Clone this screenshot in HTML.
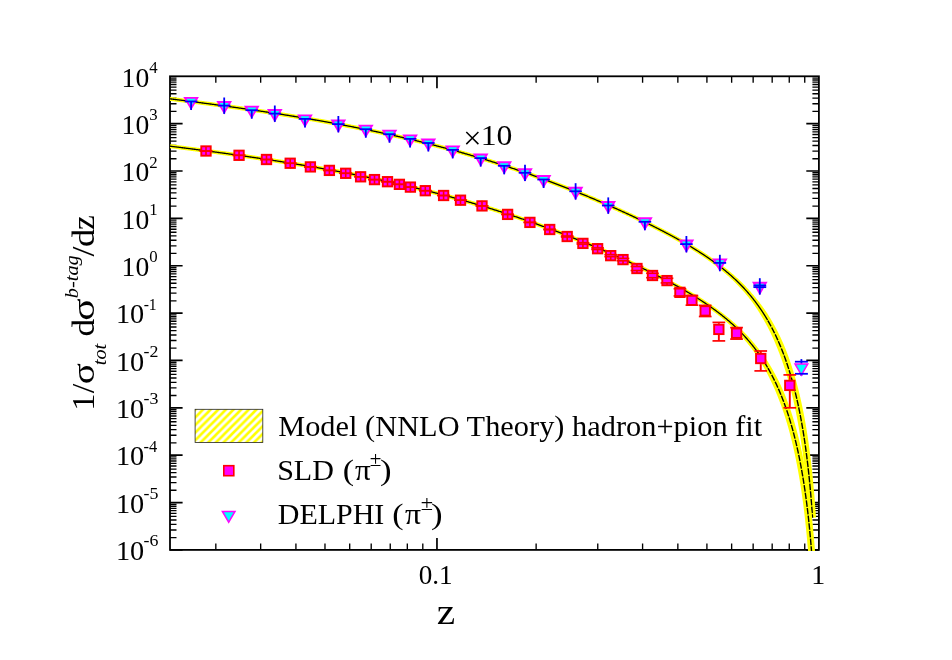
<!DOCTYPE html>
<html><head><meta charset="utf-8"><title>chart</title><style>html,body{margin:0;padding:0;background:#fff;}body{width:952px;height:660px;overflow:hidden;position:relative;font-family:"Liberation Serif",serif;}</style></head><body>
<svg width="952" height="660" viewBox="0 0 952 660" style="position:absolute;left:0;top:0;will-change:transform">
<defs><pattern id="hatch" patternUnits="userSpaceOnUse" width="7.63" height="7.63" x="2.20" y="0"><path d="M-2 9.63 L9.63 -2 M-2 2 L2 -2 M5.63 9.63 L9.63 5.63" stroke="#ffff00" stroke-width="2.6" fill="none"/></pattern>
<clipPath id="plotclip"><rect x="169.80" y="75.30" width="650.10" height="475.60"/></clipPath></defs>
<rect width="952" height="660" fill="#fff"/>
<path d="M436.96 549.90 v-12.00 M436.96 76.30 v12.00 M170.00 549.90 h12.60 M818.90 549.90 h-12.60 M170.00 502.54 h12.60 M818.90 502.54 h-12.60 M170.00 455.18 h12.60 M818.90 455.18 h-12.60 M170.00 407.82 h12.60 M818.90 407.82 h-12.60 M170.00 360.46 h12.60 M818.90 360.46 h-12.60 M170.00 313.10 h12.60 M818.90 313.10 h-12.60 M170.00 265.74 h12.60 M818.90 265.74 h-12.60 M170.00 218.38 h12.60 M818.90 218.38 h-12.60 M170.00 171.02 h12.60 M818.90 171.02 h-12.60 M170.00 123.66 h12.60 M818.90 123.66 h-12.60" stroke="#000" stroke-width="1.70" fill="none"/>
<path d="M215.82 549.90 v-6.50 M215.82 76.30 v6.50 M260.66 549.90 v-6.50 M260.66 76.30 v6.50 M295.92 549.90 v-6.50 M295.92 76.30 v6.50 M324.98 549.90 v-6.50 M324.98 76.30 v6.50 M349.70 549.90 v-6.50 M349.70 76.30 v6.50 M371.21 549.90 v-6.50 M371.21 76.30 v6.50 M390.25 549.90 v-6.50 M390.25 76.30 v6.50 M407.32 549.90 v-6.50 M407.32 76.30 v6.50 M422.80 549.90 v-6.50 M422.80 76.30 v6.50 M536.13 549.90 v-6.50 M536.13 76.30 v6.50 M597.76 549.90 v-6.50 M597.76 76.30 v6.50 M642.59 549.90 v-6.50 M642.59 76.30 v6.50 M677.85 549.90 v-6.50 M677.85 76.30 v6.50 M706.91 549.90 v-6.50 M706.91 76.30 v6.50 M731.64 549.90 v-6.50 M731.64 76.30 v6.50 M753.15 549.90 v-6.50 M753.15 76.30 v6.50 M772.18 549.90 v-6.50 M772.18 76.30 v6.50 M789.26 549.90 v-6.50 M789.26 76.30 v6.50 M804.74 549.90 v-6.50 M804.74 76.30 v6.50 M170.00 537.60 h6.50 M818.90 537.60 h-6.50 M170.00 529.96 h6.50 M818.90 529.96 h-6.50 M170.00 524.40 h6.50 M818.90 524.40 h-6.50 M170.00 520.03 h6.50 M818.90 520.03 h-6.50 M170.00 516.43 h6.50 M818.90 516.43 h-6.50 M170.00 513.36 h6.50 M818.90 513.36 h-6.50 M170.00 510.69 h6.50 M818.90 510.69 h-6.50 M170.00 508.33 h6.50 M818.90 508.33 h-6.50 M170.00 506.22 h6.50 M818.90 506.22 h-6.50 M170.00 504.30 h6.50 M818.90 504.30 h-6.50 M170.00 490.24 h6.50 M818.90 490.24 h-6.50 M170.00 482.60 h6.50 M818.90 482.60 h-6.50 M170.00 477.04 h6.50 M818.90 477.04 h-6.50 M170.00 472.67 h6.50 M818.90 472.67 h-6.50 M170.00 469.07 h6.50 M818.90 469.07 h-6.50 M170.00 466.00 h6.50 M818.90 466.00 h-6.50 M170.00 463.33 h6.50 M818.90 463.33 h-6.50 M170.00 460.97 h6.50 M818.90 460.97 h-6.50 M170.00 458.86 h6.50 M818.90 458.86 h-6.50 M170.00 456.94 h6.50 M818.90 456.94 h-6.50 M170.00 442.88 h6.50 M818.90 442.88 h-6.50 M170.00 435.24 h6.50 M818.90 435.24 h-6.50 M170.00 429.68 h6.50 M818.90 429.68 h-6.50 M170.00 425.31 h6.50 M818.90 425.31 h-6.50 M170.00 421.71 h6.50 M818.90 421.71 h-6.50 M170.00 418.64 h6.50 M818.90 418.64 h-6.50 M170.00 415.97 h6.50 M818.90 415.97 h-6.50 M170.00 413.61 h6.50 M818.90 413.61 h-6.50 M170.00 411.50 h6.50 M818.90 411.50 h-6.50 M170.00 409.58 h6.50 M818.90 409.58 h-6.50 M170.00 395.52 h6.50 M818.90 395.52 h-6.50 M170.00 387.88 h6.50 M818.90 387.88 h-6.50 M170.00 382.32 h6.50 M818.90 382.32 h-6.50 M170.00 377.95 h6.50 M818.90 377.95 h-6.50 M170.00 374.35 h6.50 M818.90 374.35 h-6.50 M170.00 371.28 h6.50 M818.90 371.28 h-6.50 M170.00 368.61 h6.50 M818.90 368.61 h-6.50 M170.00 366.25 h6.50 M818.90 366.25 h-6.50 M170.00 364.14 h6.50 M818.90 364.14 h-6.50 M170.00 362.22 h6.50 M818.90 362.22 h-6.50 M170.00 348.16 h6.50 M818.90 348.16 h-6.50 M170.00 340.52 h6.50 M818.90 340.52 h-6.50 M170.00 334.96 h6.50 M818.90 334.96 h-6.50 M170.00 330.59 h6.50 M818.90 330.59 h-6.50 M170.00 326.99 h6.50 M818.90 326.99 h-6.50 M170.00 323.92 h6.50 M818.90 323.92 h-6.50 M170.00 321.25 h6.50 M818.90 321.25 h-6.50 M170.00 318.89 h6.50 M818.90 318.89 h-6.50 M170.00 316.78 h6.50 M818.90 316.78 h-6.50 M170.00 314.86 h6.50 M818.90 314.86 h-6.50 M170.00 300.80 h6.50 M818.90 300.80 h-6.50 M170.00 293.16 h6.50 M818.90 293.16 h-6.50 M170.00 287.60 h6.50 M818.90 287.60 h-6.50 M170.00 283.23 h6.50 M818.90 283.23 h-6.50 M170.00 279.63 h6.50 M818.90 279.63 h-6.50 M170.00 276.56 h6.50 M818.90 276.56 h-6.50 M170.00 273.89 h6.50 M818.90 273.89 h-6.50 M170.00 271.53 h6.50 M818.90 271.53 h-6.50 M170.00 269.42 h6.50 M818.90 269.42 h-6.50 M170.00 267.50 h6.50 M818.90 267.50 h-6.50 M170.00 253.44 h6.50 M818.90 253.44 h-6.50 M170.00 245.80 h6.50 M818.90 245.80 h-6.50 M170.00 240.24 h6.50 M818.90 240.24 h-6.50 M170.00 235.87 h6.50 M818.90 235.87 h-6.50 M170.00 232.27 h6.50 M818.90 232.27 h-6.50 M170.00 229.20 h6.50 M818.90 229.20 h-6.50 M170.00 226.53 h6.50 M818.90 226.53 h-6.50 M170.00 224.17 h6.50 M818.90 224.17 h-6.50 M170.00 222.06 h6.50 M818.90 222.06 h-6.50 M170.00 220.14 h6.50 M818.90 220.14 h-6.50 M170.00 206.08 h6.50 M818.90 206.08 h-6.50 M170.00 198.44 h6.50 M818.90 198.44 h-6.50 M170.00 192.88 h6.50 M818.90 192.88 h-6.50 M170.00 188.51 h6.50 M818.90 188.51 h-6.50 M170.00 184.91 h6.50 M818.90 184.91 h-6.50 M170.00 181.84 h6.50 M818.90 181.84 h-6.50 M170.00 179.17 h6.50 M818.90 179.17 h-6.50 M170.00 176.81 h6.50 M818.90 176.81 h-6.50 M170.00 174.70 h6.50 M818.90 174.70 h-6.50 M170.00 172.78 h6.50 M818.90 172.78 h-6.50 M170.00 158.72 h6.50 M818.90 158.72 h-6.50 M170.00 151.08 h6.50 M818.90 151.08 h-6.50 M170.00 145.52 h6.50 M818.90 145.52 h-6.50 M170.00 141.15 h6.50 M818.90 141.15 h-6.50 M170.00 137.55 h6.50 M818.90 137.55 h-6.50 M170.00 134.48 h6.50 M818.90 134.48 h-6.50 M170.00 131.81 h6.50 M818.90 131.81 h-6.50 M170.00 129.45 h6.50 M818.90 129.45 h-6.50 M170.00 127.34 h6.50 M818.90 127.34 h-6.50 M170.00 125.42 h6.50 M818.90 125.42 h-6.50 M170.00 111.36 h6.50 M818.90 111.36 h-6.50 M170.00 103.72 h6.50 M818.90 103.72 h-6.50 M170.00 98.16 h6.50 M818.90 98.16 h-6.50 M170.00 93.79 h6.50 M818.90 93.79 h-6.50 M170.00 90.19 h6.50 M818.90 90.19 h-6.50 M170.00 87.12 h6.50 M818.90 87.12 h-6.50 M170.00 84.45 h6.50 M818.90 84.45 h-6.50 M170.00 82.09 h6.50 M818.90 82.09 h-6.50 M170.00 79.98 h6.50 M818.90 79.98 h-6.50 M170.00 78.06 h6.50 M818.90 78.06 h-6.50" stroke="#000" stroke-width="1.35" fill="none"/>
<rect x="170.00" y="76.30" width="648.90" height="473.60" fill="none" stroke="#000" stroke-width="1.80"/>
<g clip-path="url(#plotclip)">
<path d="M169.75 100.80 L170.45 100.88 L171.14 100.97 L171.84 101.06 L172.53 101.14 L173.22 101.23 L173.92 101.32 L174.61 101.41 L175.31 101.49 L176.00 101.58 L176.70 101.67 L177.39 101.75 L178.08 101.84 L178.78 101.93 L179.47 102.02 L180.17 102.11 L180.86 102.19 L181.55 102.28 L182.25 102.37 L182.94 102.46 L183.64 102.55 L184.33 102.64 L185.03 102.72 L185.72 102.81 L186.41 102.90 L187.11 102.99 L187.80 103.08 L188.50 103.17 L189.19 103.26 L189.88 103.35 L190.58 103.44 L191.27 103.53 L191.97 103.62 L192.66 103.71 L193.35 103.80 L194.05 103.89 L194.74 103.98 L195.43 104.07 L196.13 104.16 L196.82 104.25 L197.52 104.34 L198.21 104.43 L198.90 104.52 L199.60 104.61 L200.29 104.70 L200.98 104.79 L201.68 104.88 L202.37 104.98 L203.07 105.07 L203.76 105.16 L204.45 105.25 L205.15 105.34 L205.84 105.43 L206.53 105.53 L207.23 105.62 L207.92 105.71 L208.61 105.80 L209.31 105.90 L210.00 105.99 L210.69 106.08 L211.39 106.18 L212.08 106.27 L212.77 106.36 L213.47 106.46 L214.16 106.55 L214.85 106.64 L215.55 106.74 L216.24 106.83 L216.93 106.92 L217.63 107.02 L218.32 107.11 L219.01 107.21 L219.71 107.30 L220.40 107.40 L221.09 107.49 L221.79 107.59 L222.48 107.68 L223.17 107.78 L223.87 107.87 L224.56 107.97 L225.25 108.06 L225.95 108.16 L226.64 108.26 L227.33 108.35 L228.02 108.45 L228.72 108.54 L229.41 108.64 L230.10 108.74 L230.80 108.83 L231.49 108.93 L232.18 109.03 L232.87 109.13 L233.57 109.22 L234.26 109.32 L234.95 109.42 L235.65 109.52 L236.34 109.61 L237.03 109.71 L237.72 109.81 L238.42 109.91 L239.11 110.01 L239.80 110.11 L240.49 110.21 L241.19 110.30 L241.88 110.40 L242.57 110.50 L243.26 110.60 L243.96 110.70 L244.65 110.80 L245.34 110.90 L246.03 111.00 L246.73 111.10 L247.42 111.20 L248.11 111.30 L248.80 111.41 L249.49 111.51 L250.19 111.61 L250.88 111.71 L251.57 111.81 L252.26 111.91 L252.95 112.01 L253.65 112.12 L254.34 112.22 L255.03 112.32 L255.72 112.42 L256.41 112.53 L257.11 112.63 L257.80 112.73 L258.49 112.83 L259.18 112.94 L259.87 113.04 L260.57 113.15 L261.26 113.25 L261.95 113.35 L262.64 113.46 L263.33 113.56 L264.02 113.67 L264.72 113.77 L265.41 113.88 L266.10 113.98 L266.79 114.09 L267.48 114.19 L268.17 114.30 L268.86 114.40 L269.56 114.51 L270.25 114.62 L270.94 114.72 L271.63 114.83 L272.32 114.94 L273.01 115.04 L273.70 115.15 L274.40 115.26 L275.09 115.37 L275.78 115.47 L276.47 115.58 L277.16 115.69 L277.85 115.80 L278.54 115.91 L279.23 116.02 L279.92 116.12 L280.61 116.23 L281.30 116.34 L282.00 116.45 L282.69 116.56 L283.38 116.67 L284.07 116.78 L284.76 116.89 L285.45 117.00 L286.14 117.11 L286.83 117.22 L287.52 117.34 L288.21 117.45 L288.90 117.56 L289.59 117.67 L290.28 117.78 L290.97 117.89 L291.66 118.01 L292.35 118.12 L293.04 118.23 L293.73 118.35 L294.42 118.46 L295.11 118.57 L295.80 118.69 L296.49 118.80 L297.18 118.91 L297.87 119.03 L298.56 119.14 L299.25 119.26 L299.94 119.37 L300.63 119.49 L301.32 119.60 L302.01 119.72 L302.70 119.84 L303.39 119.95 L304.08 120.07 L304.77 120.18 L305.46 120.30 L306.15 120.42 L306.84 120.54 L307.53 120.65 L308.22 120.77 L308.91 120.89 L309.60 121.01 L310.29 121.13 L310.98 121.24 L311.67 121.36 L312.35 121.48 L313.04 121.60 L313.73 121.72 L314.42 121.84 L315.11 121.96 L315.80 122.08 L316.49 122.20 L317.18 122.32 L317.87 122.44 L318.55 122.56 L319.24 122.69 L319.93 122.81 L320.62 122.93 L321.31 123.05 L322.00 123.17 L322.69 123.30 L323.37 123.42 L324.06 123.54 L324.75 123.67 L325.44 123.79 L326.13 123.92 L326.82 124.04 L327.50 124.16 L328.19 124.29 L328.88 124.41 L329.57 124.54 L330.26 124.66 L330.94 124.79 L331.63 124.92 L332.32 125.04 L333.01 125.17 L333.69 125.30 L334.38 125.42 L335.07 125.55 L335.76 125.68 L336.44 125.81 L337.13 125.93 L337.82 126.06 L338.51 126.19 L339.19 126.32 L339.88 126.45 L340.57 126.58 L341.26 126.71 L341.94 126.84 L342.63 126.97 L343.32 127.10 L344.00 127.23 L344.69 127.36 L345.38 127.49 L346.06 127.63 L346.75 127.76 L347.44 127.89 L348.12 128.02 L348.81 128.15 L349.50 128.29 L350.18 128.42 L350.87 128.55 L351.55 128.69 L352.24 128.82 L352.93 128.96 L353.61 129.09 L354.30 129.23 L354.99 129.36 L355.67 129.50 L356.36 129.63 L357.04 129.77 L357.73 129.91 L358.41 130.04 L359.10 130.18 L359.79 130.32 L360.47 130.46 L361.16 130.59 L361.84 130.73 L362.53 130.87 L363.21 131.01 L363.90 131.15 L364.58 131.29 L365.27 131.43 L365.95 131.57 L366.64 131.71 L367.32 131.85 L368.01 131.99 L368.69 132.13 L369.38 132.27 L370.06 132.42 L370.75 132.56 L371.43 132.70 L372.11 132.84 L372.80 132.99 L373.48 133.13 L374.17 133.27 L374.85 133.42 L375.53 133.56 L376.22 133.71 L376.90 133.85 L377.59 134.00 L378.27 134.14 L378.95 134.29 L379.64 134.44 L380.32 134.58 L381.00 134.73 L381.69 134.88 L382.37 135.03 L383.05 135.17 L383.74 135.32 L384.42 135.47 L385.10 135.62 L385.79 135.77 L386.47 135.92 L387.15 136.07 L387.84 136.22 L388.52 136.37 L389.20 136.52 L389.88 136.67 L390.57 136.82 L391.25 136.97 L391.93 137.13 L392.61 137.28 L393.29 137.43 L393.98 137.58 L394.66 137.74 L395.34 137.89 L396.02 138.05 L396.70 138.20 L397.39 138.36 L398.07 138.51 L398.75 138.67 L399.43 138.82 L400.11 138.98 L400.79 139.14 L401.47 139.29 L402.15 139.45 L402.84 139.61 L403.52 139.77 L404.20 139.92 L404.88 140.08 L405.56 140.24 L406.24 140.40 L406.92 140.56 L407.60 140.72 L408.28 140.88 L408.96 141.04 L409.64 141.20 L410.32 141.37 L411.00 141.53 L411.68 141.69 L412.36 141.85 L413.04 142.02 L413.72 142.18 L414.40 142.34 L415.08 142.51 L415.76 142.67 L416.44 142.84 L417.12 143.00 L417.80 143.17 L418.48 143.33 L419.15 143.50 L419.83 143.66 L420.51 143.83 L421.19 144.00 L421.87 144.17 L422.55 144.33 L423.23 144.50 L423.90 144.67 L424.58 144.84 L425.26 145.01 L425.94 145.18 L426.62 145.35 L427.29 145.52 L427.97 145.69 L428.65 145.86 L429.33 146.04 L430.00 146.21 L430.68 146.38 L431.36 146.55 L432.04 146.73 L432.71 146.90 L433.39 147.07 L434.07 147.25 L434.74 147.42 L435.42 147.60 L436.10 147.77 L436.77 147.95 L437.45 148.13 L438.13 148.30 L438.80 148.48 L439.48 148.66 L440.15 148.83 L440.83 149.01 L441.51 149.19 L442.18 149.37 L442.86 149.55 L443.53 149.73 L444.21 149.91 L444.88 150.09 L445.56 150.27 L446.23 150.45 L446.91 150.63 L447.58 150.82 L448.26 151.00 L448.93 151.18 L449.61 151.37 L450.28 151.55 L450.95 151.73 L451.63 151.92 L452.30 152.10 L452.98 152.29 L453.65 152.47 L454.32 152.66 L455.00 152.85 L455.67 153.03 L456.34 153.22 L457.02 153.41 L457.69 153.59 L458.36 153.78 L459.04 153.97 L459.71 154.16 L460.38 154.35 L461.05 154.54 L461.73 154.73 L462.40 154.92 L463.07 155.11 L463.74 155.30 L464.42 155.50 L465.09 155.69 L465.76 155.88 L466.43 156.07 L467.10 156.27 L467.77 156.46 L468.44 156.66 L469.12 156.85 L469.79 157.05 L470.46 157.24 L471.13 157.44 L471.80 157.63 L472.47 157.83 L473.14 158.03 L473.81 158.23 L474.48 158.42 L475.15 158.62 L475.82 158.82 L476.49 159.02 L477.16 159.22 L477.83 159.42 L478.50 159.62 L479.17 159.82 L479.84 160.02 L480.51 160.23 L481.18 160.43 L481.84 160.63 L482.51 160.83 L483.18 161.04 L483.85 161.24 L484.52 161.44 L485.19 161.65 L485.86 161.85 L486.52 162.06 L487.19 162.27 L487.86 162.47 L488.53 162.68 L489.19 162.89 L489.86 163.09 L490.53 163.30 L491.20 163.51 L491.86 163.72 L492.53 163.93 L493.20 164.14 L493.86 164.35 L494.53 164.56 L495.20 164.77 L495.86 164.98 L496.53 165.19 L497.19 165.40 L497.86 165.61 L498.52 165.83 L499.19 166.04 L499.86 166.25 L500.52 166.47 L501.19 166.68 L501.85 166.90 L502.52 167.11 L503.18 167.33 L503.84 167.54 L504.51 167.76 L505.17 167.98 L505.84 168.20 L506.50 168.41 L507.17 168.63 L507.83 168.85 L508.49 169.07 L509.16 169.29 L509.82 169.51 L510.48 169.73 L511.15 169.95 L511.81 170.17 L512.47 170.39 L513.13 170.61 L513.80 170.84 L514.46 171.06 L515.12 171.28 L515.78 171.51 L516.45 171.73 L517.11 171.95 L517.77 172.18 L518.43 172.40 L519.09 172.63 L519.75 172.86 L520.41 173.08 L521.07 173.31 L521.74 173.54 L522.40 173.77 L523.06 173.99 L523.72 174.22 L524.38 174.45 L525.04 174.68 L525.70 174.91 L526.36 175.14 L527.02 175.37 L527.68 175.60 L528.34 175.83 L529.00 176.07 L529.65 176.30 L530.31 176.53 L530.97 176.76 L531.63 177.00 L532.29 177.23 L532.95 177.47 L533.61 177.70 L534.26 177.94 L534.92 178.17 L535.58 178.41 L536.24 178.64 L536.89 178.88 L537.55 179.12 L538.21 179.36 L538.87 179.59 L539.52 179.83 L540.18 180.07 L540.84 180.31 L541.49 180.55 L542.15 180.79 L542.81 181.03 L543.46 181.27 L544.12 181.51 L544.77 181.75 L545.43 182.00 L546.08 182.24 L546.74 182.48 L547.39 182.72 L548.05 182.97 L548.70 183.21 L549.36 183.46 L550.01 183.70 L550.67 183.95 L551.32 184.19 L551.98 184.44 L552.63 184.69 L553.28 184.93 L553.94 185.18 L554.59 185.43 L555.24 185.68 L555.90 185.93 L556.55 186.17 L557.20 186.42 L557.86 186.67 L558.51 186.92 L559.16 187.17 L559.81 187.43 L560.46 187.68 L561.12 187.93 L561.77 188.18 L562.42 188.43 L563.07 188.69 L563.72 188.94 L564.37 189.19 L565.02 189.45 L565.68 189.70 L566.33 189.96 L566.98 190.21 L567.63 190.47 L568.28 190.72 L568.93 190.98 L569.58 191.24 L570.23 191.50 L570.88 191.75 L571.53 192.01 L572.18 192.27 L572.82 192.53 L573.47 192.79 L574.12 193.05 L574.77 193.31 L575.42 193.57 L576.07 193.83 L576.72 194.09 L577.36 194.35 L578.01 194.62 L578.66 194.88 L579.31 195.14 L579.95 195.40 L580.60 195.67 L581.25 195.93 L581.89 196.20 L582.54 196.46 L583.19 196.73 L583.83 196.99 L584.48 197.26 L585.13 197.53 L585.77 197.79 L586.42 198.06 L587.06 198.33 L587.71 198.60 L588.35 198.86 L589.00 199.13 L589.64 199.40 L590.29 199.67 L590.93 199.94 L591.58 200.21 L592.22 200.48 L592.87 200.75 L593.51 201.03 L594.15 201.30 L594.80 201.57 L595.44 201.84 L596.08 202.12 L596.73 202.39 L597.37 202.66 L598.01 202.94 L598.66 203.21 L599.30 203.49 L599.94 203.76 L600.58 204.04 L601.22 204.32 L601.87 204.59 L602.51 204.87 L603.15 205.15 L603.79 205.43 L604.43 205.70 L605.07 205.98 L605.71 206.26 L606.35 206.54 L606.99 206.82 L607.63 207.10 L608.27 207.38 L608.91 207.66 L609.55 207.95 L610.19 208.23 L610.83 208.51 L611.47 208.79 L612.11 209.08 L612.75 209.36 L613.39 209.64 L614.02 209.93 L614.66 210.21 L615.30 210.50 L615.94 210.78 L616.58 211.07 L617.21 211.36 L617.85 211.64 L618.49 211.93 L619.12 212.22 L619.76 212.51 L620.40 212.80 L621.03 213.09 L621.67 213.37 L622.30 213.66 L622.94 213.96 L623.58 214.25 L624.21 214.54 L624.85 214.83 L625.48 215.12 L626.12 215.41 L626.75 215.71 L627.38 216.00 L628.02 216.29 L628.65 216.59 L629.29 216.88 L629.92 217.18 L630.55 217.47 L631.18 217.77 L631.82 218.07 L632.45 218.36 L633.08 218.66 L633.71 218.96 L634.35 219.26 L634.98 219.55 L635.61 219.85 L636.24 220.15 L636.87 220.45 L637.50 220.75 L638.13 221.06 L638.76 221.36 L639.39 221.66 L640.02 221.96 L640.65 222.26 L641.28 222.57 L641.91 222.87 L642.54 223.18 L643.17 223.48 L643.79 223.79 L644.42 224.09 L645.05 224.40 L645.68 224.71 L646.30 225.01 L646.93 225.32 L647.56 225.63 L648.18 225.94 L648.81 226.25 L649.44 226.56 L650.06 226.87 L650.69 227.18 L651.31 227.49 L651.94 227.81 L652.56 228.12 L653.18 228.43 L653.81 228.75 L654.43 229.06 L655.05 229.38 L655.68 229.69 L656.30 230.01 L656.92 230.33 L657.54 230.64 L658.16 230.96 L658.79 231.28 L659.41 231.60 L660.03 231.92 L660.65 232.24 L661.27 232.56 L661.89 232.88 L662.51 233.21 L663.12 233.53 L663.74 233.85 L664.36 234.18 L664.98 234.50 L665.60 234.83 L666.21 235.15 L666.83 235.48 L667.45 235.81 L668.06 236.14 L668.68 236.47 L669.29 236.80 L669.91 237.13 L670.52 237.46 L671.13 237.79 L671.75 238.12 L672.36 238.46 L672.97 238.79 L673.58 239.13 L674.20 239.46 L674.81 239.80 L675.42 240.14 L676.03 240.48 L676.64 240.81 L677.25 241.15 L677.86 241.50 L678.46 241.84 L679.07 242.18 L679.68 242.52 L680.28 242.87 L680.89 243.21 L681.50 243.56 L682.10 243.90 L682.71 244.25 L683.31 244.60 L683.91 244.95 L684.52 245.30 L685.12 245.65 L685.72 246.00 L686.32 246.36 L686.92 246.71 L687.52 247.07 L688.12 247.43 L688.71 247.79 L689.31 248.15 L689.91 248.51 L690.50 248.87 L691.10 249.23 L691.69 249.60 L692.28 249.96 L692.88 250.33 L693.47 250.70 L694.06 251.07 L694.65 251.44 L695.24 251.81 L695.83 252.18 L696.42 252.55 L697.00 252.92 L697.59 253.30 L698.18 253.68 L698.76 254.05 L699.35 254.43 L699.93 254.81 L700.51 255.19 L701.09 255.58 L701.67 255.96 L702.25 256.34 L702.83 256.73 L703.41 257.12 L703.99 257.51 L704.56 257.90 L705.14 258.29 L705.71 258.68 L706.29 259.07 L706.86 259.47 L707.43 259.87 L708.00 260.26 L708.57 260.66 L709.14 261.06 L709.71 261.47 L710.27 261.87 L710.84 262.27 L711.40 262.68 L711.96 263.09 L712.53 263.50 L713.09 263.91 L713.64 264.32 L714.20 264.74 L714.76 265.15 L715.32 265.57 L715.87 265.99 L716.42 266.41 L716.98 266.83 L717.53 267.25 L718.08 267.68 L718.62 268.10 L719.17 268.53 L719.72 268.96 L720.26 269.39 L720.80 269.82 L721.35 270.26 L721.88 270.70 L722.42 271.14 L722.95 271.58 L723.48 272.03 L724.01 272.48 L724.54 272.93 L725.07 273.38 L725.60 273.83 L726.12 274.28 L726.64 274.74 L727.17 275.19 L727.69 275.65 L728.20 276.11 L728.72 276.58 L729.24 277.04 L729.75 277.51 L730.26 277.97 L730.77 278.44 L731.28 278.91 L731.78 279.39 L732.29 279.86 L732.79 280.34 L733.29 280.82 L733.79 281.30 L734.29 281.78 L734.79 282.26 L735.28 282.75 L735.77 283.24 L736.26 283.72 L736.75 284.22 L737.24 284.71 L737.72 285.20 L738.20 285.70 L738.68 286.20 L739.16 286.70 L739.64 287.20 L740.12 287.70 L740.59 288.21 L741.06 288.71 L741.53 289.22 L741.99 289.73 L742.46 290.24 L742.92 290.76 L743.38 291.28 L743.84 291.79 L744.30 292.31 L744.75 292.84 L745.20 293.36 L745.65 293.89 L746.10 294.41 L746.54 294.94 L746.99 295.47 L747.43 296.00 L747.87 296.54 L748.30 297.07 L748.74 297.61 L749.17 298.15 L749.60 298.69 L750.03 299.24 L750.45 299.78 L750.88 300.33 L751.30 300.87 L751.72 301.42 L752.14 301.97 L752.55 302.53 L752.96 303.08 L753.36 303.65 L753.76 304.21 L754.15 304.78 L754.55 305.35 L754.94 305.92 L755.33 306.49 L755.71 307.06 L756.10 307.64 L756.48 308.21 L756.86 308.79 L757.24 309.37 L757.61 309.95 L757.99 310.53 L758.36 311.11 L758.73 311.69 L759.09 312.28 L759.46 312.87 L759.82 313.45 L760.18 314.04 L760.54 314.63 L760.89 315.23 L761.24 315.82 L761.60 316.41 L761.95 317.01 L762.31 317.60 L762.66 318.19 L763.01 318.78 L763.36 319.38 L763.71 319.98 L764.05 320.58 L764.39 321.17 L764.73 321.78 L765.07 322.38 L765.41 322.98 L765.74 323.58 L766.07 324.19 L766.40 324.80 L766.73 325.40 L767.06 326.01 L767.38 326.62 L767.70 327.24 L768.02 327.85 L768.34 328.46 L768.65 329.08 L768.96 329.69 L769.28 330.31 L769.58 330.93 L769.89 331.55 L770.20 332.17 L770.50 332.79 L770.80 333.41 L771.10 334.03 L771.40 334.66 L771.69 335.28 L771.98 335.91 L772.28 336.53 L772.57 337.16 L772.85 337.79 L773.14 338.42 L773.42 339.05 L773.70 339.68 L773.98 340.31 L774.26 340.95 L774.54 341.58 L774.81 342.22 L775.08 342.85 L775.35 343.49 L775.62 344.13 L775.89 344.76 L776.16 345.40 L776.42 346.04 L776.68 346.68 L776.94 347.33 L777.20 347.97 L777.45 348.61 L777.71 349.25 L777.96 349.90 L778.21 350.54 L778.46 351.19 L778.72 351.83 L778.97 352.48 L779.22 353.12 L779.47 353.77 L779.72 354.42 L779.97 355.06 L780.21 355.71 L780.46 356.36 L780.70 357.01 L780.94 357.66 L781.18 358.31 L781.41 358.96 L781.65 359.61 L781.88 360.27 L782.11 360.92 L782.34 361.57 L782.57 362.23 L782.80 362.88 L783.03 363.54 L783.25 364.20 L783.47 364.85 L783.69 365.51 L783.91 366.17 L784.13 366.83 L784.35 367.49 L784.56 368.15 L784.78 368.81 L784.99 369.47 L785.20 370.13 L785.41 370.79 L785.62 371.45 L785.83 372.12 L786.03 372.78 L786.23 373.45 L786.44 374.11 L786.64 374.77 L786.84 375.44 L787.04 376.11 L787.23 376.77 L787.43 377.44 L787.62 378.11 L787.82 378.77 L788.01 379.44 L788.20 380.11 L788.39 380.78 L788.58 381.45 L788.76 382.12 L788.95 382.79 L789.13 383.46 L789.32 384.13 L789.50 384.80 L789.68 385.47 L789.86 386.15 L790.03 386.82 L790.21 387.49 L790.39 388.16 L790.56 388.84 L790.73 389.51 L790.91 390.19 L791.08 390.86 L791.25 391.54 L791.42 392.21 L791.58 392.89 L791.75 393.56 L791.91 394.24 L792.08 394.92 L792.24 395.59 L792.40 396.27 L792.56 396.95 L792.72 397.63 L792.88 398.30 L793.04 398.98 L793.20 399.66 L793.35 400.34 L793.51 401.02 L793.66 401.70 L793.81 402.38 L793.96 403.06 L794.11 403.74 L794.26 404.42 L794.41 405.10 L794.56 405.78 L794.70 406.46 L794.85 407.15 L794.99 407.83 L795.13 408.51 L795.28 409.19 L795.42 409.88 L795.56 410.56 L795.70 411.24 L795.83 411.92 L795.97 412.61 L796.11 413.29 L796.24 413.98 L796.38 414.66 L796.51 415.35 L796.65 416.03 L796.78 416.71 L796.91 417.40 L797.04 418.09 L797.17 418.77 L797.30 419.46 L797.42 420.14 L797.55 420.83 L797.67 421.52 L797.80 422.20 L797.93 422.89 L798.05 423.57 L798.18 424.26 L798.30 424.95 L798.42 425.63 L798.55 426.32 L798.67 427.01 L798.79 427.70 L798.91 428.38 L799.03 429.07 L799.15 429.76 L799.26 430.45 L799.38 431.14 L799.50 431.83 L799.61 432.51 L799.73 433.20 L799.84 433.89 L799.95 434.58 L800.06 435.27 L800.18 435.96 L800.29 436.65 L800.40 437.34 L800.51 438.03 L800.61 438.72 L800.72 439.41 L800.83 440.10 L800.93 440.79 L801.04 441.48 L801.14 442.17 L801.25 442.86 L801.35 443.56 L801.45 444.25 L801.55 444.94 L801.66 445.63 L801.76 446.32 L801.86 447.01 L801.96 447.70 L802.05 448.40 L802.15 449.09 L802.25 449.78 L802.34 450.47 L802.44 451.17 L802.54 451.86 L802.63 452.55 L802.72 453.24 L802.82 453.94 L802.91 454.63 L803.00 455.32 L803.09 456.02 L803.18 456.71 L803.27 457.40 L803.36 458.10 L803.45 458.79 L803.54 459.48 L803.63 460.18 L803.71 460.87 L803.80 461.57 L803.88 462.26 L803.97 462.95 L804.05 463.65 L804.14 464.34 L804.22 465.04 L804.30 465.73 L804.39 466.43 L804.47 467.12 L804.55 467.82 L804.63 468.51 L804.71 469.21 L804.79 469.90 L804.87 470.60 L804.95 471.29 L805.02 471.99 L805.10 472.68 L805.18 473.38 L805.25 474.07 L805.33 474.77 L805.40 475.47 L805.48 476.16 L805.55 476.86 L805.63 477.55 L805.70 478.25 L805.77 478.95 L805.84 479.64 L805.92 480.34 L805.99 481.04 L806.06 481.73 L806.13 482.43 L806.20 483.12 L806.27 483.82 L806.33 484.52 L806.40 485.22 L806.47 485.91 L806.54 486.61 L806.60 487.31 L806.67 488.00 L806.74 488.70 L806.80 489.40 L806.87 490.09 L806.93 490.79 L806.99 491.49 L807.06 492.19 L807.12 492.88 L807.18 493.58 L807.24 494.28 L807.30 494.98 L807.36 495.67 L807.42 496.37 L807.48 497.07 L807.54 497.77 L807.60 498.47 L807.66 499.16 L807.72 499.86 L807.78 500.56 L807.83 501.26 L807.89 501.96 L807.95 502.65 L808.00 503.35 L808.06 504.05 L808.11 504.75 L808.17 505.45 L808.22 506.15 L808.28 506.84 L808.33 507.54 L808.38 508.24 L808.44 508.94 L808.49 509.64 L808.54 510.34 L808.59 511.04 L808.64 511.74 L808.69 512.43 L808.75 513.13 L808.80 513.83 L808.85 514.53 L808.90 515.23 L808.94 515.93 L808.99 516.63 L809.04 517.33 L809.09 518.03 L816.02 517.55 L815.98 516.85 L815.93 516.15 L815.88 515.45 L815.83 514.75 L815.78 514.04 L815.74 513.34 L815.69 512.64 L815.64 511.93 L815.59 511.23 L815.54 510.53 L815.48 509.83 L815.43 509.12 L815.38 508.42 L815.33 507.72 L815.28 507.02 L815.22 506.32 L815.17 505.61 L815.12 504.91 L815.06 504.21 L815.01 503.51 L814.95 502.80 L814.90 502.10 L814.84 501.40 L814.79 500.70 L814.73 499.99 L814.68 499.29 L814.62 498.59 L814.56 497.89 L814.50 497.19 L814.44 496.48 L814.39 495.78 L814.33 495.08 L814.27 494.38 L814.21 493.67 L814.15 492.97 L814.09 492.27 L814.02 491.57 L813.96 490.87 L813.90 490.16 L813.84 489.46 L813.78 488.76 L813.71 488.06 L813.65 487.36 L813.59 486.66 L813.52 485.95 L813.46 485.25 L813.39 484.55 L813.33 483.85 L813.26 483.15 L813.20 482.44 L813.13 481.74 L813.06 481.04 L812.99 480.34 L812.92 479.64 L812.86 478.94 L812.79 478.23 L812.72 477.53 L812.65 476.83 L812.58 476.13 L812.50 475.43 L812.43 474.73 L812.36 474.03 L812.29 473.32 L812.21 472.62 L812.14 471.92 L812.07 471.22 L811.99 470.52 L811.92 469.82 L811.84 469.12 L811.76 468.42 L811.69 467.72 L811.61 467.01 L811.53 466.31 L811.45 465.61 L811.37 464.91 L811.29 464.21 L811.21 463.51 L811.13 462.81 L811.05 462.11 L810.97 461.41 L810.89 460.71 L810.80 460.01 L810.72 459.31 L810.63 458.61 L810.55 457.91 L810.46 457.21 L810.38 456.51 L810.29 455.81 L810.20 455.10 L810.12 454.40 L810.03 453.70 L809.94 453.00 L809.85 452.30 L809.76 451.60 L809.67 450.90 L809.57 450.21 L809.48 449.51 L809.39 448.81 L809.29 448.11 L809.20 447.41 L809.11 446.71 L809.01 446.01 L808.91 445.31 L808.82 444.61 L808.72 443.91 L808.62 443.21 L808.52 442.51 L808.42 441.81 L808.32 441.11 L808.22 440.42 L808.12 439.72 L808.02 439.02 L807.91 438.32 L807.81 437.62 L807.70 436.92 L807.60 436.22 L807.49 435.53 L807.38 434.83 L807.28 434.13 L807.17 433.43 L807.06 432.73 L806.95 432.04 L806.84 431.34 L806.73 430.64 L806.61 429.94 L806.50 429.24 L806.39 428.55 L806.27 427.85 L806.16 427.15 L806.04 426.46 L805.92 425.76 L805.81 425.06 L805.69 424.36 L805.57 423.67 L805.45 422.97 L805.33 422.28 L805.20 421.58 L805.08 420.88 L804.95 420.19 L804.83 419.49 L804.70 418.80 L804.57 418.10 L804.44 417.41 L804.31 416.71 L804.18 416.02 L804.04 415.32 L803.91 414.63 L803.78 413.93 L803.64 413.24 L803.50 412.54 L803.37 411.85 L803.23 411.16 L803.09 410.46 L802.95 409.77 L802.81 409.08 L802.67 408.38 L802.52 407.69 L802.38 407.00 L802.23 406.30 L802.09 405.61 L801.94 404.92 L801.79 404.23 L801.64 403.53 L801.49 402.84 L801.34 402.15 L801.19 401.46 L801.03 400.77 L800.88 400.08 L800.72 399.39 L800.57 398.70 L800.41 398.01 L800.25 397.32 L800.09 396.63 L799.93 395.94 L799.77 395.25 L799.60 394.56 L799.44 393.87 L799.27 393.18 L799.10 392.49 L798.94 391.80 L798.77 391.11 L798.60 390.43 L798.43 389.74 L798.25 389.05 L798.08 388.36 L797.90 387.68 L797.73 386.99 L797.55 386.30 L797.37 385.62 L797.19 384.93 L797.01 384.25 L796.83 383.56 L796.64 382.88 L796.46 382.19 L796.27 381.51 L796.08 380.82 L795.89 380.14 L795.70 379.46 L795.51 378.77 L795.32 378.09 L795.12 377.41 L794.93 376.72 L794.73 376.04 L794.53 375.36 L794.33 374.68 L794.13 374.00 L793.93 373.32 L793.72 372.64 L793.52 371.96 L793.31 371.28 L793.10 370.60 L792.89 369.92 L792.68 369.24 L792.47 368.57 L792.25 367.89 L792.04 367.21 L791.82 366.54 L791.60 365.86 L791.38 365.18 L791.16 364.51 L790.94 363.83 L790.71 363.16 L790.48 362.49 L790.26 361.81 L790.03 361.14 L789.79 360.47 L789.56 359.80 L789.33 359.12 L789.09 358.45 L788.85 357.78 L788.61 357.11 L788.37 356.44 L788.13 355.77 L787.88 355.11 L787.64 354.44 L787.39 353.77 L787.14 353.10 L786.89 352.44 L786.63 351.77 L786.38 351.11 L786.12 350.44 L785.86 349.78 L785.60 349.12 L785.34 348.46 L785.07 347.80 L784.79 347.14 L784.52 346.48 L784.24 345.82 L783.96 345.17 L783.68 344.51 L783.40 343.86 L783.12 343.21 L782.83 342.55 L782.54 341.90 L782.25 341.25 L781.96 340.60 L781.66 339.95 L781.37 339.30 L781.07 338.65 L780.77 338.01 L780.47 337.36 L780.16 336.72 L779.85 336.07 L779.55 335.43 L779.24 334.79 L778.92 334.15 L778.61 333.51 L778.29 332.87 L777.97 332.23 L777.65 331.59 L777.33 330.95 L777.00 330.32 L776.68 329.68 L776.35 329.05 L776.02 328.42 L775.68 327.79 L775.35 327.16 L775.01 326.53 L774.67 325.90 L774.32 325.28 L773.98 324.65 L773.63 324.03 L773.28 323.40 L772.93 322.78 L772.58 322.16 L772.22 321.54 L771.87 320.92 L771.51 320.31 L771.14 319.69 L770.78 319.08 L770.41 318.47 L770.04 317.85 L769.67 317.24 L769.30 316.64 L768.92 316.03 L768.54 315.42 L768.16 314.82 L767.78 314.22 L767.39 313.61 L767.00 313.02 L766.61 312.42 L766.21 311.83 L765.80 311.24 L765.40 310.65 L764.99 310.07 L764.58 309.48 L764.17 308.90 L763.76 308.32 L763.34 307.74 L762.92 307.16 L762.50 306.58 L762.08 306.01 L761.65 305.43 L761.22 304.86 L760.79 304.29 L760.36 303.72 L759.93 303.16 L759.49 302.59 L759.05 302.03 L758.61 301.47 L758.16 300.91 L757.72 300.36 L757.27 299.80 L756.83 299.24 L756.38 298.69 L755.94 298.13 L755.49 297.57 L755.05 297.02 L754.59 296.47 L754.14 295.92 L753.69 295.37 L753.23 294.82 L752.77 294.28 L752.31 293.74 L751.84 293.20 L751.38 292.66 L750.91 292.12 L750.44 291.59 L749.97 291.05 L749.49 290.52 L749.02 290.00 L748.54 289.47 L748.06 288.94 L747.57 288.42 L747.09 287.90 L746.60 287.38 L746.12 286.86 L745.63 286.35 L745.13 285.83 L744.64 285.32 L744.14 284.81 L743.65 284.30 L743.15 283.80 L742.65 283.29 L742.14 282.79 L741.64 282.29 L741.13 281.80 L740.62 281.30 L740.11 280.81 L739.60 280.31 L739.08 279.82 L738.57 279.34 L738.05 278.85 L737.53 278.37 L737.01 277.88 L736.49 277.40 L735.96 276.93 L735.43 276.45 L734.91 275.98 L734.38 275.51 L733.85 275.03 L733.31 274.57 L732.78 274.10 L732.24 273.64 L731.71 273.17 L731.17 272.71 L730.63 272.26 L730.08 271.80 L729.54 271.34 L729.00 270.89 L728.45 270.44 L727.90 269.99 L727.35 269.54 L726.80 269.10 L726.25 268.65 L725.70 268.21 L725.14 267.77 L724.59 267.34 L724.03 266.90 L723.47 266.46 L722.92 266.02 L722.36 265.59 L721.80 265.15 L721.24 264.72 L720.68 264.29 L720.12 263.86 L719.55 263.44 L718.99 263.01 L718.42 262.59 L717.86 262.17 L717.29 261.75 L716.72 261.33 L716.15 260.91 L715.58 260.50 L715.00 260.08 L714.43 259.67 L713.85 259.26 L713.28 258.85 L712.70 258.44 L712.12 258.04 L711.55 257.63 L710.97 257.23 L710.39 256.83 L709.80 256.43 L709.22 256.03 L708.64 255.63 L708.05 255.24 L707.47 254.84 L706.88 254.45 L706.30 254.06 L705.71 253.67 L705.12 253.28 L704.53 252.90 L703.94 252.51 L703.35 252.12 L702.76 251.74 L702.17 251.36 L701.57 250.98 L700.98 250.60 L700.38 250.22 L699.79 249.84 L699.19 249.47 L698.60 249.10 L698.00 248.72 L697.40 248.35 L696.80 247.98 L696.20 247.61 L695.60 247.24 L695.00 246.87 L694.40 246.51 L693.80 246.14 L693.19 245.78 L692.59 245.42 L691.99 245.05 L691.38 244.69 L690.78 244.33 L690.17 243.98 L689.57 243.62 L688.96 243.26 L688.35 242.91 L687.74 242.55 L687.14 242.20 L686.53 241.84 L685.92 241.49 L685.31 241.14 L684.70 240.79 L684.09 240.43 L683.48 240.08 L682.87 239.74 L682.26 239.39 L681.65 239.04 L681.04 238.70 L680.42 238.35 L679.81 238.01 L679.20 237.66 L678.58 237.32 L677.97 236.98 L677.35 236.64 L676.74 236.30 L676.12 235.96 L675.51 235.62 L674.89 235.28 L674.27 234.95 L673.66 234.61 L673.04 234.27 L672.42 233.94 L671.80 233.61 L671.19 233.27 L670.57 232.94 L669.95 232.61 L669.33 232.28 L668.71 231.95 L668.09 231.62 L667.47 231.29 L666.84 230.96 L666.22 230.64 L665.60 230.31 L664.98 229.98 L664.36 229.66 L663.73 229.33 L663.11 229.01 L662.49 228.69 L661.86 228.37 L661.24 228.04 L660.61 227.72 L659.99 227.40 L659.36 227.08 L658.74 226.76 L658.11 226.44 L657.49 226.13 L656.86 225.81 L656.23 225.49 L655.61 225.18 L654.98 224.86 L654.35 224.54 L653.73 224.23 L653.10 223.92 L652.47 223.60 L651.84 223.29 L651.21 222.98 L650.58 222.67 L649.96 222.35 L649.33 222.04 L648.70 221.73 L648.07 221.42 L647.44 221.11 L646.81 220.81 L646.18 220.50 L645.54 220.19 L644.91 219.88 L644.28 219.58 L643.65 219.27 L643.02 218.97 L642.39 218.66 L641.75 218.36 L641.12 218.05 L640.49 217.75 L639.86 217.45 L639.22 217.14 L638.59 216.84 L637.96 216.54 L637.32 216.24 L636.69 215.94 L636.05 215.64 L635.42 215.34 L634.79 215.04 L634.15 214.74 L633.52 214.44 L632.88 214.15 L632.25 213.85 L631.61 213.55 L630.97 213.26 L630.34 212.96 L629.70 212.66 L629.06 212.37 L628.43 212.08 L627.79 211.78 L627.15 211.49 L626.52 211.19 L625.88 210.90 L625.24 210.61 L624.60 210.32 L623.97 210.03 L623.33 209.73 L622.69 209.44 L622.05 209.15 L621.41 208.86 L620.77 208.58 L620.13 208.29 L619.49 208.00 L618.85 207.71 L618.21 207.42 L617.57 207.13 L616.93 206.85 L616.29 206.56 L615.65 206.28 L615.01 205.99 L614.37 205.71 L613.73 205.42 L613.09 205.14 L612.45 204.85 L611.81 204.57 L611.17 204.29 L610.52 204.00 L609.88 203.72 L609.24 203.44 L608.60 203.16 L607.95 202.88 L607.31 202.60 L606.67 202.32 L606.03 202.04 L605.38 201.76 L604.74 201.48 L604.10 201.20 L603.45 200.92 L602.81 200.64 L602.16 200.37 L601.52 200.09 L600.87 199.81 L600.23 199.54 L599.58 199.26 L598.94 198.99 L598.29 198.71 L597.65 198.44 L597.00 198.16 L596.36 197.89 L595.71 197.61 L595.07 197.34 L594.42 197.07 L593.77 196.80 L593.13 196.52 L592.48 196.25 L591.83 195.98 L591.19 195.71 L590.54 195.44 L589.89 195.17 L589.24 194.90 L588.60 194.63 L587.95 194.36 L587.30 194.10 L586.65 193.83 L586.00 193.56 L585.36 193.29 L584.71 193.03 L584.06 192.76 L583.41 192.50 L582.76 192.23 L582.11 191.96 L581.46 191.70 L580.81 191.44 L580.16 191.17 L579.51 190.91 L578.86 190.65 L578.21 190.38 L577.56 190.12 L576.91 189.86 L576.26 189.60 L575.61 189.34 L574.96 189.08 L574.31 188.81 L573.66 188.55 L573.00 188.30 L572.35 188.04 L571.70 187.78 L571.05 187.52 L570.40 187.26 L569.74 187.00 L569.09 186.75 L568.44 186.49 L567.79 186.23 L567.13 185.98 L566.48 185.72 L565.83 185.47 L565.17 185.21 L564.52 184.96 L563.87 184.70 L563.21 184.45 L562.56 184.20 L561.90 183.94 L561.25 183.69 L560.60 183.44 L559.94 183.19 L559.29 182.94 L558.63 182.69 L557.98 182.44 L557.32 182.19 L556.67 181.94 L556.01 181.69 L555.35 181.44 L554.70 181.19 L554.04 180.94 L553.39 180.70 L552.73 180.45 L552.07 180.20 L551.42 179.96 L550.76 179.71 L550.10 179.47 L549.45 179.22 L548.79 178.98 L548.13 178.73 L547.47 178.49 L546.82 178.24 L546.16 178.00 L545.50 177.76 L544.84 177.52 L544.18 177.27 L543.52 177.03 L542.87 176.79 L542.21 176.55 L541.55 176.31 L540.89 176.07 L540.23 175.83 L539.57 175.59 L538.91 175.36 L538.25 175.12 L537.59 174.88 L536.93 174.64 L536.27 174.41 L535.61 174.17 L534.95 173.93 L534.29 173.70 L533.63 173.46 L532.97 173.23 L532.31 172.99 L531.65 172.76 L530.99 172.53 L530.32 172.29 L529.66 172.06 L529.00 171.83 L528.34 171.60 L527.68 171.36 L527.01 171.13 L526.35 170.90 L525.69 170.67 L525.03 170.44 L524.36 170.21 L523.70 169.98 L523.04 169.76 L522.37 169.53 L521.71 169.30 L521.05 169.07 L520.38 168.85 L519.72 168.62 L519.06 168.39 L518.39 168.17 L517.73 167.94 L517.06 167.72 L516.40 167.49 L515.74 167.27 L515.07 167.05 L514.41 166.82 L513.74 166.60 L513.08 166.38 L512.41 166.15 L511.74 165.93 L511.08 165.71 L510.41 165.49 L509.75 165.27 L509.08 165.05 L508.42 164.83 L507.75 164.61 L507.08 164.39 L506.42 164.18 L505.75 163.96 L505.08 163.74 L504.42 163.52 L503.75 163.31 L503.08 163.09 L502.41 162.88 L501.75 162.66 L501.08 162.45 L500.41 162.23 L499.74 162.02 L499.08 161.80 L498.41 161.59 L497.74 161.38 L497.07 161.17 L496.40 160.95 L495.73 160.74 L495.07 160.53 L494.40 160.32 L493.73 160.11 L493.06 159.90 L492.39 159.69 L491.72 159.48 L491.05 159.27 L490.38 159.06 L489.71 158.86 L489.04 158.65 L488.37 158.44 L487.70 158.24 L487.03 158.03 L486.36 157.82 L485.69 157.62 L485.02 157.41 L484.35 157.21 L483.68 157.01 L483.01 156.80 L482.33 156.60 L481.66 156.40 L480.99 156.19 L480.32 155.99 L479.65 155.79 L478.98 155.59 L478.30 155.39 L477.63 155.19 L476.96 154.99 L476.29 154.79 L475.62 154.59 L474.94 154.39 L474.27 154.19 L473.60 153.99 L472.92 153.80 L472.25 153.60 L471.58 153.40 L470.91 153.21 L470.23 153.01 L469.56 152.82 L468.88 152.62 L468.21 152.43 L467.54 152.23 L466.86 152.04 L466.19 151.84 L465.52 151.65 L464.84 151.46 L464.17 151.27 L463.49 151.07 L462.82 150.88 L462.14 150.69 L461.47 150.50 L460.79 150.31 L460.12 150.12 L459.44 149.93 L458.77 149.74 L458.09 149.55 L457.42 149.37 L456.74 149.18 L456.06 148.99 L455.39 148.80 L454.71 148.62 L454.04 148.43 L453.36 148.24 L452.68 148.06 L452.01 147.87 L451.33 147.69 L450.66 147.51 L449.98 147.32 L449.30 147.14 L448.62 146.95 L447.95 146.77 L447.27 146.59 L446.59 146.41 L445.92 146.23 L445.24 146.05 L444.56 145.86 L443.88 145.68 L443.21 145.50 L442.53 145.32 L441.85 145.15 L441.17 144.97 L440.49 144.79 L439.82 144.61 L439.14 144.43 L438.46 144.26 L437.78 144.08 L437.10 143.90 L436.42 143.73 L435.74 143.55 L435.07 143.38 L434.39 143.20 L433.71 143.03 L433.03 142.85 L432.35 142.68 L431.67 142.50 L430.99 142.33 L430.31 142.16 L429.63 141.99 L428.95 141.81 L428.27 141.64 L427.59 141.47 L426.91 141.30 L426.23 141.13 L425.55 140.96 L424.87 140.79 L424.19 140.62 L423.51 140.45 L422.83 140.28 L422.15 140.12 L421.47 139.95 L420.79 139.78 L420.11 139.61 L419.43 139.45 L418.74 139.28 L418.06 139.11 L417.38 138.95 L416.70 138.78 L416.02 138.62 L415.34 138.45 L414.66 138.29 L413.97 138.13 L413.29 137.96 L412.61 137.80 L411.93 137.64 L411.25 137.47 L410.56 137.31 L409.88 137.15 L409.20 136.99 L408.52 136.83 L407.84 136.67 L407.15 136.51 L406.47 136.35 L405.79 136.19 L405.10 136.03 L404.42 135.87 L403.74 135.71 L403.06 135.55 L402.37 135.40 L401.69 135.24 L401.01 135.08 L400.32 134.92 L399.64 134.77 L398.96 134.61 L398.27 134.46 L397.59 134.30 L396.91 134.15 L396.22 133.99 L395.54 133.84 L394.85 133.68 L394.17 133.53 L393.49 133.38 L392.80 133.22 L392.12 133.07 L391.43 132.92 L390.75 132.77 L390.06 132.61 L389.38 132.46 L388.70 132.31 L388.01 132.16 L387.33 132.01 L386.64 131.86 L385.96 131.71 L385.27 131.56 L384.59 131.41 L383.90 131.26 L383.22 131.12 L382.53 130.97 L381.85 130.82 L381.16 130.67 L380.48 130.53 L379.79 130.38 L379.10 130.23 L378.42 130.09 L377.73 129.94 L377.05 129.79 L376.36 129.65 L375.68 129.50 L374.99 129.36 L374.30 129.22 L373.62 129.07 L372.93 128.93 L372.25 128.79 L371.56 128.64 L370.87 128.50 L370.19 128.36 L369.50 128.22 L368.81 128.07 L368.13 127.93 L367.44 127.79 L366.75 127.65 L366.07 127.51 L365.38 127.37 L364.69 127.23 L364.01 127.09 L363.32 126.95 L362.63 126.81 L361.95 126.67 L361.26 126.54 L360.57 126.40 L359.89 126.26 L359.20 126.12 L358.51 125.98 L357.82 125.85 L357.14 125.71 L356.45 125.57 L355.76 125.44 L355.07 125.30 L354.39 125.17 L353.70 125.03 L353.01 124.90 L352.32 124.76 L351.63 124.63 L350.95 124.49 L350.26 124.36 L349.57 124.23 L348.88 124.09 L348.19 123.96 L347.51 123.83 L346.82 123.70 L346.13 123.56 L345.44 123.43 L344.75 123.30 L344.06 123.17 L343.38 123.04 L342.69 122.91 L342.00 122.78 L341.31 122.65 L340.62 122.52 L339.93 122.39 L339.24 122.26 L338.55 122.13 L337.87 122.00 L337.18 121.87 L336.49 121.75 L335.80 121.62 L335.11 121.49 L334.42 121.36 L333.73 121.24 L333.04 121.11 L332.35 120.98 L331.66 120.86 L330.97 120.73 L330.29 120.60 L329.60 120.48 L328.91 120.35 L328.22 120.23 L327.53 120.10 L326.84 119.98 L326.15 119.85 L325.46 119.73 L324.77 119.61 L324.08 119.48 L323.39 119.36 L322.70 119.24 L322.01 119.11 L321.32 118.99 L320.63 118.87 L319.94 118.75 L319.25 118.63 L318.56 118.50 L317.87 118.38 L317.18 118.26 L316.49 118.14 L315.80 118.02 L315.11 117.90 L314.42 117.78 L313.73 117.66 L313.04 117.54 L312.35 117.42 L311.66 117.30 L310.97 117.18 L310.27 117.06 L309.58 116.95 L308.89 116.83 L308.20 116.71 L307.51 116.59 L306.82 116.47 L306.13 116.36 L305.44 116.24 L304.75 116.12 L304.06 116.01 L303.37 115.89 L302.68 115.77 L301.98 115.66 L301.29 115.54 L300.60 115.43 L299.91 115.31 L299.22 115.20 L298.53 115.08 L297.84 114.97 L297.15 114.85 L296.46 114.74 L295.76 114.63 L295.07 114.51 L294.38 114.40 L293.69 114.29 L293.00 114.17 L292.31 114.06 L291.62 113.95 L290.92 113.83 L290.23 113.72 L289.54 113.61 L288.85 113.50 L288.16 113.39 L287.47 113.28 L286.77 113.16 L286.08 113.05 L285.39 112.94 L284.70 112.83 L284.01 112.72 L283.31 112.61 L282.62 112.50 L281.93 112.39 L281.24 112.28 L280.55 112.17 L279.85 112.06 L279.16 111.95 L278.47 111.85 L277.78 111.74 L277.09 111.63 L276.39 111.52 L275.70 111.41 L275.01 111.31 L274.32 111.20 L273.63 111.09 L272.93 110.98 L272.24 110.88 L271.55 110.77 L270.86 110.66 L270.16 110.56 L269.47 110.45 L268.78 110.34 L268.09 110.24 L267.39 110.13 L266.70 110.03 L266.01 109.92 L265.32 109.82 L264.62 109.71 L263.93 109.61 L263.24 109.50 L262.55 109.40 L261.85 109.29 L261.16 109.19 L260.47 109.09 L259.77 108.98 L259.08 108.88 L258.39 108.78 L257.70 108.67 L257.00 108.57 L256.31 108.47 L255.62 108.36 L254.92 108.26 L254.23 108.16 L253.54 108.06 L252.84 107.95 L252.15 107.85 L251.46 107.75 L250.77 107.65 L250.07 107.55 L249.38 107.45 L248.69 107.35 L247.99 107.25 L247.30 107.14 L246.61 107.04 L245.91 106.94 L245.22 106.84 L244.53 106.74 L243.83 106.64 L243.14 106.54 L242.45 106.44 L241.75 106.35 L241.06 106.25 L240.37 106.15 L239.67 106.05 L238.98 105.95 L238.29 105.85 L237.59 105.75 L236.90 105.65 L236.21 105.56 L235.51 105.46 L234.82 105.36 L234.12 105.26 L233.43 105.16 L232.74 105.07 L232.04 104.97 L231.35 104.87 L230.66 104.78 L229.96 104.68 L229.27 104.58 L228.58 104.49 L227.88 104.39 L227.19 104.29 L226.49 104.20 L225.80 104.10 L225.11 104.01 L224.41 103.91 L223.72 103.81 L223.02 103.72 L222.33 103.62 L221.64 103.53 L220.94 103.43 L220.25 103.34 L219.56 103.24 L218.86 103.15 L218.17 103.06 L217.47 102.96 L216.78 102.87 L216.08 102.77 L215.39 102.68 L214.70 102.58 L214.00 102.49 L213.31 102.40 L212.61 102.30 L211.92 102.21 L211.23 102.12 L210.53 102.03 L209.84 101.93 L209.14 101.84 L208.45 101.75 L207.76 101.65 L207.06 101.56 L206.37 101.47 L205.67 101.38 L204.98 101.29 L204.28 101.19 L203.59 101.10 L202.90 101.01 L202.20 100.92 L201.51 100.83 L200.81 100.74 L200.12 100.64 L199.42 100.55 L198.73 100.46 L198.03 100.37 L197.34 100.28 L196.65 100.19 L195.95 100.10 L195.26 100.01 L194.56 99.92 L193.87 99.83 L193.17 99.74 L192.48 99.65 L191.78 99.56 L191.09 99.47 L190.39 99.38 L189.70 99.29 L189.01 99.20 L188.31 99.11 L187.62 99.02 L186.92 98.93 L186.23 98.85 L185.53 98.76 L184.84 98.67 L184.14 98.58 L183.45 98.49 L182.75 98.40 L182.06 98.31 L181.36 98.23 L180.67 98.14 L179.97 98.05 L179.28 97.96 L178.59 97.87 L177.89 97.79 L177.20 97.70 L176.50 97.61 L175.81 97.52 L175.11 97.44 L174.42 97.35 L173.72 97.26 L173.03 97.18 L172.33 97.09 L171.64 97.00 L170.94 96.91 L170.25 96.83Z" fill="#ffff00" stroke="none"/>
<path d="M170.00 98.81 L170.69 98.90 L171.39 98.99 L172.08 99.07 L172.78 99.16 L173.47 99.25 L174.17 99.33 L174.86 99.42 L175.56 99.51 L176.25 99.60 L176.95 99.68 L177.64 99.77 L178.33 99.86 L179.03 99.95 L179.72 100.03 L180.42 100.12 L181.11 100.21 L181.81 100.30 L182.50 100.39 L183.20 100.47 L183.89 100.56 L184.58 100.65 L185.28 100.74 L185.97 100.83 L186.67 100.92 L187.36 101.01 L188.06 101.10 L188.75 101.19 L189.44 101.27 L190.14 101.36 L190.83 101.45 L191.53 101.54 L192.22 101.63 L192.92 101.72 L193.61 101.81 L194.30 101.90 L195.00 101.99 L195.69 102.08 L196.39 102.17 L197.08 102.26 L197.78 102.36 L198.47 102.45 L199.16 102.54 L199.86 102.63 L200.55 102.72 L201.25 102.81 L201.94 102.90 L202.63 102.99 L203.33 103.08 L204.02 103.18 L204.72 103.27 L205.41 103.36 L206.10 103.45 L206.80 103.54 L207.49 103.64 L208.19 103.73 L208.88 103.82 L209.57 103.91 L210.27 104.01 L210.96 104.10 L211.65 104.19 L212.35 104.29 L213.04 104.38 L213.74 104.47 L214.43 104.57 L215.12 104.66 L215.82 104.75 L216.51 104.85 L217.20 104.94 L217.90 105.04 L218.59 105.13 L219.28 105.23 L219.98 105.32 L220.67 105.42 L221.37 105.51 L222.06 105.61 L222.75 105.70 L223.45 105.80 L224.14 105.89 L224.83 105.99 L225.53 106.08 L226.22 106.18 L226.91 106.27 L227.61 106.37 L228.30 106.47 L228.99 106.56 L229.69 106.66 L230.38 106.76 L231.07 106.85 L231.77 106.95 L232.46 107.05 L233.15 107.15 L233.85 107.24 L234.54 107.34 L235.23 107.44 L235.93 107.54 L236.62 107.63 L237.31 107.73 L238.00 107.83 L238.70 107.93 L239.39 108.03 L240.08 108.13 L240.78 108.23 L241.47 108.32 L242.16 108.42 L242.86 108.52 L243.55 108.62 L244.24 108.72 L244.93 108.82 L245.63 108.92 L246.32 109.02 L247.01 109.12 L247.71 109.22 L248.40 109.33 L249.09 109.43 L249.78 109.53 L250.48 109.63 L251.17 109.73 L251.86 109.83 L252.55 109.93 L253.25 110.04 L253.94 110.14 L254.63 110.24 L255.32 110.34 L256.02 110.44 L256.71 110.55 L257.40 110.65 L258.09 110.75 L258.79 110.86 L259.48 110.96 L260.17 111.06 L260.86 111.17 L261.55 111.27 L262.25 111.38 L262.94 111.48 L263.63 111.58 L264.32 111.69 L265.02 111.79 L265.71 111.90 L266.40 112.00 L267.09 112.11 L267.78 112.22 L268.48 112.32 L269.17 112.43 L269.86 112.53 L270.55 112.64 L271.24 112.75 L271.94 112.85 L272.63 112.96 L273.32 113.07 L274.01 113.17 L274.70 113.28 L275.39 113.39 L276.09 113.50 L276.78 113.61 L277.47 113.71 L278.16 113.82 L278.85 113.93 L279.54 114.04 L280.24 114.15 L280.93 114.26 L281.62 114.37 L282.31 114.48 L283.00 114.59 L283.69 114.70 L284.38 114.81 L285.07 114.92 L285.77 115.03 L286.46 115.14 L287.15 115.25 L287.84 115.36 L288.53 115.47 L289.22 115.58 L289.91 115.70 L290.60 115.81 L291.29 115.92 L291.99 116.03 L292.68 116.15 L293.37 116.26 L294.06 116.37 L294.75 116.49 L295.44 116.60 L296.13 116.71 L296.82 116.83 L297.51 116.94 L298.20 117.06 L298.89 117.17 L299.58 117.29 L300.27 117.40 L300.96 117.52 L301.65 117.63 L302.34 117.75 L303.03 117.86 L303.73 117.98 L304.42 118.10 L305.11 118.21 L305.80 118.33 L306.49 118.45 L307.18 118.56 L307.87 118.68 L308.56 118.80 L309.25 118.92 L309.94 119.04 L310.63 119.15 L311.32 119.27 L312.01 119.39 L312.70 119.51 L313.39 119.63 L314.08 119.75 L314.76 119.87 L315.45 119.99 L316.14 120.11 L316.83 120.23 L317.52 120.35 L318.21 120.47 L318.90 120.60 L319.59 120.72 L320.28 120.84 L320.97 120.96 L321.66 121.08 L322.35 121.21 L323.04 121.33 L323.73 121.45 L324.42 121.58 L325.10 121.70 L325.79 121.82 L326.48 121.95 L327.17 122.07 L327.86 122.20 L328.55 122.32 L329.24 122.45 L329.93 122.57 L330.62 122.70 L331.30 122.82 L331.99 122.95 L332.68 123.08 L333.37 123.20 L334.06 123.33 L334.75 123.46 L335.43 123.58 L336.12 123.71 L336.81 123.84 L337.50 123.97 L338.19 124.10 L338.88 124.23 L339.56 124.35 L340.25 124.48 L340.94 124.61 L341.63 124.74 L342.31 124.87 L343.00 125.00 L343.69 125.14 L344.38 125.27 L345.07 125.40 L345.75 125.53 L346.44 125.66 L347.13 125.79 L347.82 125.93 L348.50 126.06 L349.19 126.19 L349.88 126.32 L350.56 126.46 L351.25 126.59 L351.94 126.73 L352.63 126.86 L353.31 127.00 L354.00 127.13 L354.69 127.27 L355.37 127.40 L356.06 127.54 L356.75 127.67 L357.43 127.81 L358.12 127.95 L358.81 128.08 L359.49 128.22 L360.18 128.36 L360.87 128.50 L361.55 128.63 L362.24 128.77 L362.92 128.91 L363.61 129.05 L364.30 129.19 L364.98 129.33 L365.67 129.47 L366.35 129.61 L367.04 129.75 L367.72 129.89 L368.41 130.03 L369.10 130.17 L369.78 130.32 L370.47 130.46 L371.15 130.60 L371.84 130.74 L372.52 130.89 L373.21 131.03 L373.89 131.17 L374.58 131.32 L375.26 131.46 L375.95 131.61 L376.63 131.75 L377.32 131.90 L378.00 132.04 L378.69 132.19 L379.37 132.33 L380.06 132.48 L380.74 132.63 L381.43 132.77 L382.11 132.92 L382.79 133.07 L383.48 133.22 L384.16 133.37 L384.85 133.52 L385.53 133.66 L386.21 133.81 L386.90 133.96 L387.58 134.11 L388.27 134.26 L388.95 134.42 L389.63 134.57 L390.32 134.72 L391.00 134.87 L391.68 135.02 L392.37 135.17 L393.05 135.33 L393.73 135.48 L394.42 135.63 L395.10 135.79 L395.78 135.94 L396.46 136.10 L397.15 136.25 L397.83 136.41 L398.51 136.56 L399.19 136.72 L399.88 136.87 L400.56 137.03 L401.24 137.19 L401.92 137.34 L402.61 137.50 L403.29 137.66 L403.97 137.82 L404.65 137.98 L405.33 138.14 L406.01 138.29 L406.70 138.45 L407.38 138.61 L408.06 138.77 L408.74 138.94 L409.42 139.10 L410.10 139.26 L410.78 139.42 L411.46 139.58 L412.15 139.74 L412.83 139.91 L413.51 140.07 L414.19 140.23 L414.87 140.40 L415.55 140.56 L416.23 140.73 L416.91 140.89 L417.59 141.06 L418.27 141.22 L418.95 141.39 L419.63 141.56 L420.31 141.72 L420.99 141.89 L421.67 142.06 L422.35 142.23 L423.03 142.39 L423.71 142.56 L424.39 142.73 L425.07 142.90 L425.75 143.07 L426.42 143.24 L427.10 143.41 L427.78 143.58 L428.46 143.75 L429.14 143.92 L429.82 144.10 L430.50 144.27 L431.18 144.44 L431.85 144.62 L432.53 144.79 L433.21 144.96 L433.89 145.14 L434.57 145.31 L435.24 145.49 L435.92 145.66 L436.60 145.84 L437.28 146.01 L437.95 146.19 L438.63 146.37 L439.31 146.55 L439.99 146.72 L440.66 146.90 L441.34 147.08 L442.02 147.26 L442.69 147.44 L443.37 147.62 L444.05 147.80 L444.72 147.98 L445.40 148.16 L446.08 148.34 L446.75 148.52 L447.43 148.70 L448.10 148.89 L448.78 149.07 L449.45 149.25 L450.13 149.44 L450.81 149.62 L451.48 149.80 L452.16 149.99 L452.83 150.17 L453.51 150.36 L454.18 150.54 L454.86 150.73 L455.53 150.92 L456.21 151.10 L456.88 151.29 L457.55 151.48 L458.23 151.67 L458.90 151.86 L459.58 152.05 L460.25 152.24 L460.92 152.43 L461.60 152.62 L462.27 152.81 L462.95 153.00 L463.62 153.19 L464.29 153.38 L464.97 153.57 L465.64 153.77 L466.31 153.96 L466.98 154.15 L467.66 154.35 L468.33 154.54 L469.00 154.74 L469.67 154.93 L470.35 155.13 L471.02 155.32 L471.69 155.52 L472.36 155.72 L473.03 155.91 L473.71 156.11 L474.38 156.31 L475.05 156.51 L475.72 156.71 L476.39 156.90 L477.06 157.10 L477.73 157.30 L478.40 157.50 L479.07 157.71 L479.74 157.91 L480.41 158.11 L481.08 158.31 L481.75 158.51 L482.42 158.72 L483.09 158.92 L483.76 159.12 L484.43 159.33 L485.10 159.53 L485.77 159.74 L486.44 159.94 L487.11 160.15 L487.78 160.35 L488.45 160.56 L489.12 160.77 L489.79 160.98 L490.46 161.18 L491.12 161.39 L491.79 161.60 L492.46 161.81 L493.13 162.02 L493.80 162.23 L494.46 162.44 L495.13 162.65 L495.80 162.86 L496.47 163.07 L497.13 163.28 L497.80 163.50 L498.47 163.71 L499.13 163.92 L499.80 164.14 L500.47 164.35 L501.13 164.56 L501.80 164.78 L502.47 164.99 L503.13 165.21 L503.80 165.43 L504.46 165.64 L505.13 165.86 L505.79 166.08 L506.46 166.30 L507.13 166.51 L507.79 166.73 L508.46 166.95 L509.12 167.17 L509.78 167.39 L510.45 167.61 L511.11 167.83 L511.78 168.05 L512.44 168.27 L513.11 168.50 L513.77 168.72 L514.43 168.94 L515.10 169.16 L515.76 169.39 L516.42 169.61 L517.09 169.84 L517.75 170.06 L518.41 170.29 L519.08 170.51 L519.74 170.74 L520.40 170.96 L521.06 171.19 L521.72 171.42 L522.39 171.65 L523.05 171.87 L523.71 172.10 L524.37 172.33 L525.03 172.56 L525.69 172.79 L526.36 173.02 L527.02 173.25 L527.68 173.48 L528.34 173.71 L529.00 173.95 L529.66 174.18 L530.32 174.41 L530.98 174.64 L531.64 174.88 L532.30 175.11 L532.96 175.35 L533.62 175.58 L534.28 175.82 L534.94 176.05 L535.60 176.29 L536.26 176.52 L536.91 176.76 L537.57 177.00 L538.23 177.24 L538.89 177.47 L539.55 177.71 L540.21 177.95 L540.86 178.19 L541.52 178.43 L542.18 178.67 L542.84 178.91 L543.49 179.15 L544.15 179.39 L544.81 179.64 L545.47 179.88 L546.12 180.12 L546.78 180.36 L547.43 180.61 L548.09 180.85 L548.75 181.09 L549.40 181.34 L550.06 181.58 L550.71 181.83 L551.37 182.08 L552.03 182.32 L552.68 182.57 L553.34 182.82 L553.99 183.06 L554.65 183.31 L555.30 183.56 L555.95 183.81 L556.61 184.06 L557.26 184.31 L557.92 184.56 L558.57 184.81 L559.22 185.06 L559.88 185.31 L560.53 185.56 L561.18 185.81 L561.84 186.06 L562.49 186.32 L563.14 186.57 L563.80 186.82 L564.45 187.08 L565.10 187.33 L565.75 187.59 L566.40 187.84 L567.06 188.10 L567.71 188.35 L568.36 188.61 L569.01 188.86 L569.66 189.12 L570.31 189.38 L570.96 189.64 L571.61 189.90 L572.27 190.15 L572.92 190.41 L573.57 190.67 L574.22 190.93 L574.87 191.19 L575.52 191.45 L576.17 191.71 L576.81 191.98 L577.46 192.24 L578.11 192.50 L578.76 192.76 L579.41 193.03 L580.06 193.29 L580.71 193.55 L581.36 193.82 L582.00 194.08 L582.65 194.35 L583.30 194.61 L583.95 194.88 L584.60 195.14 L585.24 195.41 L585.89 195.68 L586.54 195.94 L587.18 196.21 L587.83 196.48 L588.48 196.75 L589.12 197.02 L589.77 197.29 L590.42 197.56 L591.06 197.83 L591.71 198.10 L592.35 198.37 L593.00 198.64 L593.64 198.91 L594.29 199.18 L594.93 199.46 L595.58 199.73 L596.22 200.00 L596.87 200.28 L597.51 200.55 L598.16 200.82 L598.80 201.10 L599.44 201.37 L600.09 201.65 L600.73 201.93 L601.37 202.20 L602.02 202.48 L602.66 202.76 L603.30 203.04 L603.94 203.31 L604.59 203.59 L605.23 203.87 L605.87 204.15 L606.51 204.43 L607.15 204.71 L607.80 204.99 L608.44 205.27 L609.08 205.55 L609.72 205.83 L610.36 206.12 L611.00 206.40 L611.64 206.68 L612.28 206.96 L612.92 207.25 L613.56 207.53 L614.20 207.82 L614.84 208.10 L615.48 208.39 L616.12 208.67 L616.76 208.96 L617.40 209.25 L618.03 209.53 L618.67 209.82 L619.31 210.11 L619.95 210.40 L620.59 210.69 L621.22 210.98 L621.86 211.26 L622.50 211.55 L623.14 211.85 L623.77 212.14 L624.41 212.43 L625.05 212.72 L625.68 213.01 L626.32 213.30 L626.95 213.60 L627.59 213.89 L628.22 214.18 L628.86 214.48 L629.49 214.77 L630.13 215.07 L630.76 215.36 L631.40 215.66 L632.03 215.96 L632.67 216.25 L633.30 216.55 L633.93 216.85 L634.57 217.15 L635.20 217.45 L635.83 217.75 L636.47 218.05 L637.10 218.35 L637.73 218.65 L638.36 218.95 L638.99 219.25 L639.63 219.55 L640.26 219.86 L640.89 220.16 L641.52 220.46 L642.15 220.77 L642.78 221.07 L643.41 221.38 L644.04 221.68 L644.67 221.99 L645.30 222.30 L645.93 222.60 L646.56 222.91 L647.19 223.22 L647.81 223.53 L648.44 223.84 L649.07 224.15 L649.70 224.46 L650.32 224.77 L650.95 225.08 L651.58 225.39 L652.20 225.70 L652.83 226.02 L653.46 226.33 L654.08 226.65 L654.71 226.96 L655.33 227.28 L655.96 227.59 L656.58 227.91 L657.21 228.23 L657.83 228.54 L658.45 228.86 L659.08 229.18 L659.70 229.50 L660.32 229.82 L660.94 230.14 L661.57 230.46 L662.19 230.79 L662.81 231.11 L663.43 231.43 L664.05 231.76 L664.67 232.08 L665.29 232.41 L665.91 232.73 L666.53 233.06 L667.15 233.39 L667.77 233.72 L668.39 234.04 L669.00 234.37 L669.62 234.70 L670.24 235.04 L670.86 235.37 L671.47 235.70 L672.09 236.03 L672.70 236.37 L673.32 236.70 L673.93 237.04 L674.55 237.37 L675.16 237.71 L675.77 238.05 L676.39 238.39 L677.00 238.73 L677.61 239.07 L678.22 239.41 L678.83 239.75 L679.44 240.09 L680.05 240.44 L680.66 240.78 L681.27 241.13 L681.88 241.47 L682.49 241.82 L683.10 242.17 L683.70 242.52 L684.31 242.87 L684.92 243.22 L685.52 243.57 L686.13 243.92 L686.73 244.28 L687.34 244.63 L687.94 244.99 L688.54 245.34 L689.14 245.70 L689.75 246.06 L690.35 246.42 L690.95 246.78 L691.55 247.14 L692.14 247.51 L692.74 247.87 L693.34 248.24 L693.94 248.60 L694.53 248.97 L695.13 249.34 L695.73 249.71 L696.32 250.08 L696.91 250.45 L697.51 250.82 L698.10 251.20 L698.69 251.57 L699.28 251.95 L699.87 252.33 L700.46 252.71 L701.05 253.09 L701.63 253.47 L702.22 253.85 L702.81 254.23 L703.39 254.62 L703.98 255.01 L704.56 255.39 L705.14 255.78 L705.72 256.17 L706.30 256.57 L706.88 256.96 L707.46 257.35 L708.04 257.75 L708.62 258.15 L709.19 258.55 L709.77 258.95 L710.34 259.35 L710.92 259.75 L711.49 260.16 L712.06 260.56 L712.63 260.97 L713.20 261.38 L713.76 261.79 L714.33 262.20 L714.90 262.62 L715.46 263.03 L716.02 263.45 L716.59 263.87 L717.15 264.29 L717.71 264.71 L718.26 265.13 L718.82 265.56 L719.38 265.98 L719.93 266.41 L720.49 266.84 L721.04 267.27 L721.59 267.71 L722.14 268.14 L722.69 268.58 L723.23 269.02 L723.78 269.46 L724.32 269.90 L724.87 270.34 L725.41 270.79 L725.95 271.23 L726.49 271.68 L727.02 272.13 L727.56 272.59 L728.09 273.04 L728.62 273.50 L729.16 273.95 L729.69 274.41 L730.21 274.88 L730.74 275.34 L731.26 275.80 L731.79 276.27 L732.31 276.74 L732.83 277.21 L733.35 277.68 L733.86 278.16 L734.38 278.63 L734.89 279.11 L735.40 279.59 L735.91 280.07 L736.42 280.56 L736.92 281.04 L737.43 281.53 L737.93 282.02 L738.43 282.51 L738.93 283.00 L739.43 283.50 L739.92 284.00 L740.41 284.49 L740.90 285.00 L741.39 285.50 L741.88 286.00 L742.37 286.51 L742.85 287.02 L743.33 287.53 L743.81 288.04 L744.29 288.55 L744.76 289.07 L745.24 289.59 L745.71 290.11 L746.18 290.63 L746.64 291.15 L747.11 291.68 L747.57 292.20 L748.03 292.73 L748.49 293.26 L748.95 293.80 L749.40 294.33 L749.86 294.87 L750.31 295.41 L750.75 295.95 L751.20 296.49 L751.64 297.03 L752.08 297.58 L752.52 298.12 L752.96 298.67 L753.40 299.22 L753.83 299.78 L754.26 300.33 L754.69 300.89 L755.12 301.44 L755.54 302.00 L755.96 302.56 L756.38 303.13 L756.80 303.69 L757.21 304.26 L757.63 304.82 L758.04 305.39 L758.44 305.96 L758.85 306.54 L759.25 307.11 L759.66 307.69 L760.06 308.26 L760.45 308.84 L760.85 309.42 L761.24 310.01 L761.63 310.59 L762.02 311.17 L762.40 311.76 L762.79 312.35 L763.17 312.94 L763.55 313.53 L763.93 314.12 L764.30 314.71 L764.67 315.31 L765.04 315.91 L765.41 316.50 L765.78 317.10 L766.14 317.70 L766.50 318.31 L766.86 318.91 L767.22 319.51 L767.57 320.12" fill="none" stroke="#000" stroke-width="1.3"/>
<path d="M767.92 320.73 L768.28 321.34 L768.62 321.95 L768.97 322.56 L769.31 323.17 L769.65 323.78 L769.99 324.40 L770.33 325.01 L770.67 325.63 L771.00 326.25 L771.33 326.87 L771.66 327.49 L771.99 328.11 L772.31 328.73 L772.63 329.36 L772.95 329.98 L773.27 330.61 L773.59 331.24 L773.90 331.86 L774.21 332.49 L774.52 333.12 L774.83 333.75 L775.14 334.39 L775.44 335.02 L775.74 335.65 L776.04 336.29 L776.34 336.92 L776.64 337.56 L776.93 338.20 L777.22 338.84 L777.51 339.48 L777.80 340.12 L778.09 340.76 L778.37 341.40 L778.66 342.04 L778.94 342.69 L779.22 343.33 L779.49 343.98 L779.77 344.62 L780.04 345.27 L780.31 345.92 L780.58 346.57 L780.85 347.22 L781.11 347.87 L781.38 348.52 L781.64 349.17 L781.90 349.82 L782.16 350.48 L782.42 351.13 L782.67 351.78 L782.93 352.44 L783.18 353.09 L783.43 353.75 L783.68 354.41 L783.92 355.07 L784.17 355.72 L784.41 356.38 L784.65 357.04 L784.89 357.70 L785.13 358.36 L785.37 359.02 L785.60 359.69 L785.83 360.35 L786.07 361.01 L786.30 361.68 L786.53 362.34 L786.75 363.00 L786.98 363.67 L787.20 364.34 L787.42 365.00 L787.65 365.67 L787.86 366.34 L788.08 367.00 L788.30 367.67 L788.51 368.34 L788.73 369.01 L788.94 369.68 L789.15 370.35 L789.36 371.02 L789.57 371.69 L789.77 372.36 L789.98 373.03 L790.18 373.71 L790.38 374.38 L790.58 375.05 L790.78 375.73 L790.98 376.40 L791.18 377.07 L791.37 377.75 L791.57 378.42 L791.76 379.10 L791.95 379.78 L792.14 380.45 L792.33 381.13 L792.52 381.81 L792.70 382.48 L792.89 383.16 L793.07 383.84 L793.25 384.52 L793.43 385.20 L793.61 385.88 L793.79 386.55 L793.97 387.23 L794.14 387.91 L794.32 388.59 L794.49 389.28 L794.67 389.96 L794.84 390.64 L795.01 391.32 L795.18 392.00 L795.34 392.68 L795.51 393.37 L795.68 394.05 L795.84 394.73 L796.00 395.41 L796.16 396.10 L796.33 396.78 L796.49 397.46 L796.64 398.15 L796.80 398.83 L796.96 399.52 L797.11 400.20 L797.27 400.89 L797.42 401.57 L797.57 402.26 L797.73 402.95 L797.88 403.63 L798.02 404.32 L798.17 405.00 L798.32 405.69 L798.47 406.38 L798.61 407.07 L798.76 407.75 L798.90 408.44 L799.04 409.13 L799.18 409.82 L799.32 410.51 L799.46 411.19 L799.60 411.88 L799.74 412.57 L799.87 413.26 L800.01 413.95 L800.14 414.64 L800.28 415.33 L800.41 416.02 L800.54 416.71 L800.67 417.40 L800.80 418.09 L800.93 418.78 L801.06 419.47 L801.19 420.16 L801.31 420.85 L801.44 421.54 L801.57 422.23 L801.69 422.92 L801.81 423.62 L801.93 424.31 L802.06 425.00 L802.18 425.69 L802.30 426.38 L802.42 427.08 L802.53 427.77 L802.65 428.46 L802.77 429.15 L802.88 429.85 L803.00 430.54 L803.11 431.23 L803.23 431.93 L803.34 432.62 L803.45 433.31 L803.56 434.01 L803.67 434.70 L803.78 435.39 L803.89 436.09 L804.00 436.78 L804.10 437.48 L804.21 438.17 L804.32 438.86 L804.42 439.56 L804.53 440.25 L804.63 440.95 L804.73 441.64 L804.83 442.34 L804.94 443.03 L805.04 443.73 L805.14 444.42 L805.24 445.12 L805.33 445.81 L805.43 446.51 L805.53 447.21 L805.63 447.90 L805.72 448.60 L805.82 449.29 L805.91 449.99 L806.01 450.69 L806.10 451.38 L806.19 452.08 L806.29 452.77 L806.38 453.47 L806.47 454.17 L806.56 454.86 L806.65 455.56 L806.74 456.26 L806.82 456.95 L806.91 457.65 L807.00 458.35 L807.09 459.05 L807.17 459.74 L807.26 460.44 L807.34 461.14 L807.43 461.83 L807.51 462.53 L807.59 463.23 L807.68 463.93 L807.76 464.62 L807.84 465.32 L807.92 466.02 L808.00 466.72 L808.08 467.42 L808.16 468.11 L808.24 468.81 L808.31 469.51 L808.39 470.21 L808.47 470.91 L808.54 471.60 L808.62 472.30 L808.70 473.00 L808.77 473.70 L808.84 474.40 L808.92 475.10 L808.99 475.80 L809.06 476.49 L809.14 477.19 L809.21 477.89 L809.28 478.59 L809.35 479.29 L809.42 479.99 L809.49 480.69 L809.56 481.39 L809.63 482.09 L809.70 482.78 L809.76 483.48 L809.83 484.18 L809.90 484.88 L809.96 485.58 L810.03 486.28 L810.10 486.98 L810.16 487.68 L810.22 488.38 L810.29 489.08 L810.35 489.78 L810.42 490.48 L810.48 491.18 L810.54 491.88 L810.60 492.58 L810.66 493.28 L810.72 493.98 L810.78 494.68 L810.84 495.38 L810.90 496.08 L810.96 496.78 L811.02 497.48 L811.08 498.18 L811.14 498.88 L811.20 499.58 L811.25 500.28 L811.31 500.98 L811.37 501.68 L811.42 502.38 L811.48 503.08 L811.53 503.78 L811.59 504.48 L811.64 505.18 L811.70 505.88 L811.75 506.58 L811.80 507.28 L811.86 507.98 L811.91 508.68 L811.96 509.38 L812.01 510.08 L812.06 510.78 L812.11 511.48 L812.17 512.18 L812.22 512.89 L812.27 513.59 L812.32 514.29 L812.36 514.99 L812.41 515.69 L812.46 516.39 L812.51 517.09 L812.56 517.79" fill="none" stroke="#000" stroke-width="1.4" stroke-dasharray="6.5 1.2"/>
</g>
<g clip-path="url(#plotclip)">
<path d="M169.75 148.16 L170.45 148.24 L171.14 148.33 L171.84 148.42 L172.53 148.50 L173.22 148.59 L173.92 148.68 L174.61 148.77 L175.31 148.85 L176.00 148.94 L176.70 149.03 L177.39 149.11 L178.08 149.20 L178.78 149.29 L179.47 149.38 L180.17 149.47 L180.86 149.55 L181.55 149.64 L182.25 149.73 L182.94 149.82 L183.64 149.91 L184.33 150.00 L185.03 150.08 L185.72 150.17 L186.41 150.26 L187.11 150.35 L187.80 150.44 L188.50 150.53 L189.19 150.62 L189.88 150.71 L190.58 150.80 L191.27 150.89 L191.97 150.98 L192.66 151.07 L193.35 151.16 L194.05 151.25 L194.74 151.34 L195.43 151.43 L196.13 151.52 L196.82 151.61 L197.52 151.70 L198.21 151.79 L198.90 151.88 L199.60 151.97 L200.29 152.06 L200.98 152.15 L201.68 152.24 L202.37 152.34 L203.07 152.43 L203.76 152.52 L204.45 152.61 L205.15 152.70 L205.84 152.79 L206.53 152.89 L207.23 152.98 L207.92 153.07 L208.61 153.16 L209.31 153.26 L210.00 153.35 L210.69 153.44 L211.39 153.54 L212.08 153.63 L212.77 153.72 L213.47 153.82 L214.16 153.91 L214.85 154.00 L215.55 154.10 L216.24 154.19 L216.93 154.28 L217.63 154.38 L218.32 154.47 L219.01 154.57 L219.71 154.66 L220.40 154.76 L221.09 154.85 L221.79 154.95 L222.48 155.04 L223.17 155.14 L223.87 155.23 L224.56 155.33 L225.25 155.42 L225.95 155.52 L226.64 155.62 L227.33 155.71 L228.02 155.81 L228.72 155.90 L229.41 156.00 L230.10 156.10 L230.80 156.19 L231.49 156.29 L232.18 156.39 L232.87 156.49 L233.57 156.58 L234.26 156.68 L234.95 156.78 L235.65 156.88 L236.34 156.97 L237.03 157.07 L237.72 157.17 L238.42 157.27 L239.11 157.37 L239.80 157.47 L240.49 157.57 L241.19 157.66 L241.88 157.76 L242.57 157.86 L243.26 157.96 L243.96 158.06 L244.65 158.16 L245.34 158.26 L246.03 158.36 L246.73 158.46 L247.42 158.56 L248.11 158.66 L248.80 158.77 L249.49 158.87 L250.19 158.97 L250.88 159.07 L251.57 159.17 L252.26 159.27 L252.95 159.37 L253.65 159.48 L254.34 159.58 L255.03 159.68 L255.72 159.78 L256.41 159.89 L257.11 159.99 L257.80 160.09 L258.49 160.19 L259.18 160.30 L259.87 160.40 L260.57 160.51 L261.26 160.61 L261.95 160.71 L262.64 160.82 L263.33 160.92 L264.02 161.03 L264.72 161.13 L265.41 161.24 L266.10 161.34 L266.79 161.45 L267.48 161.55 L268.17 161.66 L268.86 161.76 L269.56 161.87 L270.25 161.98 L270.94 162.08 L271.63 162.19 L272.32 162.30 L273.01 162.40 L273.70 162.51 L274.40 162.62 L275.09 162.73 L275.78 162.83 L276.47 162.94 L277.16 163.05 L277.85 163.16 L278.54 163.27 L279.23 163.38 L279.92 163.48 L280.61 163.59 L281.30 163.70 L282.00 163.81 L282.69 163.92 L283.38 164.03 L284.07 164.14 L284.76 164.25 L285.45 164.36 L286.14 164.47 L286.83 164.58 L287.52 164.70 L288.21 164.81 L288.90 164.92 L289.59 165.03 L290.28 165.14 L290.97 165.25 L291.66 165.37 L292.35 165.48 L293.04 165.59 L293.73 165.71 L294.42 165.82 L295.11 165.93 L295.80 166.05 L296.49 166.16 L297.18 166.27 L297.87 166.39 L298.56 166.50 L299.25 166.62 L299.94 166.73 L300.63 166.85 L301.32 166.96 L302.01 167.08 L302.70 167.20 L303.39 167.31 L304.08 167.43 L304.77 167.54 L305.46 167.66 L306.15 167.78 L306.84 167.90 L307.53 168.01 L308.22 168.13 L308.91 168.25 L309.60 168.37 L310.29 168.49 L310.98 168.60 L311.67 168.72 L312.35 168.84 L313.04 168.96 L313.73 169.08 L314.42 169.20 L315.11 169.32 L315.80 169.44 L316.49 169.56 L317.18 169.68 L317.87 169.80 L318.55 169.92 L319.24 170.05 L319.93 170.17 L320.62 170.29 L321.31 170.41 L322.00 170.53 L322.69 170.66 L323.37 170.78 L324.06 170.90 L324.75 171.03 L325.44 171.15 L326.13 171.28 L326.82 171.40 L327.50 171.52 L328.19 171.65 L328.88 171.77 L329.57 171.90 L330.26 172.02 L330.94 172.15 L331.63 172.28 L332.32 172.40 L333.01 172.53 L333.69 172.66 L334.38 172.78 L335.07 172.91 L335.76 173.04 L336.44 173.17 L337.13 173.29 L337.82 173.42 L338.51 173.55 L339.19 173.68 L339.88 173.81 L340.57 173.94 L341.26 174.07 L341.94 174.20 L342.63 174.33 L343.32 174.46 L344.00 174.59 L344.69 174.72 L345.38 174.85 L346.06 174.99 L346.75 175.12 L347.44 175.25 L348.12 175.38 L348.81 175.51 L349.50 175.65 L350.18 175.78 L350.87 175.91 L351.55 176.05 L352.24 176.18 L352.93 176.32 L353.61 176.45 L354.30 176.59 L354.99 176.72 L355.67 176.86 L356.36 176.99 L357.04 177.13 L357.73 177.27 L358.41 177.40 L359.10 177.54 L359.79 177.68 L360.47 177.82 L361.16 177.95 L361.84 178.09 L362.53 178.23 L363.21 178.37 L363.90 178.51 L364.58 178.65 L365.27 178.79 L365.95 178.93 L366.64 179.07 L367.32 179.21 L368.01 179.35 L368.69 179.49 L369.38 179.63 L370.06 179.78 L370.75 179.92 L371.43 180.06 L372.11 180.20 L372.80 180.35 L373.48 180.49 L374.17 180.63 L374.85 180.78 L375.53 180.92 L376.22 181.07 L376.90 181.21 L377.59 181.36 L378.27 181.50 L378.95 181.65 L379.64 181.80 L380.32 181.94 L381.00 182.09 L381.69 182.24 L382.37 182.39 L383.05 182.53 L383.74 182.68 L384.42 182.83 L385.10 182.98 L385.79 183.13 L386.47 183.28 L387.15 183.43 L387.84 183.58 L388.52 183.73 L389.20 183.88 L389.88 184.03 L390.57 184.18 L391.25 184.33 L391.93 184.49 L392.61 184.64 L393.29 184.79 L393.98 184.94 L394.66 185.10 L395.34 185.25 L396.02 185.41 L396.70 185.56 L397.39 185.72 L398.07 185.87 L398.75 186.03 L399.43 186.18 L400.11 186.34 L400.79 186.50 L401.47 186.65 L402.15 186.81 L402.84 186.97 L403.52 187.13 L404.20 187.28 L404.88 187.44 L405.56 187.60 L406.24 187.76 L406.92 187.92 L407.60 188.08 L408.28 188.24 L408.96 188.40 L409.64 188.56 L410.32 188.73 L411.00 188.89 L411.68 189.05 L412.36 189.21 L413.04 189.38 L413.72 189.54 L414.40 189.70 L415.08 189.87 L415.76 190.03 L416.44 190.20 L417.12 190.36 L417.80 190.53 L418.48 190.69 L419.15 190.86 L419.83 191.02 L420.51 191.19 L421.19 191.36 L421.87 191.53 L422.55 191.69 L423.23 191.86 L423.90 192.03 L424.58 192.20 L425.26 192.37 L425.94 192.54 L426.62 192.71 L427.29 192.88 L427.97 193.05 L428.65 193.22 L429.33 193.40 L430.00 193.57 L430.68 193.74 L431.36 193.91 L432.04 194.09 L432.71 194.26 L433.39 194.43 L434.07 194.61 L434.74 194.78 L435.42 194.96 L436.10 195.13 L436.77 195.31 L437.45 195.49 L438.13 195.66 L438.80 195.84 L439.48 196.02 L440.15 196.19 L440.83 196.37 L441.51 196.55 L442.18 196.73 L442.86 196.91 L443.53 197.09 L444.21 197.27 L444.88 197.45 L445.56 197.63 L446.23 197.81 L446.91 197.99 L447.58 198.18 L448.26 198.36 L448.93 198.54 L449.61 198.73 L450.28 198.91 L450.95 199.09 L451.63 199.28 L452.30 199.46 L452.98 199.65 L453.65 199.83 L454.32 200.02 L455.00 200.21 L455.67 200.39 L456.34 200.58 L457.02 200.77 L457.69 200.95 L458.36 201.14 L459.04 201.33 L459.71 201.52 L460.38 201.71 L461.05 201.90 L461.73 202.09 L462.40 202.28 L463.07 202.47 L463.74 202.66 L464.42 202.86 L465.09 203.05 L465.76 203.24 L466.43 203.43 L467.10 203.63 L467.77 203.82 L468.44 204.02 L469.12 204.21 L469.79 204.41 L470.46 204.60 L471.13 204.80 L471.80 204.99 L472.47 205.19 L473.14 205.39 L473.81 205.59 L474.48 205.78 L475.15 205.98 L475.82 206.18 L476.49 206.38 L477.16 206.58 L477.83 206.78 L478.50 206.98 L479.17 207.18 L479.84 207.38 L480.51 207.59 L481.18 207.79 L481.84 207.99 L482.51 208.19 L483.18 208.40 L483.85 208.60 L484.52 208.80 L485.19 209.01 L485.86 209.21 L486.52 209.42 L487.19 209.63 L487.86 209.83 L488.53 210.04 L489.19 210.25 L489.86 210.45 L490.53 210.66 L491.20 210.87 L491.86 211.08 L492.53 211.29 L493.20 211.50 L493.86 211.71 L494.53 211.92 L495.20 212.13 L495.86 212.34 L496.53 212.55 L497.19 212.76 L497.86 212.97 L498.52 213.19 L499.19 213.40 L499.86 213.61 L500.52 213.83 L501.19 214.04 L501.85 214.26 L502.52 214.47 L503.18 214.69 L503.84 214.90 L504.51 215.12 L505.17 215.34 L505.84 215.56 L506.50 215.77 L507.17 215.99 L507.83 216.21 L508.49 216.43 L509.16 216.65 L509.82 216.87 L510.48 217.09 L511.15 217.31 L511.81 217.53 L512.47 217.75 L513.13 217.97 L513.80 218.20 L514.46 218.42 L515.12 218.64 L515.78 218.87 L516.45 219.09 L517.11 219.31 L517.77 219.54 L518.43 219.76 L519.09 219.99 L519.75 220.22 L520.41 220.44 L521.07 220.67 L521.74 220.90 L522.40 221.13 L523.06 221.35 L523.72 221.58 L524.38 221.81 L525.04 222.04 L525.70 222.27 L526.36 222.50 L527.02 222.73 L527.68 222.96 L528.34 223.19 L529.00 223.43 L529.65 223.66 L530.31 223.89 L530.97 224.12 L531.63 224.36 L532.29 224.59 L532.95 224.83 L533.61 225.06 L534.26 225.30 L534.92 225.53 L535.58 225.77 L536.24 226.00 L536.89 226.24 L537.55 226.48 L538.21 226.72 L538.87 226.95 L539.52 227.19 L540.18 227.43 L540.84 227.67 L541.49 227.91 L542.15 228.15 L542.81 228.39 L543.46 228.63 L544.12 228.87 L544.77 229.11 L545.43 229.36 L546.08 229.60 L546.74 229.84 L547.39 230.08 L548.05 230.33 L548.70 230.57 L549.36 230.82 L550.01 231.06 L550.67 231.31 L551.32 231.55 L551.98 231.80 L552.63 232.05 L553.28 232.29 L553.94 232.54 L554.59 232.79 L555.24 233.04 L555.90 233.29 L556.55 233.53 L557.20 233.78 L557.86 234.03 L558.51 234.28 L559.16 234.53 L559.81 234.79 L560.46 235.04 L561.12 235.29 L561.77 235.54 L562.42 235.79 L563.07 236.05 L563.72 236.30 L564.37 236.55 L565.02 236.81 L565.68 237.06 L566.33 237.32 L566.98 237.57 L567.63 237.83 L568.28 238.08 L568.93 238.34 L569.58 238.60 L570.23 238.86 L570.88 239.11 L571.53 239.37 L572.18 239.63 L572.82 239.89 L573.47 240.15 L574.12 240.41 L574.77 240.67 L575.42 240.93 L576.07 241.19 L576.72 241.45 L577.36 241.71 L578.01 241.98 L578.66 242.24 L579.31 242.50 L579.95 242.76 L580.60 243.03 L581.25 243.29 L581.89 243.56 L582.54 243.82 L583.19 244.09 L583.83 244.35 L584.48 244.62 L585.13 244.89 L585.77 245.15 L586.42 245.42 L587.06 245.69 L587.71 245.96 L588.35 246.22 L589.00 246.49 L589.64 246.76 L590.29 247.03 L590.93 247.30 L591.58 247.57 L592.22 247.84 L592.87 248.11 L593.51 248.39 L594.15 248.66 L594.80 248.93 L595.44 249.20 L596.08 249.48 L596.73 249.75 L597.37 250.02 L598.01 250.30 L598.66 250.57 L599.30 250.85 L599.94 251.12 L600.58 251.40 L601.22 251.68 L601.87 251.95 L602.51 252.23 L603.15 252.51 L603.79 252.79 L604.43 253.06 L605.07 253.34 L605.71 253.62 L606.35 253.90 L606.99 254.18 L607.63 254.46 L608.27 254.74 L608.91 255.02 L609.55 255.31 L610.19 255.59 L610.83 255.87 L611.47 256.15 L612.11 256.44 L612.75 256.72 L613.39 257.00 L614.02 257.29 L614.66 257.57 L615.30 257.86 L615.94 258.14 L616.58 258.43 L617.21 258.72 L617.85 259.00 L618.49 259.29 L619.12 259.58 L619.76 259.87 L620.40 260.16 L621.03 260.45 L621.67 260.73 L622.30 261.02 L622.94 261.32 L623.58 261.61 L624.21 261.90 L624.85 262.19 L625.48 262.48 L626.12 262.77 L626.75 263.07 L627.38 263.36 L628.02 263.65 L628.65 263.95 L629.29 264.24 L629.92 264.54 L630.55 264.83 L631.18 265.13 L631.82 265.43 L632.45 265.72 L633.08 266.02 L633.71 266.32 L634.35 266.62 L634.98 266.91 L635.61 267.21 L636.24 267.51 L636.87 267.81 L637.50 268.11 L638.13 268.42 L638.76 268.72 L639.39 269.02 L640.02 269.32 L640.65 269.62 L641.28 269.93 L641.91 270.23 L642.54 270.54 L643.17 270.84 L643.79 271.15 L644.42 271.45 L645.05 271.76 L645.68 272.07 L646.30 272.37 L646.93 272.68 L647.56 272.99 L648.18 273.30 L648.81 273.61 L649.44 273.92 L650.06 274.23 L650.69 274.54 L651.31 274.85 L651.94 275.17 L652.56 275.48 L653.18 275.79 L653.81 276.11 L654.43 276.42 L655.05 276.74 L655.68 277.05 L656.30 277.37 L656.92 277.69 L657.54 278.00 L658.16 278.32 L658.79 278.64 L659.41 278.96 L660.03 279.28 L660.65 279.60 L661.27 279.92 L661.89 280.24 L662.51 280.57 L663.12 280.89 L663.74 281.21 L664.36 281.54 L664.98 281.86 L665.60 282.19 L666.21 282.51 L666.83 282.84 L667.45 283.17 L668.06 283.50 L668.68 283.83 L669.29 284.16 L669.91 284.49 L670.52 284.82 L671.13 285.15 L671.75 285.48 L672.36 285.82 L672.97 286.15 L673.58 286.49 L674.20 286.82 L674.81 287.16 L675.42 287.50 L676.03 287.84 L676.64 288.17 L677.25 288.51 L677.86 288.86 L678.46 289.20 L679.07 289.54 L679.68 289.88 L680.28 290.23 L680.89 290.57 L681.50 290.92 L682.10 291.26 L682.71 291.61 L683.31 291.96 L683.91 292.31 L684.52 292.66 L685.12 293.01 L685.72 293.36 L686.32 293.72 L686.92 294.07 L687.52 294.43 L688.12 294.79 L688.71 295.15 L689.31 295.51 L689.91 295.87 L690.50 296.23 L691.10 296.59 L691.69 296.96 L692.28 297.32 L692.88 297.69 L693.47 298.06 L694.06 298.43 L694.65 298.80 L695.24 299.17 L695.83 299.54 L696.42 299.91 L697.00 300.28 L697.59 300.66 L698.18 301.04 L698.76 301.41 L699.35 301.79 L699.93 302.17 L700.51 302.55 L701.09 302.94 L701.67 303.32 L702.25 303.70 L702.83 304.09 L703.41 304.48 L703.99 304.87 L704.56 305.26 L705.14 305.65 L705.71 306.04 L706.29 306.43 L706.86 306.83 L707.43 307.23 L708.00 307.62 L708.57 308.02 L709.14 308.42 L709.71 308.83 L710.27 309.23 L710.84 309.63 L711.40 310.04 L711.96 310.45 L712.53 310.86 L713.09 311.27 L713.64 311.68 L714.20 312.10 L714.76 312.51 L715.32 312.93 L715.87 313.35 L716.42 313.77 L716.98 314.19 L717.53 314.61 L718.08 315.04 L718.62 315.46 L719.17 315.89 L719.72 316.32 L720.26 316.75 L720.80 317.18 L721.35 317.62 L721.88 318.06 L722.42 318.50 L722.95 318.94 L723.48 319.39 L724.01 319.84 L724.54 320.29 L725.07 320.74 L725.60 321.19 L726.12 321.64 L726.64 322.10 L727.17 322.55 L727.69 323.01 L728.20 323.47 L728.72 323.94 L729.24 324.40 L729.75 324.87 L730.26 325.33 L730.77 325.80 L731.28 326.27 L731.78 326.75 L732.29 327.22 L732.79 327.70 L733.29 328.18 L733.79 328.66 L734.29 329.14 L734.79 329.62 L735.28 330.11 L735.77 330.60 L736.26 331.08 L736.75 331.58 L737.24 332.07 L737.72 332.56 L738.20 333.06 L738.68 333.56 L739.16 334.06 L739.64 334.56 L740.12 335.06 L740.59 335.57 L741.06 336.07 L741.53 336.58 L741.99 337.09 L742.46 337.60 L742.92 338.12 L743.38 338.64 L743.84 339.15 L744.30 339.67 L744.75 340.20 L745.20 340.72 L745.65 341.25 L746.10 341.77 L746.54 342.30 L746.99 342.83 L747.43 343.36 L747.87 343.90 L748.30 344.43 L748.74 344.97 L749.17 345.51 L749.60 346.05 L750.03 346.60 L750.45 347.14 L750.88 347.69 L751.30 348.23 L751.72 348.78 L752.14 349.33 L752.55 349.89 L752.96 350.44 L753.36 351.01 L753.76 351.57 L754.15 352.14 L754.55 352.71 L754.94 353.28 L755.33 353.85 L755.71 354.42 L756.10 355.00 L756.48 355.57 L756.86 356.15 L757.24 356.73 L757.61 357.31 L757.99 357.89 L758.36 358.47 L758.73 359.05 L759.09 359.64 L759.46 360.23 L759.82 360.81 L760.18 361.40 L760.54 361.99 L760.89 362.59 L761.24 363.18 L761.60 363.77 L761.95 364.37 L762.31 364.96 L762.66 365.55 L763.01 366.14 L763.36 366.74 L763.71 367.34 L764.05 367.94 L764.39 368.53 L764.73 369.14 L765.07 369.74 L765.41 370.34 L765.74 370.94 L766.07 371.55 L766.40 372.16 L766.73 372.76 L767.06 373.37 L767.38 373.98 L767.70 374.60 L768.02 375.21 L768.34 375.82 L768.65 376.44 L768.96 377.05 L769.28 377.67 L769.58 378.29 L769.89 378.91 L770.20 379.53 L770.50 380.15 L770.80 380.77 L771.10 381.39 L771.40 382.02 L771.69 382.64 L771.98 383.27 L772.28 383.89 L772.57 384.52 L772.85 385.15 L773.14 385.78 L773.42 386.41 L773.70 387.04 L773.98 387.67 L774.26 388.31 L774.54 388.94 L774.81 389.58 L775.08 390.21 L775.35 390.85 L775.62 391.49 L775.89 392.12 L776.16 392.76 L776.42 393.40 L776.68 394.04 L776.94 394.69 L777.20 395.33 L777.45 395.97 L777.71 396.61 L777.96 397.26 L778.21 397.90 L778.46 398.55 L778.72 399.19 L778.97 399.84 L779.22 400.48 L779.47 401.13 L779.72 401.78 L779.97 402.42 L780.21 403.07 L780.46 403.72 L780.70 404.37 L780.94 405.02 L781.18 405.67 L781.41 406.32 L781.65 406.97 L781.88 407.63 L782.11 408.28 L782.34 408.93 L782.57 409.59 L782.80 410.24 L783.03 410.90 L783.25 411.56 L783.47 412.21 L783.69 412.87 L783.91 413.53 L784.13 414.19 L784.35 414.85 L784.56 415.51 L784.78 416.17 L784.99 416.83 L785.20 417.49 L785.41 418.15 L785.62 418.81 L785.83 419.48 L786.03 420.14 L786.23 420.81 L786.44 421.47 L786.64 422.13 L786.84 422.80 L787.04 423.47 L787.23 424.13 L787.43 424.80 L787.62 425.47 L787.82 426.13 L788.01 426.80 L788.20 427.47 L788.39 428.14 L788.58 428.81 L788.76 429.48 L788.95 430.15 L789.13 430.82 L789.32 431.49 L789.50 432.16 L789.68 432.83 L789.86 433.51 L790.03 434.18 L790.21 434.85 L790.39 435.52 L790.56 436.20 L790.73 436.87 L790.91 437.55 L791.08 438.22 L791.25 438.90 L791.42 439.57 L791.58 440.25 L791.75 440.92 L791.91 441.60 L792.08 442.28 L792.24 442.95 L792.40 443.63 L792.56 444.31 L792.72 444.99 L792.88 445.66 L793.04 446.34 L793.20 447.02 L793.35 447.70 L793.51 448.38 L793.66 449.06 L793.81 449.74 L793.96 450.42 L794.11 451.10 L794.26 451.78 L794.41 452.46 L794.56 453.14 L794.70 453.82 L794.85 454.51 L794.99 455.19 L795.13 455.87 L795.28 456.55 L795.42 457.24 L795.56 457.92 L795.70 458.60 L795.83 459.28 L795.97 459.97 L796.11 460.65 L796.24 461.34 L796.38 462.02 L796.51 462.71 L796.65 463.39 L796.78 464.07 L796.91 464.76 L797.04 465.45 L797.17 466.13 L797.30 466.82 L797.42 467.50 L797.55 468.19 L797.67 468.88 L797.80 469.56 L797.93 470.25 L798.05 470.93 L798.18 471.62 L798.30 472.31 L798.42 472.99 L798.55 473.68 L798.67 474.37 L798.79 475.06 L798.91 475.74 L799.03 476.43 L799.15 477.12 L799.26 477.81 L799.38 478.50 L799.50 479.19 L799.61 479.87 L799.73 480.56 L799.84 481.25 L799.95 481.94 L800.06 482.63 L800.18 483.32 L800.29 484.01 L800.40 484.70 L800.51 485.39 L800.61 486.08 L800.72 486.77 L800.83 487.46 L800.93 488.15 L801.04 488.84 L801.14 489.53 L801.25 490.22 L801.35 490.92 L801.45 491.61 L801.55 492.30 L801.66 492.99 L801.76 493.68 L801.86 494.37 L801.96 495.06 L802.05 495.76 L802.15 496.45 L802.25 497.14 L802.34 497.83 L802.44 498.53 L802.54 499.22 L802.63 499.91 L802.72 500.60 L802.82 501.30 L802.91 501.99 L803.00 502.68 L803.09 503.38 L803.18 504.07 L803.27 504.76 L803.36 505.46 L803.45 506.15 L803.54 506.84 L803.63 507.54 L803.71 508.23 L803.80 508.93 L803.88 509.62 L803.97 510.31 L804.05 511.01 L804.14 511.70 L804.22 512.40 L804.30 513.09 L804.39 513.79 L804.47 514.48 L804.55 515.18 L804.63 515.87 L804.71 516.57 L804.79 517.26 L804.87 517.96 L804.95 518.65 L805.02 519.35 L805.10 520.04 L805.18 520.74 L805.25 521.43 L805.33 522.13 L805.40 522.83 L805.48 523.52 L805.55 524.22 L805.63 524.91 L805.70 525.61 L805.77 526.31 L805.84 527.00 L805.92 527.70 L805.99 528.40 L806.06 529.09 L806.13 529.79 L806.20 530.48 L806.27 531.18 L806.33 531.88 L806.40 532.58 L806.47 533.27 L806.54 533.97 L806.60 534.67 L806.67 535.36 L806.74 536.06 L806.80 536.76 L806.87 537.45 L806.93 538.15 L806.99 538.85 L807.06 539.55 L807.12 540.24 L807.18 540.94 L807.24 541.64 L807.30 542.34 L807.36 543.03 L807.42 543.73 L807.48 544.43 L807.54 545.13 L807.60 545.83 L807.66 546.52 L807.72 547.22 L807.78 547.92 L807.83 548.62 L807.89 549.32 L807.95 550.01 L808.00 550.71 L808.06 551.41 L808.11 552.11 L815.06 551.57 L815.01 550.87 L814.95 550.16 L814.90 549.46 L814.84 548.76 L814.79 548.06 L814.73 547.35 L814.68 546.65 L814.62 545.95 L814.56 545.25 L814.50 544.55 L814.44 543.84 L814.39 543.14 L814.33 542.44 L814.27 541.74 L814.21 541.03 L814.15 540.33 L814.09 539.63 L814.02 538.93 L813.96 538.23 L813.90 537.52 L813.84 536.82 L813.78 536.12 L813.71 535.42 L813.65 534.72 L813.59 534.02 L813.52 533.31 L813.46 532.61 L813.39 531.91 L813.33 531.21 L813.26 530.51 L813.20 529.80 L813.13 529.10 L813.06 528.40 L812.99 527.70 L812.92 527.00 L812.86 526.30 L812.79 525.59 L812.72 524.89 L812.65 524.19 L812.58 523.49 L812.50 522.79 L812.43 522.09 L812.36 521.39 L812.29 520.68 L812.21 519.98 L812.14 519.28 L812.07 518.58 L811.99 517.88 L811.92 517.18 L811.84 516.48 L811.76 515.78 L811.69 515.08 L811.61 514.37 L811.53 513.67 L811.45 512.97 L811.37 512.27 L811.29 511.57 L811.21 510.87 L811.13 510.17 L811.05 509.47 L810.97 508.77 L810.89 508.07 L810.80 507.37 L810.72 506.67 L810.63 505.97 L810.55 505.27 L810.46 504.57 L810.38 503.87 L810.29 503.17 L810.20 502.46 L810.12 501.76 L810.03 501.06 L809.94 500.36 L809.85 499.66 L809.76 498.96 L809.67 498.26 L809.57 497.57 L809.48 496.87 L809.39 496.17 L809.29 495.47 L809.20 494.77 L809.11 494.07 L809.01 493.37 L808.91 492.67 L808.82 491.97 L808.72 491.27 L808.62 490.57 L808.52 489.87 L808.42 489.17 L808.32 488.47 L808.22 487.78 L808.12 487.08 L808.02 486.38 L807.91 485.68 L807.81 484.98 L807.70 484.28 L807.60 483.58 L807.49 482.89 L807.38 482.19 L807.28 481.49 L807.17 480.79 L807.06 480.09 L806.95 479.40 L806.84 478.70 L806.73 478.00 L806.61 477.30 L806.50 476.60 L806.39 475.91 L806.27 475.21 L806.16 474.51 L806.04 473.82 L805.92 473.12 L805.81 472.42 L805.69 471.72 L805.57 471.03 L805.45 470.33 L805.33 469.64 L805.20 468.94 L805.08 468.24 L804.95 467.55 L804.83 466.85 L804.70 466.16 L804.57 465.46 L804.44 464.77 L804.31 464.07 L804.18 463.38 L804.04 462.68 L803.91 461.99 L803.78 461.29 L803.64 460.60 L803.50 459.90 L803.37 459.21 L803.23 458.52 L803.09 457.82 L802.95 457.13 L802.81 456.44 L802.67 455.74 L802.52 455.05 L802.38 454.36 L802.23 453.66 L802.09 452.97 L801.94 452.28 L801.79 451.59 L801.64 450.89 L801.49 450.20 L801.34 449.51 L801.19 448.82 L801.03 448.13 L800.88 447.44 L800.72 446.75 L800.57 446.06 L800.41 445.37 L800.25 444.68 L800.09 443.99 L799.93 443.30 L799.77 442.61 L799.60 441.92 L799.44 441.23 L799.27 440.54 L799.10 439.85 L798.94 439.16 L798.77 438.47 L798.60 437.79 L798.43 437.10 L798.25 436.41 L798.08 435.72 L797.90 435.04 L797.73 434.35 L797.55 433.66 L797.37 432.98 L797.19 432.29 L797.01 431.61 L796.83 430.92 L796.64 430.24 L796.46 429.55 L796.27 428.87 L796.08 428.18 L795.89 427.50 L795.70 426.82 L795.51 426.13 L795.32 425.45 L795.12 424.77 L794.93 424.08 L794.73 423.40 L794.53 422.72 L794.33 422.04 L794.13 421.36 L793.93 420.68 L793.72 420.00 L793.52 419.32 L793.31 418.64 L793.10 417.96 L792.89 417.28 L792.68 416.60 L792.47 415.93 L792.25 415.25 L792.04 414.57 L791.82 413.90 L791.60 413.22 L791.38 412.54 L791.16 411.87 L790.94 411.19 L790.71 410.52 L790.48 409.85 L790.26 409.17 L790.03 408.50 L789.79 407.83 L789.56 407.16 L789.33 406.48 L789.09 405.81 L788.85 405.14 L788.61 404.47 L788.37 403.80 L788.13 403.13 L787.88 402.47 L787.64 401.80 L787.39 401.13 L787.14 400.46 L786.89 399.80 L786.63 399.13 L786.38 398.47 L786.12 397.80 L785.86 397.14 L785.60 396.48 L785.34 395.82 L785.07 395.16 L784.79 394.50 L784.52 393.84 L784.24 393.18 L783.96 392.53 L783.68 391.87 L783.40 391.22 L783.12 390.57 L782.83 389.91 L782.54 389.26 L782.25 388.61 L781.96 387.96 L781.66 387.31 L781.37 386.66 L781.07 386.01 L780.77 385.37 L780.47 384.72 L780.16 384.08 L779.85 383.43 L779.55 382.79 L779.24 382.15 L778.92 381.51 L778.61 380.87 L778.29 380.23 L777.97 379.59 L777.65 378.95 L777.33 378.31 L777.00 377.68 L776.68 377.04 L776.35 376.41 L776.02 375.78 L775.68 375.15 L775.35 374.52 L775.01 373.89 L774.67 373.26 L774.32 372.64 L773.98 372.01 L773.63 371.39 L773.28 370.76 L772.93 370.14 L772.58 369.52 L772.22 368.90 L771.87 368.28 L771.51 367.67 L771.14 367.05 L770.78 366.44 L770.41 365.83 L770.04 365.21 L769.67 364.60 L769.30 364.00 L768.92 363.39 L768.54 362.78 L768.16 362.18 L767.78 361.58 L767.39 360.97 L767.00 360.38 L766.61 359.78 L766.21 359.19 L765.80 358.60 L765.40 358.01 L764.99 357.43 L764.58 356.84 L764.17 356.26 L763.76 355.68 L763.34 355.10 L762.92 354.52 L762.50 353.94 L762.08 353.37 L761.65 352.79 L761.22 352.22 L760.79 351.65 L760.36 351.08 L759.93 350.52 L759.49 349.95 L759.05 349.39 L758.61 348.83 L758.16 348.27 L757.72 347.72 L757.27 347.16 L756.83 346.60 L756.38 346.05 L755.94 345.49 L755.49 344.93 L755.05 344.38 L754.59 343.83 L754.14 343.28 L753.69 342.73 L753.23 342.18 L752.77 341.64 L752.31 341.10 L751.84 340.56 L751.38 340.02 L750.91 339.48 L750.44 338.95 L749.97 338.41 L749.49 337.88 L749.02 337.36 L748.54 336.83 L748.06 336.30 L747.57 335.78 L747.09 335.26 L746.60 334.74 L746.12 334.22 L745.63 333.71 L745.13 333.19 L744.64 332.68 L744.14 332.17 L743.65 331.66 L743.15 331.16 L742.65 330.65 L742.14 330.15 L741.64 329.65 L741.13 329.16 L740.62 328.66 L740.11 328.17 L739.60 327.67 L739.08 327.18 L738.57 326.70 L738.05 326.21 L737.53 325.73 L737.01 325.24 L736.49 324.76 L735.96 324.29 L735.43 323.81 L734.91 323.34 L734.38 322.87 L733.85 322.39 L733.31 321.93 L732.78 321.46 L732.24 321.00 L731.71 320.53 L731.17 320.07 L730.63 319.62 L730.08 319.16 L729.54 318.70 L729.00 318.25 L728.45 317.80 L727.90 317.35 L727.35 316.90 L726.80 316.46 L726.25 316.01 L725.70 315.57 L725.14 315.13 L724.59 314.70 L724.03 314.26 L723.47 313.82 L722.92 313.38 L722.36 312.95 L721.80 312.51 L721.24 312.08 L720.68 311.65 L720.12 311.22 L719.55 310.80 L718.99 310.37 L718.42 309.95 L717.86 309.53 L717.29 309.11 L716.72 308.69 L716.15 308.27 L715.58 307.86 L715.00 307.44 L714.43 307.03 L713.85 306.62 L713.28 306.21 L712.70 305.80 L712.12 305.40 L711.55 304.99 L710.97 304.59 L710.39 304.19 L709.80 303.79 L709.22 303.39 L708.64 302.99 L708.05 302.60 L707.47 302.20 L706.88 301.81 L706.30 301.42 L705.71 301.03 L705.12 300.64 L704.53 300.26 L703.94 299.87 L703.35 299.48 L702.76 299.10 L702.17 298.72 L701.57 298.34 L700.98 297.96 L700.38 297.58 L699.79 297.20 L699.19 296.83 L698.60 296.46 L698.00 296.08 L697.40 295.71 L696.80 295.34 L696.20 294.97 L695.60 294.60 L695.00 294.23 L694.40 293.87 L693.80 293.50 L693.19 293.14 L692.59 292.78 L691.99 292.41 L691.38 292.05 L690.78 291.69 L690.17 291.34 L689.57 290.98 L688.96 290.62 L688.35 290.27 L687.74 289.91 L687.14 289.56 L686.53 289.20 L685.92 288.85 L685.31 288.50 L684.70 288.15 L684.09 287.79 L683.48 287.44 L682.87 287.10 L682.26 286.75 L681.65 286.40 L681.04 286.06 L680.42 285.71 L679.81 285.37 L679.20 285.02 L678.58 284.68 L677.97 284.34 L677.35 284.00 L676.74 283.66 L676.12 283.32 L675.51 282.98 L674.89 282.64 L674.27 282.31 L673.66 281.97 L673.04 281.63 L672.42 281.30 L671.80 280.97 L671.19 280.63 L670.57 280.30 L669.95 279.97 L669.33 279.64 L668.71 279.31 L668.09 278.98 L667.47 278.65 L666.84 278.32 L666.22 278.00 L665.60 277.67 L664.98 277.34 L664.36 277.02 L663.73 276.69 L663.11 276.37 L662.49 276.05 L661.86 275.73 L661.24 275.40 L660.61 275.08 L659.99 274.76 L659.36 274.44 L658.74 274.12 L658.11 273.80 L657.49 273.49 L656.86 273.17 L656.23 272.85 L655.61 272.54 L654.98 272.22 L654.35 271.90 L653.73 271.59 L653.10 271.28 L652.47 270.96 L651.84 270.65 L651.21 270.34 L650.58 270.03 L649.96 269.71 L649.33 269.40 L648.70 269.09 L648.07 268.78 L647.44 268.47 L646.81 268.17 L646.18 267.86 L645.54 267.55 L644.91 267.24 L644.28 266.94 L643.65 266.63 L643.02 266.33 L642.39 266.02 L641.75 265.72 L641.12 265.41 L640.49 265.11 L639.86 264.81 L639.22 264.50 L638.59 264.20 L637.96 263.90 L637.32 263.60 L636.69 263.30 L636.05 263.00 L635.42 262.70 L634.79 262.40 L634.15 262.10 L633.52 261.80 L632.88 261.51 L632.25 261.21 L631.61 260.91 L630.97 260.62 L630.34 260.32 L629.70 260.02 L629.06 259.73 L628.43 259.44 L627.79 259.14 L627.15 258.85 L626.52 258.55 L625.88 258.26 L625.24 257.97 L624.60 257.68 L623.97 257.39 L623.33 257.09 L622.69 256.80 L622.05 256.51 L621.41 256.22 L620.77 255.94 L620.13 255.65 L619.49 255.36 L618.85 255.07 L618.21 254.78 L617.57 254.49 L616.93 254.21 L616.29 253.92 L615.65 253.64 L615.01 253.35 L614.37 253.07 L613.73 252.78 L613.09 252.50 L612.45 252.21 L611.81 251.93 L611.17 251.65 L610.52 251.36 L609.88 251.08 L609.24 250.80 L608.60 250.52 L607.95 250.24 L607.31 249.96 L606.67 249.68 L606.03 249.40 L605.38 249.12 L604.74 248.84 L604.10 248.56 L603.45 248.28 L602.81 248.00 L602.16 247.73 L601.52 247.45 L600.87 247.17 L600.23 246.90 L599.58 246.62 L598.94 246.35 L598.29 246.07 L597.65 245.80 L597.00 245.52 L596.36 245.25 L595.71 244.97 L595.07 244.70 L594.42 244.43 L593.77 244.16 L593.13 243.88 L592.48 243.61 L591.83 243.34 L591.19 243.07 L590.54 242.80 L589.89 242.53 L589.24 242.26 L588.60 241.99 L587.95 241.72 L587.30 241.46 L586.65 241.19 L586.00 240.92 L585.36 240.65 L584.71 240.39 L584.06 240.12 L583.41 239.86 L582.76 239.59 L582.11 239.32 L581.46 239.06 L580.81 238.80 L580.16 238.53 L579.51 238.27 L578.86 238.01 L578.21 237.74 L577.56 237.48 L576.91 237.22 L576.26 236.96 L575.61 236.70 L574.96 236.44 L574.31 236.17 L573.66 235.91 L573.00 235.66 L572.35 235.40 L571.70 235.14 L571.05 234.88 L570.40 234.62 L569.74 234.36 L569.09 234.11 L568.44 233.85 L567.79 233.59 L567.13 233.34 L566.48 233.08 L565.83 232.83 L565.17 232.57 L564.52 232.32 L563.87 232.06 L563.21 231.81 L562.56 231.56 L561.90 231.30 L561.25 231.05 L560.60 230.80 L559.94 230.55 L559.29 230.30 L558.63 230.05 L557.98 229.80 L557.32 229.55 L556.67 229.30 L556.01 229.05 L555.35 228.80 L554.70 228.55 L554.04 228.30 L553.39 228.06 L552.73 227.81 L552.07 227.56 L551.42 227.32 L550.76 227.07 L550.10 226.83 L549.45 226.58 L548.79 226.34 L548.13 226.09 L547.47 225.85 L546.82 225.60 L546.16 225.36 L545.50 225.12 L544.84 224.88 L544.18 224.63 L543.52 224.39 L542.87 224.15 L542.21 223.91 L541.55 223.67 L540.89 223.43 L540.23 223.19 L539.57 222.95 L538.91 222.72 L538.25 222.48 L537.59 222.24 L536.93 222.00 L536.27 221.77 L535.61 221.53 L534.95 221.29 L534.29 221.06 L533.63 220.82 L532.97 220.59 L532.31 220.35 L531.65 220.12 L530.99 219.89 L530.32 219.65 L529.66 219.42 L529.00 219.19 L528.34 218.96 L527.68 218.72 L527.01 218.49 L526.35 218.26 L525.69 218.03 L525.03 217.80 L524.36 217.57 L523.70 217.34 L523.04 217.12 L522.37 216.89 L521.71 216.66 L521.05 216.43 L520.38 216.21 L519.72 215.98 L519.06 215.75 L518.39 215.53 L517.73 215.30 L517.06 215.08 L516.40 214.85 L515.74 214.63 L515.07 214.41 L514.41 214.18 L513.74 213.96 L513.08 213.74 L512.41 213.51 L511.74 213.29 L511.08 213.07 L510.41 212.85 L509.75 212.63 L509.08 212.41 L508.42 212.19 L507.75 211.97 L507.08 211.75 L506.42 211.54 L505.75 211.32 L505.08 211.10 L504.42 210.88 L503.75 210.67 L503.08 210.45 L502.41 210.24 L501.75 210.02 L501.08 209.81 L500.41 209.59 L499.74 209.38 L499.08 209.16 L498.41 208.95 L497.74 208.74 L497.07 208.53 L496.40 208.31 L495.73 208.10 L495.07 207.89 L494.40 207.68 L493.73 207.47 L493.06 207.26 L492.39 207.05 L491.72 206.84 L491.05 206.63 L490.38 206.42 L489.71 206.22 L489.04 206.01 L488.37 205.80 L487.70 205.60 L487.03 205.39 L486.36 205.18 L485.69 204.98 L485.02 204.77 L484.35 204.57 L483.68 204.37 L483.01 204.16 L482.33 203.96 L481.66 203.76 L480.99 203.55 L480.32 203.35 L479.65 203.15 L478.98 202.95 L478.30 202.75 L477.63 202.55 L476.96 202.35 L476.29 202.15 L475.62 201.95 L474.94 201.75 L474.27 201.55 L473.60 201.35 L472.92 201.16 L472.25 200.96 L471.58 200.76 L470.91 200.57 L470.23 200.37 L469.56 200.18 L468.88 199.98 L468.21 199.79 L467.54 199.59 L466.86 199.40 L466.19 199.20 L465.52 199.01 L464.84 198.82 L464.17 198.63 L463.49 198.43 L462.82 198.24 L462.14 198.05 L461.47 197.86 L460.79 197.67 L460.12 197.48 L459.44 197.29 L458.77 197.10 L458.09 196.91 L457.42 196.73 L456.74 196.54 L456.06 196.35 L455.39 196.16 L454.71 195.98 L454.04 195.79 L453.36 195.60 L452.68 195.42 L452.01 195.23 L451.33 195.05 L450.66 194.87 L449.98 194.68 L449.30 194.50 L448.62 194.31 L447.95 194.13 L447.27 193.95 L446.59 193.77 L445.92 193.59 L445.24 193.41 L444.56 193.22 L443.88 193.04 L443.21 192.86 L442.53 192.68 L441.85 192.51 L441.17 192.33 L440.49 192.15 L439.82 191.97 L439.14 191.79 L438.46 191.62 L437.78 191.44 L437.10 191.26 L436.42 191.09 L435.74 190.91 L435.07 190.74 L434.39 190.56 L433.71 190.39 L433.03 190.21 L432.35 190.04 L431.67 189.86 L430.99 189.69 L430.31 189.52 L429.63 189.35 L428.95 189.17 L428.27 189.00 L427.59 188.83 L426.91 188.66 L426.23 188.49 L425.55 188.32 L424.87 188.15 L424.19 187.98 L423.51 187.81 L422.83 187.64 L422.15 187.48 L421.47 187.31 L420.79 187.14 L420.11 186.97 L419.43 186.81 L418.74 186.64 L418.06 186.47 L417.38 186.31 L416.70 186.14 L416.02 185.98 L415.34 185.81 L414.66 185.65 L413.97 185.49 L413.29 185.32 L412.61 185.16 L411.93 185.00 L411.25 184.83 L410.56 184.67 L409.88 184.51 L409.20 184.35 L408.52 184.19 L407.84 184.03 L407.15 183.87 L406.47 183.71 L405.79 183.55 L405.10 183.39 L404.42 183.23 L403.74 183.07 L403.06 182.91 L402.37 182.76 L401.69 182.60 L401.01 182.44 L400.32 182.28 L399.64 182.13 L398.96 181.97 L398.27 181.82 L397.59 181.66 L396.91 181.51 L396.22 181.35 L395.54 181.20 L394.85 181.04 L394.17 180.89 L393.49 180.74 L392.80 180.58 L392.12 180.43 L391.43 180.28 L390.75 180.13 L390.06 179.97 L389.38 179.82 L388.70 179.67 L388.01 179.52 L387.33 179.37 L386.64 179.22 L385.96 179.07 L385.27 178.92 L384.59 178.77 L383.90 178.62 L383.22 178.48 L382.53 178.33 L381.85 178.18 L381.16 178.03 L380.48 177.89 L379.79 177.74 L379.10 177.59 L378.42 177.45 L377.73 177.30 L377.05 177.15 L376.36 177.01 L375.68 176.86 L374.99 176.72 L374.30 176.58 L373.62 176.43 L372.93 176.29 L372.25 176.15 L371.56 176.00 L370.87 175.86 L370.19 175.72 L369.50 175.58 L368.81 175.43 L368.13 175.29 L367.44 175.15 L366.75 175.01 L366.07 174.87 L365.38 174.73 L364.69 174.59 L364.01 174.45 L363.32 174.31 L362.63 174.17 L361.95 174.03 L361.26 173.90 L360.57 173.76 L359.89 173.62 L359.20 173.48 L358.51 173.34 L357.82 173.21 L357.14 173.07 L356.45 172.93 L355.76 172.80 L355.07 172.66 L354.39 172.53 L353.70 172.39 L353.01 172.26 L352.32 172.12 L351.63 171.99 L350.95 171.85 L350.26 171.72 L349.57 171.59 L348.88 171.45 L348.19 171.32 L347.51 171.19 L346.82 171.06 L346.13 170.92 L345.44 170.79 L344.75 170.66 L344.06 170.53 L343.38 170.40 L342.69 170.27 L342.00 170.14 L341.31 170.01 L340.62 169.88 L339.93 169.75 L339.24 169.62 L338.55 169.49 L337.87 169.36 L337.18 169.23 L336.49 169.11 L335.80 168.98 L335.11 168.85 L334.42 168.72 L333.73 168.60 L333.04 168.47 L332.35 168.34 L331.66 168.22 L330.97 168.09 L330.29 167.96 L329.60 167.84 L328.91 167.71 L328.22 167.59 L327.53 167.46 L326.84 167.34 L326.15 167.21 L325.46 167.09 L324.77 166.97 L324.08 166.84 L323.39 166.72 L322.70 166.60 L322.01 166.47 L321.32 166.35 L320.63 166.23 L319.94 166.11 L319.25 165.99 L318.56 165.86 L317.87 165.74 L317.18 165.62 L316.49 165.50 L315.80 165.38 L315.11 165.26 L314.42 165.14 L313.73 165.02 L313.04 164.90 L312.35 164.78 L311.66 164.66 L310.97 164.54 L310.27 164.42 L309.58 164.31 L308.89 164.19 L308.20 164.07 L307.51 163.95 L306.82 163.83 L306.13 163.72 L305.44 163.60 L304.75 163.48 L304.06 163.37 L303.37 163.25 L302.68 163.13 L301.98 163.02 L301.29 162.90 L300.60 162.79 L299.91 162.67 L299.22 162.56 L298.53 162.44 L297.84 162.33 L297.15 162.21 L296.46 162.10 L295.76 161.99 L295.07 161.87 L294.38 161.76 L293.69 161.65 L293.00 161.53 L292.31 161.42 L291.62 161.31 L290.92 161.19 L290.23 161.08 L289.54 160.97 L288.85 160.86 L288.16 160.75 L287.47 160.64 L286.77 160.52 L286.08 160.41 L285.39 160.30 L284.70 160.19 L284.01 160.08 L283.31 159.97 L282.62 159.86 L281.93 159.75 L281.24 159.64 L280.55 159.53 L279.85 159.42 L279.16 159.31 L278.47 159.21 L277.78 159.10 L277.09 158.99 L276.39 158.88 L275.70 158.77 L275.01 158.67 L274.32 158.56 L273.63 158.45 L272.93 158.34 L272.24 158.24 L271.55 158.13 L270.86 158.02 L270.16 157.92 L269.47 157.81 L268.78 157.70 L268.09 157.60 L267.39 157.49 L266.70 157.39 L266.01 157.28 L265.32 157.18 L264.62 157.07 L263.93 156.97 L263.24 156.86 L262.55 156.76 L261.85 156.65 L261.16 156.55 L260.47 156.45 L259.77 156.34 L259.08 156.24 L258.39 156.14 L257.70 156.03 L257.00 155.93 L256.31 155.83 L255.62 155.72 L254.92 155.62 L254.23 155.52 L253.54 155.42 L252.84 155.31 L252.15 155.21 L251.46 155.11 L250.77 155.01 L250.07 154.91 L249.38 154.81 L248.69 154.71 L247.99 154.61 L247.30 154.50 L246.61 154.40 L245.91 154.30 L245.22 154.20 L244.53 154.10 L243.83 154.00 L243.14 153.90 L242.45 153.80 L241.75 153.71 L241.06 153.61 L240.37 153.51 L239.67 153.41 L238.98 153.31 L238.29 153.21 L237.59 153.11 L236.90 153.01 L236.21 152.92 L235.51 152.82 L234.82 152.72 L234.12 152.62 L233.43 152.52 L232.74 152.43 L232.04 152.33 L231.35 152.23 L230.66 152.14 L229.96 152.04 L229.27 151.94 L228.58 151.85 L227.88 151.75 L227.19 151.65 L226.49 151.56 L225.80 151.46 L225.11 151.37 L224.41 151.27 L223.72 151.17 L223.02 151.08 L222.33 150.98 L221.64 150.89 L220.94 150.79 L220.25 150.70 L219.56 150.60 L218.86 150.51 L218.17 150.42 L217.47 150.32 L216.78 150.23 L216.08 150.13 L215.39 150.04 L214.70 149.94 L214.00 149.85 L213.31 149.76 L212.61 149.66 L211.92 149.57 L211.23 149.48 L210.53 149.39 L209.84 149.29 L209.14 149.20 L208.45 149.11 L207.76 149.01 L207.06 148.92 L206.37 148.83 L205.67 148.74 L204.98 148.65 L204.28 148.55 L203.59 148.46 L202.90 148.37 L202.20 148.28 L201.51 148.19 L200.81 148.10 L200.12 148.00 L199.42 147.91 L198.73 147.82 L198.03 147.73 L197.34 147.64 L196.65 147.55 L195.95 147.46 L195.26 147.37 L194.56 147.28 L193.87 147.19 L193.17 147.10 L192.48 147.01 L191.78 146.92 L191.09 146.83 L190.39 146.74 L189.70 146.65 L189.01 146.56 L188.31 146.47 L187.62 146.38 L186.92 146.29 L186.23 146.21 L185.53 146.12 L184.84 146.03 L184.14 145.94 L183.45 145.85 L182.75 145.76 L182.06 145.67 L181.36 145.59 L180.67 145.50 L179.97 145.41 L179.28 145.32 L178.59 145.23 L177.89 145.15 L177.20 145.06 L176.50 144.97 L175.81 144.88 L175.11 144.80 L174.42 144.71 L173.72 144.62 L173.03 144.54 L172.33 144.45 L171.64 144.36 L170.94 144.27 L170.25 144.19Z" fill="#ffff00" stroke="none"/>
<path d="M170.00 146.17 L170.69 146.26 L171.39 146.35 L172.08 146.43 L172.78 146.52 L173.47 146.61 L174.17 146.69 L174.86 146.78 L175.56 146.87 L176.25 146.96 L176.95 147.04 L177.64 147.13 L178.33 147.22 L179.03 147.31 L179.72 147.39 L180.42 147.48 L181.11 147.57 L181.81 147.66 L182.50 147.75 L183.20 147.83 L183.89 147.92 L184.58 148.01 L185.28 148.10 L185.97 148.19 L186.67 148.28 L187.36 148.37 L188.06 148.46 L188.75 148.55 L189.44 148.63 L190.14 148.72 L190.83 148.81 L191.53 148.90 L192.22 148.99 L192.92 149.08 L193.61 149.17 L194.30 149.26 L195.00 149.35 L195.69 149.44 L196.39 149.53 L197.08 149.62 L197.78 149.72 L198.47 149.81 L199.16 149.90 L199.86 149.99 L200.55 150.08 L201.25 150.17 L201.94 150.26 L202.63 150.35 L203.33 150.44 L204.02 150.54 L204.72 150.63 L205.41 150.72 L206.10 150.81 L206.80 150.90 L207.49 151.00 L208.19 151.09 L208.88 151.18 L209.57 151.27 L210.27 151.37 L210.96 151.46 L211.65 151.55 L212.35 151.65 L213.04 151.74 L213.74 151.83 L214.43 151.93 L215.12 152.02 L215.82 152.11 L216.51 152.21 L217.20 152.30 L217.90 152.40 L218.59 152.49 L219.28 152.59 L219.98 152.68 L220.67 152.78 L221.37 152.87 L222.06 152.97 L222.75 153.06 L223.45 153.16 L224.14 153.25 L224.83 153.35 L225.53 153.44 L226.22 153.54 L226.91 153.63 L227.61 153.73 L228.30 153.83 L228.99 153.92 L229.69 154.02 L230.38 154.12 L231.07 154.21 L231.77 154.31 L232.46 154.41 L233.15 154.51 L233.85 154.60 L234.54 154.70 L235.23 154.80 L235.93 154.90 L236.62 154.99 L237.31 155.09 L238.00 155.19 L238.70 155.29 L239.39 155.39 L240.08 155.49 L240.78 155.59 L241.47 155.68 L242.16 155.78 L242.86 155.88 L243.55 155.98 L244.24 156.08 L244.93 156.18 L245.63 156.28 L246.32 156.38 L247.01 156.48 L247.71 156.58 L248.40 156.69 L249.09 156.79 L249.78 156.89 L250.48 156.99 L251.17 157.09 L251.86 157.19 L252.55 157.29 L253.25 157.40 L253.94 157.50 L254.63 157.60 L255.32 157.70 L256.02 157.80 L256.71 157.91 L257.40 158.01 L258.09 158.11 L258.79 158.22 L259.48 158.32 L260.17 158.42 L260.86 158.53 L261.55 158.63 L262.25 158.74 L262.94 158.84 L263.63 158.94 L264.32 159.05 L265.02 159.15 L265.71 159.26 L266.40 159.36 L267.09 159.47 L267.78 159.58 L268.48 159.68 L269.17 159.79 L269.86 159.89 L270.55 160.00 L271.24 160.11 L271.94 160.21 L272.63 160.32 L273.32 160.43 L274.01 160.53 L274.70 160.64 L275.39 160.75 L276.09 160.86 L276.78 160.97 L277.47 161.07 L278.16 161.18 L278.85 161.29 L279.54 161.40 L280.24 161.51 L280.93 161.62 L281.62 161.73 L282.31 161.84 L283.00 161.95 L283.69 162.06 L284.38 162.17 L285.07 162.28 L285.77 162.39 L286.46 162.50 L287.15 162.61 L287.84 162.72 L288.53 162.83 L289.22 162.94 L289.91 163.06 L290.60 163.17 L291.29 163.28 L291.99 163.39 L292.68 163.51 L293.37 163.62 L294.06 163.73 L294.75 163.85 L295.44 163.96 L296.13 164.07 L296.82 164.19 L297.51 164.30 L298.20 164.42 L298.89 164.53 L299.58 164.65 L300.27 164.76 L300.96 164.88 L301.65 164.99 L302.34 165.11 L303.03 165.22 L303.73 165.34 L304.42 165.46 L305.11 165.57 L305.80 165.69 L306.49 165.81 L307.18 165.92 L307.87 166.04 L308.56 166.16 L309.25 166.28 L309.94 166.40 L310.63 166.51 L311.32 166.63 L312.01 166.75 L312.70 166.87 L313.39 166.99 L314.08 167.11 L314.76 167.23 L315.45 167.35 L316.14 167.47 L316.83 167.59 L317.52 167.71 L318.21 167.83 L318.90 167.96 L319.59 168.08 L320.28 168.20 L320.97 168.32 L321.66 168.44 L322.35 168.57 L323.04 168.69 L323.73 168.81 L324.42 168.94 L325.10 169.06 L325.79 169.18 L326.48 169.31 L327.17 169.43 L327.86 169.56 L328.55 169.68 L329.24 169.81 L329.93 169.93 L330.62 170.06 L331.30 170.18 L331.99 170.31 L332.68 170.44 L333.37 170.56 L334.06 170.69 L334.75 170.82 L335.43 170.94 L336.12 171.07 L336.81 171.20 L337.50 171.33 L338.19 171.46 L338.88 171.59 L339.56 171.71 L340.25 171.84 L340.94 171.97 L341.63 172.10 L342.31 172.23 L343.00 172.36 L343.69 172.50 L344.38 172.63 L345.07 172.76 L345.75 172.89 L346.44 173.02 L347.13 173.15 L347.82 173.29 L348.50 173.42 L349.19 173.55 L349.88 173.68 L350.56 173.82 L351.25 173.95 L351.94 174.09 L352.63 174.22 L353.31 174.36 L354.00 174.49 L354.69 174.63 L355.37 174.76 L356.06 174.90 L356.75 175.03 L357.43 175.17 L358.12 175.31 L358.81 175.44 L359.49 175.58 L360.18 175.72 L360.87 175.86 L361.55 175.99 L362.24 176.13 L362.92 176.27 L363.61 176.41 L364.30 176.55 L364.98 176.69 L365.67 176.83 L366.35 176.97 L367.04 177.11 L367.72 177.25 L368.41 177.39 L369.10 177.53 L369.78 177.68 L370.47 177.82 L371.15 177.96 L371.84 178.10 L372.52 178.25 L373.21 178.39 L373.89 178.53 L374.58 178.68 L375.26 178.82 L375.95 178.97 L376.63 179.11 L377.32 179.26 L378.00 179.40 L378.69 179.55 L379.37 179.69 L380.06 179.84 L380.74 179.99 L381.43 180.13 L382.11 180.28 L382.79 180.43 L383.48 180.58 L384.16 180.73 L384.85 180.88 L385.53 181.02 L386.21 181.17 L386.90 181.32 L387.58 181.47 L388.27 181.62 L388.95 181.78 L389.63 181.93 L390.32 182.08 L391.00 182.23 L391.68 182.38 L392.37 182.53 L393.05 182.69 L393.73 182.84 L394.42 182.99 L395.10 183.15 L395.78 183.30 L396.46 183.46 L397.15 183.61 L397.83 183.77 L398.51 183.92 L399.19 184.08 L399.88 184.23 L400.56 184.39 L401.24 184.55 L401.92 184.70 L402.61 184.86 L403.29 185.02 L403.97 185.18 L404.65 185.34 L405.33 185.50 L406.01 185.65 L406.70 185.81 L407.38 185.97 L408.06 186.13 L408.74 186.30 L409.42 186.46 L410.10 186.62 L410.78 186.78 L411.46 186.94 L412.15 187.10 L412.83 187.27 L413.51 187.43 L414.19 187.59 L414.87 187.76 L415.55 187.92 L416.23 188.09 L416.91 188.25 L417.59 188.42 L418.27 188.58 L418.95 188.75 L419.63 188.92 L420.31 189.08 L420.99 189.25 L421.67 189.42 L422.35 189.59 L423.03 189.75 L423.71 189.92 L424.39 190.09 L425.07 190.26 L425.75 190.43 L426.42 190.60 L427.10 190.77 L427.78 190.94 L428.46 191.11 L429.14 191.28 L429.82 191.46 L430.50 191.63 L431.18 191.80 L431.85 191.98 L432.53 192.15 L433.21 192.32 L433.89 192.50 L434.57 192.67 L435.24 192.85 L435.92 193.02 L436.60 193.20 L437.28 193.37 L437.95 193.55 L438.63 193.73 L439.31 193.91 L439.99 194.08 L440.66 194.26 L441.34 194.44 L442.02 194.62 L442.69 194.80 L443.37 194.98 L444.05 195.16 L444.72 195.34 L445.40 195.52 L446.08 195.70 L446.75 195.88 L447.43 196.06 L448.10 196.25 L448.78 196.43 L449.45 196.61 L450.13 196.80 L450.81 196.98 L451.48 197.16 L452.16 197.35 L452.83 197.53 L453.51 197.72 L454.18 197.90 L454.86 198.09 L455.53 198.28 L456.21 198.46 L456.88 198.65 L457.55 198.84 L458.23 199.03 L458.90 199.22 L459.58 199.41 L460.25 199.60 L460.92 199.79 L461.60 199.98 L462.27 200.17 L462.95 200.36 L463.62 200.55 L464.29 200.74 L464.97 200.93 L465.64 201.13 L466.31 201.32 L466.98 201.51 L467.66 201.71 L468.33 201.90 L469.00 202.10 L469.67 202.29 L470.35 202.49 L471.02 202.68 L471.69 202.88 L472.36 203.08 L473.03 203.27 L473.71 203.47 L474.38 203.67 L475.05 203.87 L475.72 204.07 L476.39 204.26 L477.06 204.46 L477.73 204.66 L478.40 204.86 L479.07 205.07 L479.74 205.27 L480.41 205.47 L481.08 205.67 L481.75 205.87 L482.42 206.08 L483.09 206.28 L483.76 206.48 L484.43 206.69 L485.10 206.89 L485.77 207.10 L486.44 207.30 L487.11 207.51 L487.78 207.71 L488.45 207.92 L489.12 208.13 L489.79 208.34 L490.46 208.54 L491.12 208.75 L491.79 208.96 L492.46 209.17 L493.13 209.38 L493.80 209.59 L494.46 209.80 L495.13 210.01 L495.80 210.22 L496.47 210.43 L497.13 210.64 L497.80 210.86 L498.47 211.07 L499.13 211.28 L499.80 211.50 L500.47 211.71 L501.13 211.92 L501.80 212.14 L502.47 212.35 L503.13 212.57 L503.80 212.79 L504.46 213.00 L505.13 213.22 L505.79 213.44 L506.46 213.66 L507.13 213.87 L507.79 214.09 L508.46 214.31 L509.12 214.53 L509.78 214.75 L510.45 214.97 L511.11 215.19 L511.78 215.41 L512.44 215.63 L513.11 215.86 L513.77 216.08 L514.43 216.30 L515.10 216.52 L515.76 216.75 L516.42 216.97 L517.09 217.20 L517.75 217.42 L518.41 217.65 L519.08 217.87 L519.74 218.10 L520.40 218.32 L521.06 218.55 L521.72 218.78 L522.39 219.01 L523.05 219.23 L523.71 219.46 L524.37 219.69 L525.03 219.92 L525.69 220.15 L526.36 220.38 L527.02 220.61 L527.68 220.84 L528.34 221.07 L529.00 221.31 L529.66 221.54 L530.32 221.77 L530.98 222.00 L531.64 222.24 L532.30 222.47 L532.96 222.71 L533.62 222.94 L534.28 223.18 L534.94 223.41 L535.60 223.65 L536.26 223.88 L536.91 224.12 L537.57 224.36 L538.23 224.60 L538.89 224.83 L539.55 225.07 L540.21 225.31 L540.86 225.55 L541.52 225.79 L542.18 226.03 L542.84 226.27 L543.49 226.51 L544.15 226.75 L544.81 227.00 L545.47 227.24 L546.12 227.48 L546.78 227.72 L547.43 227.97 L548.09 228.21 L548.75 228.45 L549.40 228.70 L550.06 228.94 L550.71 229.19 L551.37 229.44 L552.03 229.68 L552.68 229.93 L553.34 230.18 L553.99 230.42 L554.65 230.67 L555.30 230.92 L555.95 231.17 L556.61 231.42 L557.26 231.67 L557.92 231.92 L558.57 232.17 L559.22 232.42 L559.88 232.67 L560.53 232.92 L561.18 233.17 L561.84 233.42 L562.49 233.68 L563.14 233.93 L563.80 234.18 L564.45 234.44 L565.10 234.69 L565.75 234.95 L566.40 235.20 L567.06 235.46 L567.71 235.71 L568.36 235.97 L569.01 236.22 L569.66 236.48 L570.31 236.74 L570.96 237.00 L571.61 237.26 L572.27 237.51 L572.92 237.77 L573.57 238.03 L574.22 238.29 L574.87 238.55 L575.52 238.81 L576.17 239.07 L576.81 239.34 L577.46 239.60 L578.11 239.86 L578.76 240.12 L579.41 240.39 L580.06 240.65 L580.71 240.91 L581.36 241.18 L582.00 241.44 L582.65 241.71 L583.30 241.97 L583.95 242.24 L584.60 242.50 L585.24 242.77 L585.89 243.04 L586.54 243.30 L587.18 243.57 L587.83 243.84 L588.48 244.11 L589.12 244.38 L589.77 244.65 L590.42 244.92 L591.06 245.19 L591.71 245.46 L592.35 245.73 L593.00 246.00 L593.64 246.27 L594.29 246.54 L594.93 246.82 L595.58 247.09 L596.22 247.36 L596.87 247.64 L597.51 247.91 L598.16 248.18 L598.80 248.46 L599.44 248.73 L600.09 249.01 L600.73 249.29 L601.37 249.56 L602.02 249.84 L602.66 250.12 L603.30 250.40 L603.94 250.67 L604.59 250.95 L605.23 251.23 L605.87 251.51 L606.51 251.79 L607.15 252.07 L607.80 252.35 L608.44 252.63 L609.08 252.91 L609.72 253.19 L610.36 253.48 L611.00 253.76 L611.64 254.04 L612.28 254.32 L612.92 254.61 L613.56 254.89 L614.20 255.18 L614.84 255.46 L615.48 255.75 L616.12 256.03 L616.76 256.32 L617.40 256.61 L618.03 256.89 L618.67 257.18 L619.31 257.47 L619.95 257.76 L620.59 258.05 L621.22 258.34 L621.86 258.62 L622.50 258.91 L623.14 259.21 L623.77 259.50 L624.41 259.79 L625.05 260.08 L625.68 260.37 L626.32 260.66 L626.95 260.96 L627.59 261.25 L628.22 261.54 L628.86 261.84 L629.49 262.13 L630.13 262.43 L630.76 262.72 L631.40 263.02 L632.03 263.32 L632.67 263.61 L633.30 263.91 L633.93 264.21 L634.57 264.51 L635.20 264.81 L635.83 265.11 L636.47 265.41 L637.10 265.71 L637.73 266.01 L638.36 266.31 L638.99 266.61 L639.63 266.91 L640.26 267.22 L640.89 267.52 L641.52 267.82 L642.15 268.13 L642.78 268.43 L643.41 268.74 L644.04 269.04 L644.67 269.35 L645.30 269.66 L645.93 269.96 L646.56 270.27 L647.19 270.58 L647.81 270.89 L648.44 271.20 L649.07 271.51 L649.70 271.82 L650.32 272.13 L650.95 272.44 L651.58 272.75 L652.20 273.06 L652.83 273.38 L653.46 273.69 L654.08 274.01 L654.71 274.32 L655.33 274.64 L655.96 274.95 L656.58 275.27 L657.21 275.59 L657.83 275.90 L658.45 276.22 L659.08 276.54 L659.70 276.86 L660.32 277.18 L660.94 277.50 L661.57 277.82 L662.19 278.15 L662.81 278.47 L663.43 278.79 L664.05 279.12 L664.67 279.44 L665.29 279.77 L665.91 280.09 L666.53 280.42 L667.15 280.75 L667.77 281.08 L668.39 281.40 L669.00 281.73 L669.62 282.06 L670.24 282.40 L670.86 282.73 L671.47 283.06 L672.09 283.39 L672.70 283.73 L673.32 284.06 L673.93 284.40 L674.55 284.73 L675.16 285.07 L675.77 285.41 L676.39 285.75 L677.00 286.09 L677.61 286.43 L678.22 286.77 L678.83 287.11 L679.44 287.45 L680.05 287.80 L680.66 288.14 L681.27 288.49 L681.88 288.83 L682.49 289.18 L683.10 289.53 L683.70 289.88 L684.31 290.23 L684.92 290.58 L685.52 290.93 L686.13 291.28 L686.73 291.64 L687.34 291.99 L687.94 292.35 L688.54 292.70 L689.14 293.06 L689.75 293.42 L690.35 293.78 L690.95 294.14 L691.55 294.50 L692.14 294.87 L692.74 295.23 L693.34 295.60 L693.94 295.96 L694.53 296.33 L695.13 296.70 L695.73 297.07 L696.32 297.44 L696.91 297.81 L697.51 298.18 L698.10 298.56 L698.69 298.93 L699.28 299.31 L699.87 299.69 L700.46 300.07 L701.05 300.45 L701.63 300.83 L702.22 301.21 L702.81 301.59 L703.39 301.98 L703.98 302.37 L704.56 302.75 L705.14 303.14 L705.72 303.53 L706.30 303.93 L706.88 304.32 L707.46 304.71 L708.04 305.11 L708.62 305.51 L709.19 305.91 L709.77 306.31 L710.34 306.71 L710.92 307.11 L711.49 307.52 L712.06 307.92 L712.63 308.33 L713.20 308.74 L713.76 309.15 L714.33 309.56 L714.90 309.98 L715.46 310.39 L716.02 310.81 L716.59 311.23 L717.15 311.65 L717.71 312.07 L718.26 312.49 L718.82 312.92 L719.38 313.34 L719.93 313.77 L720.49 314.20 L721.04 314.63 L721.59 315.07 L722.14 315.50 L722.69 315.94 L723.23 316.38 L723.78 316.82 L724.32 317.26 L724.87 317.70 L725.41 318.15 L725.95 318.59 L726.49 319.04 L727.02 319.49 L727.56 319.95 L728.09 320.40 L728.62 320.86 L729.16 321.31 L729.69 321.77 L730.21 322.24 L730.74 322.70 L731.26 323.16 L731.79 323.63 L732.31 324.10 L732.83 324.57 L733.35 325.04 L733.86 325.52 L734.38 325.99 L734.89 326.47 L735.40 326.95 L735.91 327.43 L736.42 327.92 L736.92 328.40 L737.43 328.89 L737.93 329.38 L738.43 329.87 L738.93 330.36 L739.43 330.86 L739.92 331.36 L740.41 331.85 L740.90 332.36 L741.39 332.86 L741.88 333.36 L742.37 333.87 L742.85 334.38 L743.33 334.89 L743.81 335.40 L744.29 335.91 L744.76 336.43 L745.24 336.95 L745.71 337.47 L746.18 337.99 L746.64 338.51 L747.11 339.04 L747.57 339.56 L748.03 340.09 L748.49 340.62 L748.95 341.16 L749.40 341.69 L749.86 342.23 L750.31 342.77 L750.75 343.31 L751.20 343.85 L751.64 344.39 L752.08 344.94 L752.52 345.48 L752.96 346.03 L753.40 346.58 L753.83 347.14 L754.26 347.69 L754.69 348.25 L755.12 348.80 L755.54 349.36 L755.96 349.92 L756.38 350.49 L756.80 351.05 L757.21 351.62 L757.63 352.18 L758.04 352.75 L758.44 353.32 L758.85 353.90 L759.25 354.47 L759.66 355.05 L760.06 355.62 L760.45 356.20 L760.85 356.78 L761.24 357.37 L761.63 357.95 L762.02 358.53 L762.40 359.12 L762.79 359.71 L763.17 360.30 L763.55 360.89 L763.93 361.48 L764.30 362.07 L764.67 362.67 L765.04 363.27 L765.41 363.86 L765.78 364.46 L766.14 365.06 L766.50 365.67 L766.86 366.27 L767.22 366.87 L767.57 367.48" fill="none" stroke="#000" stroke-width="1.3"/>
<path d="M767.92 368.09 L768.28 368.70 L768.62 369.31 L768.97 369.92 L769.31 370.53 L769.65 371.14 L769.99 371.76 L770.33 372.37 L770.67 372.99 L771.00 373.61 L771.33 374.23 L771.66 374.85 L771.99 375.47 L772.31 376.09 L772.63 376.72 L772.95 377.34 L773.27 377.97 L773.59 378.60 L773.90 379.22 L774.21 379.85 L774.52 380.48 L774.83 381.11 L775.14 381.75 L775.44 382.38 L775.74 383.01 L776.04 383.65 L776.34 384.28 L776.64 384.92 L776.93 385.56 L777.22 386.20 L777.51 386.84 L777.80 387.48 L778.09 388.12 L778.37 388.76 L778.66 389.40 L778.94 390.05 L779.22 390.69 L779.49 391.34 L779.77 391.98 L780.04 392.63 L780.31 393.28 L780.58 393.93 L780.85 394.58 L781.11 395.23 L781.38 395.88 L781.64 396.53 L781.90 397.18 L782.16 397.84 L782.42 398.49 L782.67 399.14 L782.93 399.80 L783.18 400.45 L783.43 401.11 L783.68 401.77 L783.92 402.43 L784.17 403.08 L784.41 403.74 L784.65 404.40 L784.89 405.06 L785.13 405.72 L785.37 406.38 L785.60 407.05 L785.83 407.71 L786.07 408.37 L786.30 409.04 L786.53 409.70 L786.75 410.36 L786.98 411.03 L787.20 411.70 L787.42 412.36 L787.65 413.03 L787.86 413.70 L788.08 414.36 L788.30 415.03 L788.51 415.70 L788.73 416.37 L788.94 417.04 L789.15 417.71 L789.36 418.38 L789.57 419.05 L789.77 419.72 L789.98 420.39 L790.18 421.07 L790.38 421.74 L790.58 422.41 L790.78 423.09 L790.98 423.76 L791.18 424.43 L791.37 425.11 L791.57 425.78 L791.76 426.46 L791.95 427.14 L792.14 427.81 L792.33 428.49 L792.52 429.17 L792.70 429.84 L792.89 430.52 L793.07 431.20 L793.25 431.88 L793.43 432.56 L793.61 433.24 L793.79 433.91 L793.97 434.59 L794.14 435.27 L794.32 435.95 L794.49 436.64 L794.67 437.32 L794.84 438.00 L795.01 438.68 L795.18 439.36 L795.34 440.04 L795.51 440.73 L795.68 441.41 L795.84 442.09 L796.00 442.77 L796.16 443.46 L796.33 444.14 L796.49 444.82 L796.64 445.51 L796.80 446.19 L796.96 446.88 L797.11 447.56 L797.27 448.25 L797.42 448.93 L797.57 449.62 L797.73 450.31 L797.88 450.99 L798.02 451.68 L798.17 452.36 L798.32 453.05 L798.47 453.74 L798.61 454.43 L798.76 455.11 L798.90 455.80 L799.04 456.49 L799.18 457.18 L799.32 457.87 L799.46 458.55 L799.60 459.24 L799.74 459.93 L799.87 460.62 L800.01 461.31 L800.14 462.00 L800.28 462.69 L800.41 463.38 L800.54 464.07 L800.67 464.76 L800.80 465.45 L800.93 466.14 L801.06 466.83 L801.19 467.52 L801.31 468.21 L801.44 468.90 L801.57 469.59 L801.69 470.28 L801.81 470.98 L801.93 471.67 L802.06 472.36 L802.18 473.05 L802.30 473.74 L802.42 474.44 L802.53 475.13 L802.65 475.82 L802.77 476.51 L802.88 477.21 L803.00 477.90 L803.11 478.59 L803.23 479.29 L803.34 479.98 L803.45 480.67 L803.56 481.37 L803.67 482.06 L803.78 482.75 L803.89 483.45 L804.00 484.14 L804.10 484.84 L804.21 485.53 L804.32 486.22 L804.42 486.92 L804.53 487.61 L804.63 488.31 L804.73 489.00 L804.83 489.70 L804.94 490.39 L805.04 491.09 L805.14 491.78 L805.24 492.48 L805.33 493.17 L805.43 493.87 L805.53 494.57 L805.63 495.26 L805.72 495.96 L805.82 496.65 L805.91 497.35 L806.01 498.05 L806.10 498.74 L806.19 499.44 L806.29 500.13 L806.38 500.83 L806.47 501.53 L806.56 502.22 L806.65 502.92 L806.74 503.62 L806.82 504.31 L806.91 505.01 L807.00 505.71 L807.09 506.41 L807.17 507.10 L807.26 507.80 L807.34 508.50 L807.43 509.19 L807.51 509.89 L807.59 510.59 L807.68 511.29 L807.76 511.98 L807.84 512.68 L807.92 513.38 L808.00 514.08 L808.08 514.78 L808.16 515.47 L808.24 516.17 L808.31 516.87 L808.39 517.57 L808.47 518.27 L808.54 518.96 L808.62 519.66 L808.70 520.36 L808.77 521.06 L808.84 521.76 L808.92 522.46 L808.99 523.16 L809.06 523.85 L809.14 524.55 L809.21 525.25 L809.28 525.95 L809.35 526.65 L809.42 527.35 L809.49 528.05 L809.56 528.75 L809.63 529.45 L809.70 530.14 L809.76 530.84 L809.83 531.54 L809.90 532.24 L809.96 532.94 L810.03 533.64 L810.10 534.34 L810.16 535.04 L810.22 535.74 L810.29 536.44 L810.35 537.14 L810.42 537.84 L810.48 538.54 L810.54 539.24 L810.60 539.94 L810.66 540.64 L810.72 541.34 L810.78 542.04 L810.84 542.74 L810.90 543.44 L810.96 544.14 L811.02 544.84 L811.08 545.54 L811.14 546.24 L811.20 546.94 L811.25 547.64 L811.31 548.34 L811.37 549.04 L811.42 549.74 L811.48 550.44 L811.53 551.14 L811.59 551.84" fill="none" stroke="#000" stroke-width="1.4" stroke-dasharray="6.5 1.2"/>
</g>
<path d="M184.95 97.90 L197.25 97.90 L191.10 108.40 Z" fill="#00ffff" stroke="#ff00ff" stroke-width="1.90" stroke-linejoin="miter"/>
<path d="M184.80 101.45 L197.40 101.45" stroke="#0000ff" stroke-width="1.80" fill="none"/>
<path d="M191.10 101.45 L191.10 109.95" stroke="#0000ff" stroke-width="1.80" fill="none"/>
<path d="M218.05 102.05 L230.35 102.05 L224.20 112.55 Z" fill="#00ffff" stroke="#ff00ff" stroke-width="1.90" stroke-linejoin="miter"/>
<path d="M217.90 105.60 L230.50 105.60" stroke="#0000ff" stroke-width="1.80" fill="none"/>
<path d="M224.20 97.50 L224.20 113.90" stroke="#0000ff" stroke-width="1.80" fill="none"/>
<path d="M245.60 106.65 L257.90 106.65 L251.75 117.15 Z" fill="#00ffff" stroke="#ff00ff" stroke-width="1.90" stroke-linejoin="miter"/>
<path d="M245.45 110.20 L258.05 110.20" stroke="#0000ff" stroke-width="1.80" fill="none"/>
<path d="M251.75 110.20 L251.75 118.70" stroke="#0000ff" stroke-width="1.80" fill="none"/>
<path d="M268.65 110.05 L280.95 110.05 L274.80 120.55 Z" fill="#00ffff" stroke="#ff00ff" stroke-width="1.90" stroke-linejoin="miter"/>
<path d="M268.50 113.60 L281.10 113.60" stroke="#0000ff" stroke-width="1.80" fill="none"/>
<path d="M274.80 105.50 L274.80 121.90" stroke="#0000ff" stroke-width="1.80" fill="none"/>
<path d="M298.85 115.35 L311.15 115.35 L305.00 125.85 Z" fill="#00ffff" stroke="#ff00ff" stroke-width="1.90" stroke-linejoin="miter"/>
<path d="M298.70 118.90 L311.30 118.90" stroke="#0000ff" stroke-width="1.80" fill="none"/>
<path d="M305.00 118.90 L305.00 127.40" stroke="#0000ff" stroke-width="1.80" fill="none"/>
<path d="M332.20 120.55 L344.50 120.55 L338.35 131.05 Z" fill="#00ffff" stroke="#ff00ff" stroke-width="1.90" stroke-linejoin="miter"/>
<path d="M332.05 124.10 L344.65 124.10" stroke="#0000ff" stroke-width="1.80" fill="none"/>
<path d="M338.35 116.00 L338.35 132.40" stroke="#0000ff" stroke-width="1.80" fill="none"/>
<path d="M359.65 125.65 L371.95 125.65 L365.80 136.15 Z" fill="#00ffff" stroke="#ff00ff" stroke-width="1.90" stroke-linejoin="miter"/>
<path d="M359.50 129.20 L372.10 129.20" stroke="#0000ff" stroke-width="1.80" fill="none"/>
<path d="M365.80 129.20 L365.80 137.70" stroke="#0000ff" stroke-width="1.80" fill="none"/>
<path d="M383.35 130.65 L395.65 130.65 L389.50 141.15 Z" fill="#00ffff" stroke="#ff00ff" stroke-width="1.90" stroke-linejoin="miter"/>
<path d="M383.20 134.20 L395.80 134.20" stroke="#0000ff" stroke-width="1.80" fill="none"/>
<path d="M389.50 134.20 L389.50 142.70" stroke="#0000ff" stroke-width="1.80" fill="none"/>
<path d="M403.95 135.35 L416.25 135.35 L410.10 145.85 Z" fill="#00ffff" stroke="#ff00ff" stroke-width="1.90" stroke-linejoin="miter"/>
<path d="M403.80 138.90 L416.40 138.90" stroke="#0000ff" stroke-width="1.80" fill="none"/>
<path d="M410.10 138.90 L410.10 147.40" stroke="#0000ff" stroke-width="1.80" fill="none"/>
<path d="M422.20 139.45 L434.50 139.45 L428.35 149.95 Z" fill="#00ffff" stroke="#ff00ff" stroke-width="1.90" stroke-linejoin="miter"/>
<path d="M422.05 143.00 L434.65 143.00" stroke="#0000ff" stroke-width="1.80" fill="none"/>
<path d="M428.35 143.00 L428.35 151.50" stroke="#0000ff" stroke-width="1.80" fill="none"/>
<path d="M446.55 146.35 L458.85 146.35 L452.70 156.85 Z" fill="#00ffff" stroke="#ff00ff" stroke-width="1.90" stroke-linejoin="miter"/>
<path d="M446.40 149.90 L459.00 149.90" stroke="#0000ff" stroke-width="1.80" fill="none"/>
<path d="M452.70 149.90 L452.70 158.40" stroke="#0000ff" stroke-width="1.80" fill="none"/>
<path d="M474.55 154.55 L486.85 154.55 L480.70 165.05 Z" fill="#00ffff" stroke="#ff00ff" stroke-width="1.90" stroke-linejoin="miter"/>
<path d="M474.40 158.10 L487.00 158.10" stroke="#0000ff" stroke-width="1.80" fill="none"/>
<path d="M480.70 158.10 L480.70 166.60" stroke="#0000ff" stroke-width="1.80" fill="none"/>
<path d="M498.05 162.25 L510.35 162.25 L504.20 172.75 Z" fill="#00ffff" stroke="#ff00ff" stroke-width="1.90" stroke-linejoin="miter"/>
<path d="M497.90 165.80 L510.50 165.80" stroke="#0000ff" stroke-width="1.80" fill="none"/>
<path d="M504.20 165.80 L504.20 174.30" stroke="#0000ff" stroke-width="1.80" fill="none"/>
<path d="M518.85 169.25 L531.15 169.25 L525.00 179.75 Z" fill="#00ffff" stroke="#ff00ff" stroke-width="1.90" stroke-linejoin="miter"/>
<path d="M518.70 172.80 L531.30 172.80" stroke="#0000ff" stroke-width="1.80" fill="none"/>
<path d="M525.00 164.70 L525.00 181.10" stroke="#0000ff" stroke-width="1.80" fill="none"/>
<path d="M537.45 175.95 L549.75 175.95 L543.60 186.45 Z" fill="#00ffff" stroke="#ff00ff" stroke-width="1.90" stroke-linejoin="miter"/>
<path d="M537.30 179.50 L549.90 179.50" stroke="#0000ff" stroke-width="1.80" fill="none"/>
<path d="M543.60 179.50 L543.60 188.00" stroke="#0000ff" stroke-width="1.80" fill="none"/>
<path d="M569.45 187.75 L581.75 187.75 L575.60 198.25 Z" fill="#00ffff" stroke="#ff00ff" stroke-width="1.90" stroke-linejoin="miter"/>
<path d="M569.30 191.30 L581.90 191.30" stroke="#0000ff" stroke-width="1.80" fill="none"/>
<path d="M575.60 183.20 L575.60 199.60" stroke="#0000ff" stroke-width="1.80" fill="none"/>
<path d="M602.10 201.95 L614.40 201.95 L608.25 212.45 Z" fill="#00ffff" stroke="#ff00ff" stroke-width="1.90" stroke-linejoin="miter"/>
<path d="M601.95 205.50 L614.55 205.50" stroke="#0000ff" stroke-width="1.80" fill="none"/>
<path d="M608.25 197.40 L608.25 213.80" stroke="#0000ff" stroke-width="1.80" fill="none"/>
<path d="M638.75 218.25 L651.05 218.25 L644.90 228.75 Z" fill="#00ffff" stroke="#ff00ff" stroke-width="1.90" stroke-linejoin="miter"/>
<path d="M638.60 221.80 L651.20 221.80" stroke="#0000ff" stroke-width="1.80" fill="none"/>
<path d="M644.90 221.80 L644.90 230.30" stroke="#0000ff" stroke-width="1.80" fill="none"/>
<path d="M680.25 240.55 L692.55 240.55 L686.40 251.05 Z" fill="#00ffff" stroke="#ff00ff" stroke-width="1.90" stroke-linejoin="miter"/>
<path d="M680.10 244.10 L692.70 244.10" stroke="#0000ff" stroke-width="1.80" fill="none"/>
<path d="M686.40 236.00 L686.40 252.40" stroke="#0000ff" stroke-width="1.80" fill="none"/>
<path d="M713.70 259.35 L726.00 259.35 L719.85 269.85 Z" fill="#00ffff" stroke="#ff00ff" stroke-width="1.90" stroke-linejoin="miter"/>
<path d="M713.55 262.90 L726.15 262.90" stroke="#0000ff" stroke-width="1.80" fill="none"/>
<path d="M719.85 254.80 L719.85 271.20" stroke="#0000ff" stroke-width="1.80" fill="none"/>
<path d="M753.65 282.75 L765.95 282.75 L759.80 293.25 Z" fill="#00ffff" stroke="#ff00ff" stroke-width="1.90" stroke-linejoin="miter"/>
<path d="M753.40 285.45 L766.20 285.45" stroke="#0000ff" stroke-width="1.80" fill="none"/>
<path d="M753.40 287.15 L766.20 287.15" stroke="#0000ff" stroke-width="1.80" fill="none"/>
<path d="M759.80 278.20 L759.80 294.60" stroke="#0000ff" stroke-width="1.80" fill="none"/>
<path d="M801.40 359.10 L801.40 376.05" stroke="#0000ff" stroke-width="1.80" fill="none"/>
<path d="M795.05 364.10 L807.75 364.10 L801.40 375.10 Z" fill="#00ffff" stroke="#ff00ff" stroke-width="1.50" stroke-linejoin="miter"/>
<path d="M794.90 361.70 L807.90 361.70" stroke="#0000ff" stroke-width="1.80" fill="none"/>
<path d="M794.90 373.80 L807.90 373.80" stroke="#0000ff" stroke-width="1.80" fill="none"/>
<rect x="201.30" y="146.30" width="9.40" height="9.40" fill="#ff00ff" stroke="#ff0000" stroke-width="1.90"/>
<path d="M206.00 145.90 L206.00 151.00" stroke="#ff0000" stroke-width="1.60" fill="none"/>
<path d="M206.00 151.00 L206.00 156.10" stroke="#ff0000" stroke-width="1.60" fill="none"/>
<path d="M199.65 151.00 L212.35 151.00" stroke="#ff0000" stroke-width="1.60" fill="none"/>
<path d="M199.65 151.00 L212.35 151.00" stroke="#ff0000" stroke-width="1.60" fill="none"/>
<rect x="234.35" y="150.60" width="9.40" height="9.40" fill="#ff00ff" stroke="#ff0000" stroke-width="1.90"/>
<path d="M239.05 150.20 L239.05 155.30" stroke="#ff0000" stroke-width="1.60" fill="none"/>
<path d="M239.05 155.30 L239.05 160.40" stroke="#ff0000" stroke-width="1.60" fill="none"/>
<path d="M232.70 155.30 L245.40 155.30" stroke="#ff0000" stroke-width="1.60" fill="none"/>
<path d="M232.70 155.30 L245.40 155.30" stroke="#ff0000" stroke-width="1.60" fill="none"/>
<rect x="261.80" y="154.80" width="9.40" height="9.40" fill="#ff00ff" stroke="#ff0000" stroke-width="1.90"/>
<path d="M266.50 154.40 L266.50 159.50" stroke="#ff0000" stroke-width="1.60" fill="none"/>
<path d="M266.50 159.50 L266.50 164.60" stroke="#ff0000" stroke-width="1.60" fill="none"/>
<path d="M260.15 159.50 L272.85 159.50" stroke="#ff0000" stroke-width="1.60" fill="none"/>
<path d="M260.15 159.50 L272.85 159.50" stroke="#ff0000" stroke-width="1.60" fill="none"/>
<rect x="285.50" y="158.55" width="9.40" height="9.40" fill="#ff00ff" stroke="#ff0000" stroke-width="1.90"/>
<path d="M290.20 158.15 L290.20 163.25" stroke="#ff0000" stroke-width="1.60" fill="none"/>
<path d="M290.20 163.25 L290.20 168.35" stroke="#ff0000" stroke-width="1.60" fill="none"/>
<path d="M283.85 163.25 L296.55 163.25" stroke="#ff0000" stroke-width="1.60" fill="none"/>
<path d="M283.85 163.25 L296.55 163.25" stroke="#ff0000" stroke-width="1.60" fill="none"/>
<rect x="305.70" y="162.20" width="9.40" height="9.40" fill="#ff00ff" stroke="#ff0000" stroke-width="1.90"/>
<path d="M310.40 161.80 L310.40 166.90" stroke="#ff0000" stroke-width="1.60" fill="none"/>
<path d="M310.40 166.90 L310.40 172.00" stroke="#ff0000" stroke-width="1.60" fill="none"/>
<path d="M304.05 166.90 L316.75 166.90" stroke="#ff0000" stroke-width="1.60" fill="none"/>
<path d="M304.05 166.90 L316.75 166.90" stroke="#ff0000" stroke-width="1.60" fill="none"/>
<rect x="324.70" y="165.70" width="9.40" height="9.40" fill="#ff00ff" stroke="#ff0000" stroke-width="1.90"/>
<path d="M329.40 165.30 L329.40 170.40" stroke="#ff0000" stroke-width="1.60" fill="none"/>
<path d="M329.40 170.40 L329.40 175.50" stroke="#ff0000" stroke-width="1.60" fill="none"/>
<path d="M323.05 170.40 L335.75 170.40" stroke="#ff0000" stroke-width="1.60" fill="none"/>
<path d="M323.05 170.40 L335.75 170.40" stroke="#ff0000" stroke-width="1.60" fill="none"/>
<rect x="341.00" y="168.60" width="9.40" height="9.40" fill="#ff00ff" stroke="#ff0000" stroke-width="1.90"/>
<path d="M345.70 168.20 L345.70 173.30" stroke="#ff0000" stroke-width="1.60" fill="none"/>
<path d="M345.70 173.30 L345.70 178.40" stroke="#ff0000" stroke-width="1.60" fill="none"/>
<path d="M339.35 173.30 L352.05 173.30" stroke="#ff0000" stroke-width="1.60" fill="none"/>
<path d="M339.35 173.30 L352.05 173.30" stroke="#ff0000" stroke-width="1.60" fill="none"/>
<rect x="355.90" y="172.10" width="9.40" height="9.40" fill="#ff00ff" stroke="#ff0000" stroke-width="1.90"/>
<path d="M360.60 171.70 L360.60 176.80" stroke="#ff0000" stroke-width="1.60" fill="none"/>
<path d="M360.60 176.80 L360.60 181.90" stroke="#ff0000" stroke-width="1.60" fill="none"/>
<path d="M354.25 176.80 L366.95 176.80" stroke="#ff0000" stroke-width="1.60" fill="none"/>
<path d="M354.25 176.80 L366.95 176.80" stroke="#ff0000" stroke-width="1.60" fill="none"/>
<rect x="369.80" y="174.90" width="9.40" height="9.40" fill="#ff00ff" stroke="#ff0000" stroke-width="1.90"/>
<path d="M374.50 174.50 L374.50 179.60" stroke="#ff0000" stroke-width="1.60" fill="none"/>
<path d="M374.50 179.60 L374.50 184.70" stroke="#ff0000" stroke-width="1.60" fill="none"/>
<path d="M368.15 179.60 L380.85 179.60" stroke="#ff0000" stroke-width="1.60" fill="none"/>
<path d="M368.15 179.60 L380.85 179.60" stroke="#ff0000" stroke-width="1.60" fill="none"/>
<rect x="382.80" y="177.00" width="9.40" height="9.40" fill="#ff00ff" stroke="#ff0000" stroke-width="1.90"/>
<path d="M387.50 176.60 L387.50 181.70" stroke="#ff0000" stroke-width="1.60" fill="none"/>
<path d="M387.50 181.70 L387.50 186.80" stroke="#ff0000" stroke-width="1.60" fill="none"/>
<path d="M381.15 181.70 L393.85 181.70" stroke="#ff0000" stroke-width="1.60" fill="none"/>
<path d="M381.15 181.70 L393.85 181.70" stroke="#ff0000" stroke-width="1.60" fill="none"/>
<rect x="394.70" y="179.65" width="9.40" height="9.40" fill="#ff00ff" stroke="#ff0000" stroke-width="1.90"/>
<path d="M399.40 179.25 L399.40 184.35" stroke="#ff0000" stroke-width="1.60" fill="none"/>
<path d="M399.40 184.35 L399.40 189.45" stroke="#ff0000" stroke-width="1.60" fill="none"/>
<path d="M393.05 184.35 L405.75 184.35" stroke="#ff0000" stroke-width="1.60" fill="none"/>
<path d="M393.05 184.35 L405.75 184.35" stroke="#ff0000" stroke-width="1.60" fill="none"/>
<rect x="405.70" y="182.40" width="9.40" height="9.40" fill="#ff00ff" stroke="#ff0000" stroke-width="1.90"/>
<path d="M410.40 182.00 L410.40 187.10" stroke="#ff0000" stroke-width="1.60" fill="none"/>
<path d="M410.40 187.10 L410.40 192.20" stroke="#ff0000" stroke-width="1.60" fill="none"/>
<path d="M404.05 187.10 L416.75 187.10" stroke="#ff0000" stroke-width="1.60" fill="none"/>
<path d="M404.05 187.10 L416.75 187.10" stroke="#ff0000" stroke-width="1.60" fill="none"/>
<rect x="420.60" y="186.00" width="9.40" height="9.40" fill="#ff00ff" stroke="#ff0000" stroke-width="1.90"/>
<path d="M425.30 185.60 L425.30 190.70" stroke="#ff0000" stroke-width="1.60" fill="none"/>
<path d="M425.30 190.70 L425.30 195.80" stroke="#ff0000" stroke-width="1.60" fill="none"/>
<path d="M418.95 190.70 L431.65 190.70" stroke="#ff0000" stroke-width="1.60" fill="none"/>
<path d="M418.95 190.70 L431.65 190.70" stroke="#ff0000" stroke-width="1.60" fill="none"/>
<rect x="438.90" y="190.80" width="9.40" height="9.40" fill="#ff00ff" stroke="#ff0000" stroke-width="1.90"/>
<path d="M443.60 190.40 L443.60 195.50" stroke="#ff0000" stroke-width="1.60" fill="none"/>
<path d="M443.60 195.50 L443.60 200.60" stroke="#ff0000" stroke-width="1.60" fill="none"/>
<path d="M437.25 195.50 L449.95 195.50" stroke="#ff0000" stroke-width="1.60" fill="none"/>
<path d="M437.25 195.50 L449.95 195.50" stroke="#ff0000" stroke-width="1.60" fill="none"/>
<rect x="455.80" y="195.50" width="9.40" height="9.40" fill="#ff00ff" stroke="#ff0000" stroke-width="1.90"/>
<path d="M460.50 195.10 L460.50 200.20" stroke="#ff0000" stroke-width="1.60" fill="none"/>
<path d="M460.50 200.20 L460.50 205.30" stroke="#ff0000" stroke-width="1.60" fill="none"/>
<path d="M454.15 200.20 L466.85 200.20" stroke="#ff0000" stroke-width="1.60" fill="none"/>
<path d="M454.15 200.20 L466.85 200.20" stroke="#ff0000" stroke-width="1.60" fill="none"/>
<rect x="477.30" y="201.20" width="9.40" height="9.40" fill="#ff00ff" stroke="#ff0000" stroke-width="1.90"/>
<path d="M482.00 200.80 L482.00 205.90" stroke="#ff0000" stroke-width="1.60" fill="none"/>
<path d="M482.00 205.90 L482.00 211.00" stroke="#ff0000" stroke-width="1.60" fill="none"/>
<path d="M475.65 205.90 L488.35 205.90" stroke="#ff0000" stroke-width="1.60" fill="none"/>
<path d="M475.65 205.90 L488.35 205.90" stroke="#ff0000" stroke-width="1.60" fill="none"/>
<rect x="502.90" y="209.70" width="9.40" height="9.40" fill="#ff00ff" stroke="#ff0000" stroke-width="1.90"/>
<path d="M507.60 209.30 L507.60 214.40" stroke="#ff0000" stroke-width="1.60" fill="none"/>
<path d="M507.60 214.40 L507.60 219.50" stroke="#ff0000" stroke-width="1.60" fill="none"/>
<path d="M501.25 214.40 L513.95 214.40" stroke="#ff0000" stroke-width="1.60" fill="none"/>
<path d="M501.25 214.40 L513.95 214.40" stroke="#ff0000" stroke-width="1.60" fill="none"/>
<rect x="525.20" y="217.70" width="9.40" height="9.40" fill="#ff00ff" stroke="#ff0000" stroke-width="1.90"/>
<path d="M529.90 217.30 L529.90 222.40" stroke="#ff0000" stroke-width="1.60" fill="none"/>
<path d="M529.90 222.40 L529.90 227.50" stroke="#ff0000" stroke-width="1.60" fill="none"/>
<path d="M523.55 222.40 L536.25 222.40" stroke="#ff0000" stroke-width="1.60" fill="none"/>
<path d="M523.55 222.40 L536.25 222.40" stroke="#ff0000" stroke-width="1.60" fill="none"/>
<rect x="545.00" y="224.80" width="9.40" height="9.40" fill="#ff00ff" stroke="#ff0000" stroke-width="1.90"/>
<path d="M549.70 224.40 L549.70 229.20" stroke="#ff0000" stroke-width="1.60" fill="none"/>
<path d="M549.70 229.80 L549.70 234.60" stroke="#ff0000" stroke-width="1.60" fill="none"/>
<path d="M543.35 229.20 L556.05 229.20" stroke="#ff0000" stroke-width="1.60" fill="none"/>
<path d="M543.35 229.80 L556.05 229.80" stroke="#ff0000" stroke-width="1.60" fill="none"/>
<rect x="562.50" y="231.80" width="9.40" height="9.40" fill="#ff00ff" stroke="#ff0000" stroke-width="1.90"/>
<path d="M567.20 231.40 L567.20 236.00" stroke="#ff0000" stroke-width="1.60" fill="none"/>
<path d="M567.20 237.00 L567.20 241.60" stroke="#ff0000" stroke-width="1.60" fill="none"/>
<path d="M560.85 236.00 L573.55 236.00" stroke="#ff0000" stroke-width="1.60" fill="none"/>
<path d="M560.85 237.00 L573.55 237.00" stroke="#ff0000" stroke-width="1.60" fill="none"/>
<rect x="578.20" y="238.70" width="9.40" height="9.40" fill="#ff00ff" stroke="#ff0000" stroke-width="1.90"/>
<path d="M582.90 238.30 L582.90 242.70" stroke="#ff0000" stroke-width="1.60" fill="none"/>
<path d="M582.90 244.10 L582.90 248.50" stroke="#ff0000" stroke-width="1.60" fill="none"/>
<path d="M576.55 242.70 L589.25 242.70" stroke="#ff0000" stroke-width="1.60" fill="none"/>
<path d="M576.55 244.10 L589.25 244.10" stroke="#ff0000" stroke-width="1.60" fill="none"/>
<rect x="592.90" y="244.00" width="9.40" height="9.40" fill="#ff00ff" stroke="#ff0000" stroke-width="1.90"/>
<path d="M597.60 243.60 L597.60 247.90" stroke="#ff0000" stroke-width="1.60" fill="none"/>
<path d="M597.60 249.50 L597.60 253.80" stroke="#ff0000" stroke-width="1.60" fill="none"/>
<path d="M591.25 247.90 L603.95 247.90" stroke="#ff0000" stroke-width="1.60" fill="none"/>
<path d="M591.25 249.50 L603.95 249.50" stroke="#ff0000" stroke-width="1.60" fill="none"/>
<rect x="606.00" y="250.95" width="9.40" height="9.40" fill="#ff00ff" stroke="#ff0000" stroke-width="1.90"/>
<path d="M610.70 250.55 L610.70 254.65" stroke="#ff0000" stroke-width="1.60" fill="none"/>
<path d="M610.70 256.65 L610.70 260.75" stroke="#ff0000" stroke-width="1.60" fill="none"/>
<path d="M604.35 254.65 L617.05 254.65" stroke="#ff0000" stroke-width="1.60" fill="none"/>
<path d="M604.35 256.65 L617.05 256.65" stroke="#ff0000" stroke-width="1.60" fill="none"/>
<rect x="618.30" y="254.90" width="9.40" height="9.40" fill="#ff00ff" stroke="#ff0000" stroke-width="1.90"/>
<path d="M623.00 254.50 L623.00 258.40" stroke="#ff0000" stroke-width="1.60" fill="none"/>
<path d="M623.00 260.80 L623.00 264.70" stroke="#ff0000" stroke-width="1.60" fill="none"/>
<path d="M616.65 258.40 L629.35 258.40" stroke="#ff0000" stroke-width="1.60" fill="none"/>
<path d="M616.65 260.80 L629.35 260.80" stroke="#ff0000" stroke-width="1.60" fill="none"/>
<rect x="632.25" y="263.80" width="9.40" height="9.40" fill="#ff00ff" stroke="#ff0000" stroke-width="1.90"/>
<path d="M636.95 263.40 L636.95 266.50" stroke="#ff0000" stroke-width="1.60" fill="none"/>
<path d="M636.95 270.50 L636.95 273.60" stroke="#ff0000" stroke-width="1.60" fill="none"/>
<path d="M630.60 266.50 L643.30 266.50" stroke="#ff0000" stroke-width="1.60" fill="none"/>
<path d="M630.60 270.50 L643.30 270.50" stroke="#ff0000" stroke-width="1.60" fill="none"/>
<rect x="647.80" y="270.80" width="9.40" height="9.40" fill="#ff00ff" stroke="#ff0000" stroke-width="1.90"/>
<path d="M652.50 270.40 L652.50 273.30" stroke="#ff0000" stroke-width="1.60" fill="none"/>
<path d="M652.50 277.70 L652.50 280.60" stroke="#ff0000" stroke-width="1.60" fill="none"/>
<path d="M646.15 273.30 L658.85 273.30" stroke="#ff0000" stroke-width="1.60" fill="none"/>
<path d="M646.15 277.70 L658.85 277.70" stroke="#ff0000" stroke-width="1.60" fill="none"/>
<rect x="662.30" y="275.90" width="9.40" height="9.40" fill="#ff00ff" stroke="#ff0000" stroke-width="1.90"/>
<path d="M667.00 275.50 L667.00 278.30" stroke="#ff0000" stroke-width="1.60" fill="none"/>
<path d="M667.00 282.90 L667.00 285.70" stroke="#ff0000" stroke-width="1.60" fill="none"/>
<path d="M660.65 278.30 L673.35 278.30" stroke="#ff0000" stroke-width="1.60" fill="none"/>
<path d="M660.65 282.90 L673.35 282.90" stroke="#ff0000" stroke-width="1.60" fill="none"/>
<rect x="675.25" y="287.65" width="9.40" height="9.40" fill="#ff00ff" stroke="#ff0000" stroke-width="1.90"/>
<path d="M679.95 287.25 L679.95 288.75" stroke="#ff0000" stroke-width="1.60" fill="none"/>
<path d="M679.95 295.95 L679.95 297.45" stroke="#ff0000" stroke-width="1.60" fill="none"/>
<path d="M673.60 288.75 L686.30 288.75" stroke="#ff0000" stroke-width="1.60" fill="none"/>
<path d="M673.60 295.95 L686.30 295.95" stroke="#ff0000" stroke-width="1.60" fill="none"/>
<rect x="687.20" y="295.65" width="9.40" height="9.40" fill="#ff00ff" stroke="#ff0000" stroke-width="1.90"/>
<path d="M685.55 295.55 L698.25 295.55" stroke="#ff0000" stroke-width="1.60" fill="none"/>
<path d="M685.55 305.15 L698.25 305.15" stroke="#ff0000" stroke-width="1.60" fill="none"/>
<rect x="700.50" y="306.20" width="9.40" height="9.40" fill="#ff00ff" stroke="#ff0000" stroke-width="1.90"/>
<path d="M698.85 305.40 L711.55 305.40" stroke="#ff0000" stroke-width="1.70" fill="none"/>
<path d="M698.85 316.50 L711.55 316.50" stroke="#ff0000" stroke-width="1.70" fill="none"/>
<path d="M718.85 322.40 L718.85 323.80" stroke="#ff0000" stroke-width="1.90" fill="none"/>
<path d="M718.85 335.00 L718.85 340.90" stroke="#ff0000" stroke-width="1.90" fill="none"/>
<rect x="714.15" y="324.70" width="9.40" height="9.40" fill="#ff00ff" stroke="#ff0000" stroke-width="1.90"/>
<path d="M712.50 322.40 L725.20 322.40" stroke="#ff0000" stroke-width="1.70" fill="none"/>
<path d="M712.50 340.90 L725.20 340.90" stroke="#ff0000" stroke-width="1.70" fill="none"/>
<path d="M736.55 338.80 L736.55 339.10" stroke="#ff0000" stroke-width="1.90" fill="none"/>
<rect x="731.85" y="328.50" width="9.40" height="9.40" fill="#ff00ff" stroke="#ff0000" stroke-width="1.90"/>
<path d="M730.20 327.60 L742.90 327.60" stroke="#ff0000" stroke-width="1.70" fill="none"/>
<path d="M730.20 339.10 L742.90 339.10" stroke="#ff0000" stroke-width="1.70" fill="none"/>
<path d="M760.75 351.00 L760.75 352.90" stroke="#ff0000" stroke-width="1.90" fill="none"/>
<path d="M760.75 364.10 L760.75 370.90" stroke="#ff0000" stroke-width="1.90" fill="none"/>
<rect x="756.05" y="353.80" width="9.40" height="9.40" fill="#ff00ff" stroke="#ff0000" stroke-width="1.90"/>
<path d="M754.40 351.00 L767.10 351.00" stroke="#ff0000" stroke-width="1.70" fill="none"/>
<path d="M754.40 370.90 L767.10 370.90" stroke="#ff0000" stroke-width="1.70" fill="none"/>
<path d="M789.80 374.90 L789.80 379.80" stroke="#ff0000" stroke-width="1.90" fill="none"/>
<path d="M789.80 391.00 L789.80 407.80" stroke="#ff0000" stroke-width="1.90" fill="none"/>
<rect x="785.10" y="380.70" width="9.40" height="9.40" fill="#ff00ff" stroke="#ff0000" stroke-width="1.90"/>
<path d="M783.45 374.90 L796.15 374.90" stroke="#ff0000" stroke-width="1.70" fill="none"/>
<path d="M783.45 407.80 L796.15 407.80" stroke="#ff0000" stroke-width="1.70" fill="none"/>
<rect x="195.1" y="409.3" width="67.7" height="33.3" fill="url(#hatch)" stroke="#222" stroke-width="0.8"/>
<rect x="223.80" y="465.70" width="10.00" height="10.00" fill="#ff00ff" stroke="#ff0000" stroke-width="1.60"/>
<path d="M222.40 511.45 L235.00 511.45 L228.70 522.35 Z" fill="#00ffff" stroke="#ff00ff" stroke-width="1.50" stroke-linejoin="miter"/>
<g font-family="Liberation Serif, serif" fill="#000">
<text x="157.6" y="276.04" text-anchor="end" font-size="27.6">10<tspan font-size="16.8" dy="-13.8">0</tspan></text>
<text x="157.6" y="228.68" text-anchor="end" font-size="27.6">10<tspan font-size="16.8" dy="-13.8">1</tspan></text>
<text x="157.6" y="181.32" text-anchor="end" font-size="27.6">10<tspan font-size="16.8" dy="-13.8">2</tspan></text>
<text x="157.6" y="133.96" text-anchor="end" font-size="27.6">10<tspan font-size="16.8" dy="-13.8">3</tspan></text>
<text x="157.6" y="86.60" text-anchor="end" font-size="27.6">10<tspan font-size="16.8" dy="-13.8">4</tspan></text>
<path d="M466.3 132 L478.4 144.1 M478.4 132 L466.3 144.1" stroke="#000" stroke-width="1.5" fill="none"/>
<text x="278.2" y="436.3" font-size="30.3" textLength="484" lengthAdjust="spacing">Model (NNLO Theory) hadron+pion fit</text>
<text transform="translate(115.92,560.20) scale(1.0256,1)" font-size="27.6">10</text>
<text transform="translate(143.46,546.40) scale(1.0658,1)" font-size="16.8">-6</text>
<text transform="translate(115.92,512.84) scale(1.0256,1)" font-size="27.6">10</text>
<text transform="translate(143.46,499.04) scale(1.0658,1)" font-size="16.8">-5</text>
<text transform="translate(115.92,465.48) scale(1.0256,1)" font-size="27.6">10</text>
<text transform="translate(143.58,451.68) scale(0.9798,1)" font-size="16.8">-4</text>
<text transform="translate(115.92,418.12) scale(1.0256,1)" font-size="27.6">10</text>
<text transform="translate(143.46,404.32) scale(1.0658,1)" font-size="16.8">-3</text>
<text transform="translate(115.92,370.76) scale(1.0256,1)" font-size="27.6">10</text>
<text transform="translate(143.46,356.96) scale(1.0658,1)" font-size="16.8">-2</text>
<text transform="translate(115.92,323.40) scale(1.0256,1)" font-size="27.6">10</text>
<text transform="translate(143.64,309.60) scale(0.9342,1)" font-size="16.8">-1</text>
<text transform="translate(418.72,584.00) scale(0.9841,1)" font-size="27.6">0.1</text>
<text transform="translate(811.16,584.20) scale(1.0119,1)" font-size="27.6">1</text>
<text transform="translate(436.68,624.20) scale(1.1716,1)" font-size="35.5">z</text>
<text transform="translate(480.77,145.10) scale(1.0394,1)" font-size="30.5">10</text>
<text transform="translate(277.17,480.35) scale(0.9916,1)" font-size="30.3">SLD</text>
<text transform="translate(342.64,480.35) scale(1.1216,1)" font-size="30.3">(</text>
<text transform="translate(355.09,480.35) scale(1.0278,1)" font-size="30.3">π</text>
<text transform="translate(369.72,465.90) scale(1.0595,1)" font-size="20.0">±</text>
<text transform="translate(380.01,480.35) scale(1.1486,1)" font-size="30.3">)</text>
<text transform="translate(277.81,524.00) scale(0.9896,1)" font-size="30.3">DELPHI</text>
<text transform="translate(392.34,524.00) scale(1.1216,1)" font-size="30.3">(</text>
<text transform="translate(404.89,524.00) scale(1.0486,1)" font-size="30.3">π</text>
<text transform="translate(420.75,509.50) scale(1.1190,1)" font-size="20.0">±</text>
<text transform="translate(431.11,524.00) scale(1.1486,1)" font-size="30.3">)</text>
<g transform="translate(93.8,407.3) rotate(-90)">
<text transform="translate(-3.39,0.00) scale(1.1176,1)" font-size="31">1/</text>
<text transform="translate(22.96,0.00) scale(1.2639,1)" font-size="31">σ</text>
<text transform="translate(42.11,12.20) scale(1.0707,1)" font-size="19" font-style="italic">tot</text>
<text transform="translate(70.83,0.00) scale(1.1343,1)" font-size="31">d</text>
<text transform="translate(86.56,0.00) scale(1.3403,1)" font-size="31">σ</text>
<text transform="translate(109.11,-15.90) scale(1.0722,1)" font-size="19" font-style="italic">b-tag</text>
<text transform="translate(150.75,0.00) scale(1.1548,1)" font-size="31">/</text>
<text transform="translate(160.18,0.00) scale(1.1716,1)" font-size="31">d</text>
<text transform="translate(177.21,0.00) scale(1.0702,1)" font-size="31">z</text>
</g>
</g>
</svg>
</body></html>
